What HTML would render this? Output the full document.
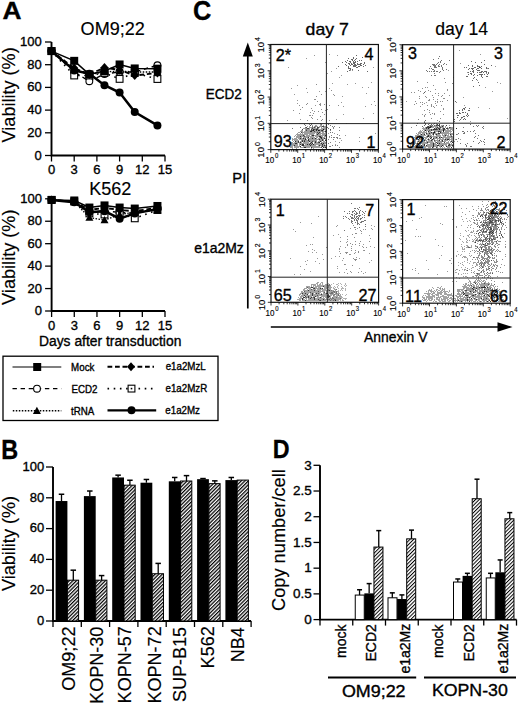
<!DOCTYPE html>
<html><head><meta charset="utf-8"><style>
html,body{margin:0;padding:0;background:#fff;}
svg{display:block;}
text{font-family:"Liberation Sans", sans-serif;fill:#000;stroke:#000;stroke-width:0.35px;}
line{stroke:#000;}
</style></head><body>
<svg width="520" height="705" viewBox="0 0 520 705">
<defs>
<pattern id="hatch" patternUnits="userSpaceOnUse" width="2.55" height="2.55" patternTransform="rotate(45)">
<rect width="2.55" height="2.55" fill="#fff"/><rect width="1.25" height="2.55" fill="#000"/>
</pattern>
<pattern id="hatchd" patternUnits="userSpaceOnUse" width="2.6" height="2.6" patternTransform="rotate(45)">
<rect width="2.6" height="2.6" fill="#fff"/><rect width="1.0" height="2.6" fill="#000"/>
</pattern>
</defs>
<rect width="520" height="705" fill="#fff"/>
<text transform="translate(2.42 19.00) rotate(0) scale(1.063 1)" font-size="24.75" font-weight="bold">A</text>
<text transform="translate(80.59 34.63) rotate(0) scale(0.979 1)" font-size="18.46" style="stroke-width:0.15px">OM9;22</text>
<path d="M51.50 42.00V155.50H165.00" fill="none" stroke="#000" stroke-width="1.9"/>
<line x1="45.00" y1="155.50" x2="51.50" y2="155.50" stroke-width="1.3"/>
<text x="41.80" y="159.50" font-size="13" text-anchor="end">0</text>
<line x1="45.00" y1="132.80" x2="51.50" y2="132.80" stroke-width="1.3"/>
<text x="41.80" y="136.80" font-size="13" text-anchor="end">20</text>
<line x1="45.00" y1="110.10" x2="51.50" y2="110.10" stroke-width="1.3"/>
<text x="41.80" y="114.10" font-size="13" text-anchor="end">40</text>
<line x1="45.00" y1="87.40" x2="51.50" y2="87.40" stroke-width="1.3"/>
<text x="41.80" y="91.40" font-size="13" text-anchor="end">60</text>
<line x1="45.00" y1="64.70" x2="51.50" y2="64.70" stroke-width="1.3"/>
<text x="41.80" y="68.70" font-size="13" text-anchor="end">80</text>
<line x1="45.00" y1="42.00" x2="51.50" y2="42.00" stroke-width="1.3"/>
<text x="41.80" y="46.00" font-size="13" text-anchor="end">100</text>
<line x1="51.50" y1="155.50" x2="51.50" y2="161.50" stroke-width="1.3"/>
<text x="51.50" y="174.30" font-size="13" text-anchor="middle">0</text>
<line x1="74.20" y1="155.50" x2="74.20" y2="161.50" stroke-width="1.3"/>
<text x="74.20" y="174.30" font-size="13" text-anchor="middle">3</text>
<line x1="96.90" y1="155.50" x2="96.90" y2="161.50" stroke-width="1.3"/>
<text x="96.90" y="174.30" font-size="13" text-anchor="middle">6</text>
<line x1="119.60" y1="155.50" x2="119.60" y2="161.50" stroke-width="1.3"/>
<text x="119.60" y="174.30" font-size="13" text-anchor="middle">9</text>
<line x1="142.30" y1="155.50" x2="142.30" y2="161.50" stroke-width="1.3"/>
<text x="142.30" y="174.30" font-size="13" text-anchor="middle">12</text>
<line x1="165.00" y1="155.50" x2="165.00" y2="161.50" stroke-width="1.3"/>
<text x="165.00" y="174.30" font-size="13" text-anchor="middle">15</text>
<text transform="translate(15.18 142.41) rotate(-90) scale(0.976 1)" font-size="18.53" style="stroke-width:0.15px">Viability (%)</text>
<polyline points="51.50,51.08 74.20,60.84 89.33,74.35 104.47,71.06 119.60,64.47 134.73,68.45 157.43,68.67" fill="none" stroke="#000" stroke-width="1.5"/>
<polyline points="51.50,51.08 74.20,71.96 89.33,81.27 104.47,74.01 119.60,71.96 134.73,71.96 157.43,65.27" fill="none" stroke="#000" stroke-width="1.4" stroke-dasharray="4.4,3.7"/>
<polyline points="51.50,51.08 74.20,70.03 89.33,74.46 104.47,71.96 119.60,71.06 134.73,71.96 157.43,71.96" fill="none" stroke="#000" stroke-width="1.4" stroke-dasharray="1.5,1.5"/>
<polyline points="51.50,51.08 74.20,68.11 89.33,74.46 104.47,67.54 119.60,70.03 134.73,75.48 157.43,72.99" fill="none" stroke="#000" stroke-width="1.9" stroke-dasharray="4.75,2.75"/>
<polyline points="51.50,51.08 74.20,75.48 89.33,75.48 104.47,72.99 119.60,78.89 134.73,72.99 157.43,79.00" fill="none" stroke="#000" stroke-width="1.6" stroke-dasharray="1.6,4.6"/>
<polyline points="51.50,51.08 74.20,70.38 89.33,73.78 104.47,85.13 119.60,92.51 134.73,112.03 157.43,125.42" fill="none" stroke="#000" stroke-width="2.5"/>
<circle cx="51.50" cy="51.08" r="3.40" fill="#fff" stroke="#000" stroke-width="1.1"/>
<circle cx="74.20" cy="71.96" r="3.40" fill="#fff" stroke="#000" stroke-width="1.1"/>
<circle cx="89.33" cy="81.27" r="3.40" fill="#fff" stroke="#000" stroke-width="1.1"/>
<circle cx="104.47" cy="74.01" r="3.40" fill="#fff" stroke="#000" stroke-width="1.1"/>
<circle cx="119.60" cy="71.96" r="3.40" fill="#fff" stroke="#000" stroke-width="1.1"/>
<circle cx="134.73" cy="71.96" r="3.40" fill="#fff" stroke="#000" stroke-width="1.1"/>
<circle cx="157.43" cy="65.27" r="3.40" fill="#fff" stroke="#000" stroke-width="1.1"/>
<rect x="48.10" y="47.68" width="6.80" height="6.80" fill="#fff" stroke="#000" stroke-width="1.1"/>
<rect x="70.80" y="72.08" width="6.80" height="6.80" fill="#fff" stroke="#000" stroke-width="1.1"/>
<rect x="85.93" y="72.08" width="6.80" height="6.80" fill="#fff" stroke="#000" stroke-width="1.1"/>
<rect x="101.07" y="69.59" width="6.80" height="6.80" fill="#fff" stroke="#000" stroke-width="1.1"/>
<rect x="116.20" y="75.49" width="6.80" height="6.80" fill="#fff" stroke="#000" stroke-width="1.1"/>
<rect x="131.33" y="69.59" width="6.80" height="6.80" fill="#fff" stroke="#000" stroke-width="1.1"/>
<rect x="154.03" y="75.60" width="6.80" height="6.80" fill="#fff" stroke="#000" stroke-width="1.1"/>
<path d="M51.50 47.08L55.50 54.28L47.50 54.28Z" fill="#000"/>
<path d="M74.20 66.03L78.20 73.23L70.20 73.23Z" fill="#000"/>
<path d="M89.33 70.46L93.33 77.66L85.33 77.66Z" fill="#000"/>
<path d="M104.47 67.96L108.47 75.16L100.47 75.16Z" fill="#000"/>
<path d="M119.60 67.06L123.60 74.26L115.60 74.26Z" fill="#000"/>
<path d="M134.73 67.96L138.73 75.16L130.73 75.16Z" fill="#000"/>
<path d="M157.43 67.96L161.43 75.16L153.43 75.16Z" fill="#000"/>
<path d="M51.50 46.58L55.50 51.08L51.50 55.58L47.50 51.08Z" fill="#000"/>
<path d="M74.20 63.61L78.20 68.11L74.20 72.61L70.20 68.11Z" fill="#000"/>
<path d="M89.33 69.96L93.33 74.46L89.33 78.96L85.33 74.46Z" fill="#000"/>
<path d="M104.47 63.04L108.47 67.54L104.47 72.04L100.47 67.54Z" fill="#000"/>
<path d="M119.60 65.53L123.60 70.03L119.60 74.53L115.60 70.03Z" fill="#000"/>
<path d="M134.73 70.98L138.73 75.48L134.73 79.98L130.73 75.48Z" fill="#000"/>
<path d="M157.43 68.49L161.43 72.99L157.43 77.49L153.43 72.99Z" fill="#000"/>
<rect x="47.50" y="47.08" width="8.00" height="8.00" fill="#000"/>
<rect x="70.20" y="56.84" width="8.00" height="8.00" fill="#000"/>
<rect x="85.33" y="70.35" width="8.00" height="8.00" fill="#000"/>
<rect x="100.47" y="67.06" width="8.00" height="8.00" fill="#000"/>
<rect x="115.60" y="60.47" width="8.00" height="8.00" fill="#000"/>
<rect x="130.73" y="64.45" width="8.00" height="8.00" fill="#000"/>
<rect x="153.43" y="64.67" width="8.00" height="8.00" fill="#000"/>
<circle cx="51.50" cy="51.08" r="4.00" fill="#000"/>
<circle cx="74.20" cy="70.38" r="4.00" fill="#000"/>
<circle cx="89.33" cy="73.78" r="4.00" fill="#000"/>
<circle cx="104.47" cy="85.13" r="4.00" fill="#000"/>
<circle cx="119.60" cy="92.51" r="4.00" fill="#000"/>
<circle cx="134.73" cy="112.03" r="4.00" fill="#000"/>
<circle cx="157.43" cy="125.42" r="4.00" fill="#000"/>
<text transform="translate(89.15 194.93) rotate(0) scale(0.997 1)" font-size="18.10" style="stroke-width:0.15px">K562</text>
<path d="M51.60 198.80V311.00H165.00" fill="none" stroke="#000" stroke-width="1.9"/>
<line x1="45.10" y1="311.00" x2="51.60" y2="311.00" stroke-width="1.3"/>
<text x="41.90" y="315.00" font-size="13" text-anchor="end">0</text>
<line x1="45.10" y1="288.56" x2="51.60" y2="288.56" stroke-width="1.3"/>
<text x="41.90" y="292.56" font-size="13" text-anchor="end">20</text>
<line x1="45.10" y1="266.12" x2="51.60" y2="266.12" stroke-width="1.3"/>
<text x="41.90" y="270.12" font-size="13" text-anchor="end">40</text>
<line x1="45.10" y1="243.68" x2="51.60" y2="243.68" stroke-width="1.3"/>
<text x="41.90" y="247.68" font-size="13" text-anchor="end">60</text>
<line x1="45.10" y1="221.24" x2="51.60" y2="221.24" stroke-width="1.3"/>
<text x="41.90" y="225.24" font-size="13" text-anchor="end">80</text>
<line x1="45.10" y1="198.80" x2="51.60" y2="198.80" stroke-width="1.3"/>
<text x="41.90" y="202.80" font-size="13" text-anchor="end">100</text>
<line x1="51.60" y1="311.00" x2="51.60" y2="317.00" stroke-width="1.3"/>
<text x="51.60" y="330.00" font-size="13" text-anchor="middle">0</text>
<line x1="74.28" y1="311.00" x2="74.28" y2="317.00" stroke-width="1.3"/>
<text x="74.28" y="330.00" font-size="13" text-anchor="middle">3</text>
<line x1="96.96" y1="311.00" x2="96.96" y2="317.00" stroke-width="1.3"/>
<text x="96.96" y="330.00" font-size="13" text-anchor="middle">6</text>
<line x1="119.64" y1="311.00" x2="119.64" y2="317.00" stroke-width="1.3"/>
<text x="119.64" y="330.00" font-size="13" text-anchor="middle">9</text>
<line x1="142.32" y1="311.00" x2="142.32" y2="317.00" stroke-width="1.3"/>
<text x="142.32" y="330.00" font-size="13" text-anchor="middle">12</text>
<line x1="165.00" y1="311.00" x2="165.00" y2="317.00" stroke-width="1.3"/>
<text x="165.00" y="330.00" font-size="13" text-anchor="middle">15</text>
<text transform="translate(15.18 304.91) rotate(-90) scale(0.980 1)" font-size="18.53" style="stroke-width:0.15px">Viability (%)</text>
<polyline points="51.60,199.92 74.28,200.48 89.40,207.55 104.52,205.42 119.64,207.55 134.76,208.56 157.44,205.98" fill="none" stroke="#000" stroke-width="1.5"/>
<polyline points="51.60,199.92 74.28,201.61 89.40,212.26 104.52,211.14 119.64,212.26 134.76,213.39 157.44,208.90" fill="none" stroke="#000" stroke-width="1.4" stroke-dasharray="4.4,3.7"/>
<polyline points="51.60,199.92 74.28,201.61 89.40,217.65 104.52,220.12 119.64,214.51 134.76,212.26 157.44,210.02" fill="none" stroke="#000" stroke-width="1.4" stroke-dasharray="1.5,1.5"/>
<polyline points="51.60,199.92 74.28,201.61 89.40,210.02 104.52,207.78 119.64,210.02 134.76,211.14 157.44,207.78" fill="none" stroke="#000" stroke-width="1.9" stroke-dasharray="4.75,2.75"/>
<polyline points="51.60,199.92 74.28,201.61 89.40,213.39 104.52,214.51 119.64,213.39 134.76,218.32 157.44,210.02" fill="none" stroke="#000" stroke-width="1.6" stroke-dasharray="1.6,4.6"/>
<polyline points="51.60,199.92 74.28,202.17 89.40,212.26 104.52,211.14 119.64,218.66 134.76,213.39 157.44,208.90" fill="none" stroke="#000" stroke-width="2.5"/>
<circle cx="51.60" cy="199.92" r="3.40" fill="#fff" stroke="#000" stroke-width="1.1"/>
<circle cx="74.28" cy="201.61" r="3.40" fill="#fff" stroke="#000" stroke-width="1.1"/>
<circle cx="89.40" cy="212.26" r="3.40" fill="#fff" stroke="#000" stroke-width="1.1"/>
<circle cx="104.52" cy="211.14" r="3.40" fill="#fff" stroke="#000" stroke-width="1.1"/>
<circle cx="119.64" cy="212.26" r="3.40" fill="#fff" stroke="#000" stroke-width="1.1"/>
<circle cx="134.76" cy="213.39" r="3.40" fill="#fff" stroke="#000" stroke-width="1.1"/>
<circle cx="157.44" cy="208.90" r="3.40" fill="#fff" stroke="#000" stroke-width="1.1"/>
<rect x="48.20" y="196.52" width="6.80" height="6.80" fill="#fff" stroke="#000" stroke-width="1.1"/>
<rect x="70.88" y="198.21" width="6.80" height="6.80" fill="#fff" stroke="#000" stroke-width="1.1"/>
<rect x="86.00" y="209.99" width="6.80" height="6.80" fill="#fff" stroke="#000" stroke-width="1.1"/>
<rect x="101.12" y="211.11" width="6.80" height="6.80" fill="#fff" stroke="#000" stroke-width="1.1"/>
<rect x="116.24" y="209.99" width="6.80" height="6.80" fill="#fff" stroke="#000" stroke-width="1.1"/>
<rect x="131.36" y="214.92" width="6.80" height="6.80" fill="#fff" stroke="#000" stroke-width="1.1"/>
<rect x="154.04" y="206.62" width="6.80" height="6.80" fill="#fff" stroke="#000" stroke-width="1.1"/>
<path d="M51.60 195.92L55.60 203.12L47.60 203.12Z" fill="#000"/>
<path d="M74.28 197.61L78.28 204.81L70.28 204.81Z" fill="#000"/>
<path d="M89.40 213.65L93.40 220.85L85.40 220.85Z" fill="#000"/>
<path d="M104.52 216.12L108.52 223.32L100.52 223.32Z" fill="#000"/>
<path d="M119.64 210.51L123.64 217.71L115.64 217.71Z" fill="#000"/>
<path d="M134.76 208.26L138.76 215.46L130.76 215.46Z" fill="#000"/>
<path d="M157.44 206.02L161.44 213.22L153.44 213.22Z" fill="#000"/>
<path d="M51.60 195.42L55.60 199.92L51.60 204.42L47.60 199.92Z" fill="#000"/>
<path d="M74.28 197.11L78.28 201.61L74.28 206.11L70.28 201.61Z" fill="#000"/>
<path d="M89.40 205.52L93.40 210.02L89.40 214.52L85.40 210.02Z" fill="#000"/>
<path d="M104.52 203.28L108.52 207.78L104.52 212.28L100.52 207.78Z" fill="#000"/>
<path d="M119.64 205.52L123.64 210.02L119.64 214.52L115.64 210.02Z" fill="#000"/>
<path d="M134.76 206.64L138.76 211.14L134.76 215.64L130.76 211.14Z" fill="#000"/>
<path d="M157.44 203.28L161.44 207.78L157.44 212.28L153.44 207.78Z" fill="#000"/>
<rect x="47.60" y="195.92" width="8.00" height="8.00" fill="#000"/>
<rect x="70.28" y="196.48" width="8.00" height="8.00" fill="#000"/>
<rect x="85.40" y="203.55" width="8.00" height="8.00" fill="#000"/>
<rect x="100.52" y="201.42" width="8.00" height="8.00" fill="#000"/>
<rect x="115.64" y="203.55" width="8.00" height="8.00" fill="#000"/>
<rect x="130.76" y="204.56" width="8.00" height="8.00" fill="#000"/>
<rect x="153.44" y="201.98" width="8.00" height="8.00" fill="#000"/>
<circle cx="51.60" cy="199.92" r="4.00" fill="#000"/>
<circle cx="74.28" cy="202.17" r="4.00" fill="#000"/>
<circle cx="89.40" cy="212.26" r="4.00" fill="#000"/>
<circle cx="104.52" cy="211.14" r="4.00" fill="#000"/>
<circle cx="119.64" cy="218.66" r="4.00" fill="#000"/>
<circle cx="134.76" cy="213.39" r="4.00" fill="#000"/>
<circle cx="157.44" cy="208.90" r="4.00" fill="#000"/>
<text transform="translate(39.01 345.90) rotate(0) scale(0.959 1)" font-size="14.45">Days after transduction</text>
<rect x="3" y="356.2" width="215" height="64.3" fill="none" stroke="#000" stroke-width="1.3"/>
<line x1="12.5" y1="367.0" x2="61.3" y2="367.0" stroke-width="1.2"/>
<rect x="33.20" y="363.00" width="8.00" height="8.00" fill="#000"/>
<text transform="translate(71.10 371.10) rotate(0) scale(0.920 1)" font-size="10.60">Mock</text>
<line x1="12.5" y1="388.7" x2="61.3" y2="388.7" stroke-width="1.2" stroke-dasharray="4.4,3.7"/>
<circle cx="37.00" cy="388.70" r="3.40" fill="#fff" stroke="#000" stroke-width="1.1"/>
<text transform="translate(71.50 392.60) rotate(0) scale(0.920 1)" font-size="10.60">ECD2</text>
<line x1="12.8" y1="410.8" x2="61.3" y2="410.8" stroke-width="1.4" stroke-dasharray="1.5,1.5"/>
<path d="M36.90 406.80L40.90 414.00L32.90 414.00Z" fill="#000"/>
<text transform="translate(71.10 414.50) rotate(0) scale(0.920 1)" font-size="10.60">tRNA</text>
<line x1="107.5" y1="366.8" x2="154.0" y2="366.8" stroke-width="1.9" stroke-dasharray="4.75,2.75"/>
<path d="M131.00 362.30L135.00 366.80L131.00 371.30L127.00 366.80Z" fill="#000"/>
<text transform="translate(165.70 370.40) rotate(0) scale(0.920 1)" font-size="10.60">e1a2MzL</text>
<line x1="107.5" y1="388.6" x2="154.0" y2="388.6" stroke-width="1.6" stroke-dasharray="1.6,4.6"/>
<rect x="128.10" y="385.20" width="6.80" height="6.80" fill="#fff" stroke="#000" stroke-width="1.1"/>
<rect x="130.70" y="387.80" width="1.6" height="1.6" fill="#000"/>
<text transform="translate(165.50 391.60) rotate(0) scale(0.920 1)" font-size="10.60">e1a2MzR</text>
<line x1="107.5" y1="410.3" x2="156.2" y2="410.3" stroke-width="2.3"/>
<circle cx="131.50" cy="410.30" r="4.00" fill="#000"/>
<text transform="translate(165.30 414.00) rotate(0) scale(0.920 1)" font-size="10.60">e1a2Mz</text>
<text transform="translate(1.37 458.90) rotate(0) scale(0.877 1)" font-size="26.71" font-weight="bold">B</text>
<path d="M53.00 467.00V621.00H251.10" fill="none" stroke="#000" stroke-width="1.9"/>
<line x1="46.00" y1="621.00" x2="53.00" y2="621.00" stroke-width="1.3"/>
<text x="44.20" y="624.70" font-size="13" text-anchor="end">0</text>
<line x1="46.00" y1="590.20" x2="53.00" y2="590.20" stroke-width="1.3"/>
<text x="44.20" y="593.90" font-size="13" text-anchor="end">20</text>
<line x1="46.00" y1="559.40" x2="53.00" y2="559.40" stroke-width="1.3"/>
<text x="44.20" y="563.10" font-size="13" text-anchor="end">40</text>
<line x1="46.00" y1="528.60" x2="53.00" y2="528.60" stroke-width="1.3"/>
<text x="44.20" y="532.30" font-size="13" text-anchor="end">60</text>
<line x1="46.00" y1="497.80" x2="53.00" y2="497.80" stroke-width="1.3"/>
<text x="44.20" y="501.50" font-size="13" text-anchor="end">80</text>
<line x1="46.00" y1="467.00" x2="53.00" y2="467.00" stroke-width="1.3"/>
<text x="44.20" y="470.70" font-size="13" text-anchor="end">100</text>
<line x1="53.00" y1="621.00" x2="53.00" y2="627.00" stroke-width="1.3"/>
<line x1="81.30" y1="621.00" x2="81.30" y2="627.00" stroke-width="1.3"/>
<line x1="109.60" y1="621.00" x2="109.60" y2="627.00" stroke-width="1.3"/>
<line x1="137.90" y1="621.00" x2="137.90" y2="627.00" stroke-width="1.3"/>
<line x1="166.20" y1="621.00" x2="166.20" y2="627.00" stroke-width="1.3"/>
<line x1="194.50" y1="621.00" x2="194.50" y2="627.00" stroke-width="1.3"/>
<line x1="222.80" y1="621.00" x2="222.80" y2="627.00" stroke-width="1.3"/>
<line x1="251.10" y1="621.00" x2="251.10" y2="627.00" stroke-width="1.3"/>
<text transform="translate(15.18 591.03) rotate(-90) scale(0.976 1)" font-size="18.53" style="stroke-width:0.15px">Viability (%)</text>
<rect x="55.60" y="501.03" width="11.80" height="119.97" fill="#000"/>
<line x1="61.50" y1="501.03" x2="61.50" y2="494.26" stroke-width="1.3"/>
<line x1="58.75" y1="494.26" x2="64.25" y2="494.26" stroke-width="1.5"/>
<rect x="67.40" y="580.19" width="11.20" height="40.81" fill="url(#hatch)" stroke="#000" stroke-width="1"/>
<line x1="73.30" y1="580.19" x2="73.30" y2="570.18" stroke-width="1.3"/>
<line x1="70.55" y1="570.18" x2="76.05" y2="570.18" stroke-width="1.5"/>
<text transform="translate(75.10 690.70) rotate(-90) scale(0.970 1)" font-size="18.60" style="stroke-width:0.15px">OM9;22</text>
<rect x="83.90" y="496.11" width="11.80" height="124.89" fill="#000"/>
<line x1="89.80" y1="496.11" x2="89.80" y2="491.02" stroke-width="1.3"/>
<line x1="87.05" y1="491.02" x2="92.55" y2="491.02" stroke-width="1.5"/>
<rect x="95.70" y="580.19" width="11.20" height="40.81" fill="url(#hatch)" stroke="#000" stroke-width="1"/>
<line x1="101.60" y1="580.19" x2="101.60" y2="575.57" stroke-width="1.3"/>
<line x1="98.85" y1="575.57" x2="104.35" y2="575.57" stroke-width="1.5"/>
<text transform="translate(103.20 703.90) rotate(-90) scale(0.970 1)" font-size="18.60" style="stroke-width:0.15px">KOPN-30</text>
<rect x="112.20" y="477.47" width="11.80" height="143.53" fill="#000"/>
<line x1="118.10" y1="477.47" x2="118.10" y2="475.16" stroke-width="1.3"/>
<line x1="115.35" y1="475.16" x2="120.85" y2="475.16" stroke-width="1.5"/>
<rect x="124.00" y="485.17" width="11.20" height="135.83" fill="url(#hatch)" stroke="#000" stroke-width="1"/>
<line x1="129.90" y1="485.17" x2="129.90" y2="480.24" stroke-width="1.3"/>
<line x1="127.15" y1="480.24" x2="132.65" y2="480.24" stroke-width="1.5"/>
<text transform="translate(131.10 703.40) rotate(-90) scale(0.970 1)" font-size="18.60" style="stroke-width:0.15px">KOPN-57</text>
<rect x="140.50" y="482.71" width="11.80" height="138.29" fill="#000"/>
<line x1="146.40" y1="482.71" x2="146.40" y2="479.47" stroke-width="1.3"/>
<line x1="143.65" y1="479.47" x2="149.15" y2="479.47" stroke-width="1.5"/>
<rect x="152.30" y="573.72" width="11.20" height="47.28" fill="url(#hatch)" stroke="#000" stroke-width="1"/>
<line x1="158.20" y1="573.72" x2="158.20" y2="563.40" stroke-width="1.3"/>
<line x1="155.45" y1="563.40" x2="160.95" y2="563.40" stroke-width="1.5"/>
<text transform="translate(161.30 703.50) rotate(-90) scale(0.970 1)" font-size="18.60" style="stroke-width:0.15px">KOPN-72</text>
<rect x="168.80" y="481.32" width="11.80" height="139.68" fill="#000"/>
<line x1="174.70" y1="481.32" x2="174.70" y2="477.47" stroke-width="1.3"/>
<line x1="171.95" y1="477.47" x2="177.45" y2="477.47" stroke-width="1.5"/>
<rect x="180.60" y="481.01" width="11.20" height="139.99" fill="url(#hatch)" stroke="#000" stroke-width="1"/>
<line x1="186.50" y1="481.01" x2="186.50" y2="475.62" stroke-width="1.3"/>
<line x1="183.75" y1="475.62" x2="189.25" y2="475.62" stroke-width="1.5"/>
<text transform="translate(186.40 702.10) rotate(-90) scale(0.970 1)" font-size="18.60" style="stroke-width:0.15px">SUP-B15</text>
<rect x="197.10" y="479.17" width="11.80" height="141.83" fill="#000"/>
<line x1="203.00" y1="479.17" x2="203.00" y2="478.55" stroke-width="1.3"/>
<line x1="200.25" y1="478.55" x2="205.75" y2="478.55" stroke-width="1.5"/>
<rect x="208.90" y="483.63" width="11.20" height="137.37" fill="url(#hatch)" stroke="#000" stroke-width="1"/>
<line x1="214.80" y1="483.63" x2="214.80" y2="480.86" stroke-width="1.3"/>
<line x1="212.05" y1="480.86" x2="217.55" y2="480.86" stroke-width="1.5"/>
<text transform="translate(214.30 668.40) rotate(-90) scale(0.970 1)" font-size="18.60" style="stroke-width:0.15px">K562</text>
<rect x="225.40" y="480.09" width="11.80" height="140.91" fill="#000"/>
<line x1="231.30" y1="480.09" x2="231.30" y2="477.47" stroke-width="1.3"/>
<line x1="228.55" y1="477.47" x2="234.05" y2="477.47" stroke-width="1.5"/>
<rect x="237.20" y="480.09" width="11.20" height="140.91" fill="url(#hatch)" stroke="#000" stroke-width="1"/>
<text transform="translate(243.50 662.30) rotate(-90) scale(0.970 1)" font-size="18.60" style="stroke-width:0.15px">NB4</text>
<text transform="translate(192.99 20.29) rotate(0) scale(0.928 1)" font-size="27.32" font-weight="bold">C</text>
<text transform="translate(305.57 34.63) rotate(0) scale(1.055 1)" font-size="16.75">day 7</text>
<text transform="translate(435.16 34.82) rotate(0) scale(0.976 1)" font-size="18.08" style="stroke-width:0.15px">day 14</text>
<line x1="247.80" y1="55.00" x2="247.80" y2="308.50" stroke-width="1.7"/>
<path d="M247.8 42.5L252.8 56.5L242.8 56.5Z" fill="#000"/>
<line x1="270.80" y1="327.00" x2="500.00" y2="327.00" stroke-width="1.5"/>
<path d="M512.5 327.0L497.5 322.2L497.5 331.8Z" fill="#000"/>
<text transform="translate(232.32 182.85) rotate(0) scale(0.973 1)" font-size="15.12">PI</text>
<text transform="translate(205.70 99.14) rotate(0) scale(0.956 1)" font-size="14.12">ECD2</text>
<text transform="translate(194.17 252.83) rotate(0) scale(1.008 1)" font-size="13.86">e1a2Mz</text>
<text transform="translate(364.08 341.74) rotate(0) scale(0.909 1)" font-size="15.32">Annexin V</text>
<path d="M306 144h1v1h-1zM323 133h1v1h-1zM322 143h1v1h-1zM322 134h1v1h-1zM297 142h1v1h-1zM317 127h1v1h-1zM298 140h1v1h-1zM320 124h1v1h-1zM318 134h1v1h-1zM319 146h1v1h-1zM312 133h1v1h-1zM320 137h1v1h-1zM308 140h1v1h-1zM304 147h1v1h-1zM292 144h1v1h-1zM312 134h1v1h-1zM302 147h1v1h-1zM309 141h1v1h-1zM317 126h1v1h-1zM307 136h1v1h-1zM318 127h1v1h-1zM324 137h1v1h-1zM295 138h1v1h-1zM314 130h1v1h-1zM312 136h1v1h-1zM308 131h1v1h-1zM307 140h1v1h-1zM312 129h1v1h-1zM312 131h1v1h-1zM307 129h1v1h-1zM307 141h1v1h-1zM300 139h1v1h-1zM318 129h1v1h-1zM301 134h1v1h-1zM312 135h1v1h-1zM315 130h1v1h-1zM324 138h1v1h-1zM307 140h1v1h-1zM318 129h1v1h-1zM324 143h1v1h-1zM325 136h1v1h-1zM315 127h1v1h-1zM297 142h1v1h-1zM302 139h1v1h-1zM295 145h1v1h-1zM299 146h1v1h-1zM324 147h1v1h-1zM312 139h1v1h-1zM323 125h1v1h-1zM321 138h1v1h-1zM293 139h1v1h-1zM309 129h1v1h-1zM323 147h1v1h-1zM303 143h1v1h-1zM324 136h1v1h-1zM316 131h1v1h-1zM315 130h1v1h-1zM322 130h1v1h-1zM293 141h1v1h-1zM322 135h1v1h-1zM296 147h1v1h-1zM317 133h1v1h-1zM310 136h1v1h-1zM307 138h1v1h-1zM323 147h1v1h-1zM292 142h1v1h-1zM307 135h1v1h-1zM339 138h1v1h-1zM312 139h1v1h-1zM309 127h1v1h-1zM305 139h1v1h-1zM321 141h1v1h-1zM310 137h1v1h-1zM297 140h1v1h-1zM306 131h1v1h-1zM319 143h1v1h-1zM325 142h1v1h-1zM306 131h1v1h-1zM319 138h1v1h-1zM304 135h1v1h-1zM321 133h1v1h-1zM312 138h1v1h-1zM300 133h1v1h-1zM317 128h1v1h-1zM301 144h1v1h-1zM312 131h1v1h-1zM318 143h1v1h-1zM296 144h1v1h-1zM313 139h1v1h-1zM310 134h1v1h-1zM307 138h1v1h-1zM294 142h1v1h-1zM314 126h1v1h-1zM320 138h1v1h-1zM305 131h1v1h-1zM314 146h1v1h-1zM320 135h1v1h-1zM304 128h1v1h-1zM308 141h1v1h-1zM308 136h1v1h-1zM309 131h1v1h-1zM320 126h1v1h-1zM320 137h1v1h-1zM294 144h1v1h-1zM307 126h1v1h-1zM323 128h1v1h-1zM306 147h1v1h-1zM299 142h1v1h-1zM318 143h1v1h-1zM310 140h1v1h-1zM316 141h1v1h-1zM295 139h1v1h-1zM297 142h1v1h-1zM311 142h1v1h-1zM292 140h1v1h-1zM312 147h1v1h-1zM312 145h1v1h-1zM307 131h1v1h-1zM321 129h1v1h-1zM323 139h1v1h-1zM322 146h1v1h-1zM291 142h1v1h-1zM320 134h1v1h-1zM315 131h1v1h-1zM318 133h1v1h-1zM306 140h1v1h-1zM320 137h1v1h-1zM317 130h1v1h-1zM306 128h1v1h-1zM302 145h1v1h-1zM308 142h1v1h-1zM299 146h1v1h-1zM322 134h1v1h-1zM317 135h1v1h-1zM301 136h1v1h-1zM319 141h1v1h-1zM319 147h1v1h-1zM315 140h1v1h-1zM323 129h1v1h-1zM324 137h1v1h-1zM317 146h1v1h-1zM323 126h1v1h-1zM319 142h1v1h-1zM297 146h1v1h-1zM306 136h1v1h-1zM308 147h1v1h-1zM305 142h1v1h-1zM317 127h1v1h-1zM326 142h1v1h-1zM300 137h1v1h-1zM290 147h1v1h-1zM324 131h1v1h-1zM296 134h1v1h-1zM319 135h1v1h-1zM308 142h1v1h-1zM322 133h1v1h-1zM308 138h1v1h-1zM310 146h1v1h-1zM316 133h1v1h-1zM292 148h1v1h-1zM296 146h1v1h-1zM297 145h1v1h-1zM301 135h1v1h-1zM317 134h1v1h-1zM300 139h1v1h-1zM305 131h1v1h-1zM321 137h1v1h-1zM324 146h1v1h-1zM304 128h1v1h-1zM314 147h1v1h-1zM299 139h1v1h-1zM317 142h1v1h-1zM307 136h1v1h-1zM317 143h1v1h-1zM307 133h1v1h-1zM320 129h1v1h-1zM309 132h1v1h-1zM301 139h1v1h-1zM301 135h1v1h-1zM305 147h1v1h-1zM325 130h1v1h-1zM322 133h1v1h-1zM317 136h1v1h-1zM314 132h1v1h-1zM295 146h1v1h-1zM313 127h1v1h-1zM307 136h1v1h-1zM325 138h1v1h-1zM312 129h1v1h-1zM305 140h1v1h-1zM315 145h1v1h-1zM319 132h1v1h-1zM312 140h1v1h-1zM318 135h1v1h-1zM305 147h1v1h-1zM305 137h1v1h-1zM300 134h1v1h-1zM309 145h1v1h-1zM315 131h1v1h-1zM305 134h1v1h-1zM304 141h1v1h-1zM313 147h1v1h-1zM324 145h1v1h-1zM321 145h1v1h-1zM303 144h1v1h-1zM310 142h1v1h-1zM323 137h1v1h-1zM312 133h1v1h-1zM306 134h1v1h-1zM310 133h1v1h-1zM300 136h1v1h-1zM297 140h1v1h-1zM312 131h1v1h-1zM321 144h1v1h-1zM307 141h1v1h-1zM320 139h1v1h-1zM297 141h1v1h-1zM319 146h1v1h-1zM294 142h1v1h-1zM323 126h1v1h-1zM307 131h1v1h-1zM323 147h1v1h-1zM298 140h1v1h-1zM325 146h1v1h-1zM322 133h1v1h-1zM321 135h1v1h-1zM308 147h1v1h-1zM326 134h1v1h-1zM316 137h1v1h-1zM312 136h1v1h-1zM291 146h1v1h-1zM315 145h1v1h-1zM300 141h1v1h-1zM325 147h1v1h-1zM310 137h1v1h-1zM295 147h1v1h-1zM310 137h1v1h-1zM320 129h1v1h-1zM309 143h1v1h-1zM297 145h1v1h-1zM312 135h1v1h-1zM293 145h1v1h-1zM309 147h1v1h-1zM303 132h1v1h-1zM305 142h1v1h-1zM314 145h1v1h-1zM308 145h1v1h-1zM302 135h1v1h-1zM314 145h1v1h-1zM308 146h1v1h-1zM316 143h1v1h-1zM301 147h1v1h-1zM323 143h1v1h-1zM292 147h1v1h-1zM320 141h1v1h-1zM298 140h1v1h-1zM318 130h1v1h-1zM298 137h1v1h-1zM302 143h1v1h-1zM316 137h1v1h-1zM321 145h1v1h-1zM314 143h1v1h-1zM304 138h1v1h-1zM307 144h1v1h-1zM303 137h1v1h-1zM324 134h1v1h-1zM317 127h1v1h-1zM314 128h1v1h-1zM322 126h1v1h-1zM323 131h1v1h-1zM301 134h1v1h-1zM301 143h1v1h-1zM323 145h1v1h-1zM295 140h1v1h-1zM309 139h1v1h-1zM298 132h1v1h-1zM302 133h1v1h-1zM323 131h1v1h-1zM299 144h1v1h-1zM321 131h1v1h-1zM314 140h1v1h-1zM301 138h1v1h-1zM298 135h1v1h-1zM303 141h1v1h-1zM324 138h1v1h-1zM315 144h1v1h-1zM319 145h1v1h-1zM316 137h1v1h-1zM321 136h1v1h-1zM324 131h1v1h-1zM307 133h1v1h-1zM296 142h1v1h-1zM325 142h1v1h-1zM311 135h1v1h-1zM323 144h1v1h-1zM319 147h1v1h-1zM324 127h1v1h-1zM296 138h1v1h-1zM295 146h1v1h-1zM297 141h1v1h-1zM297 133h1v1h-1zM310 133h1v1h-1zM325 127h1v1h-1zM301 134h1v1h-1zM301 147h1v1h-1zM325 143h1v1h-1zM312 134h1v1h-1zM314 140h1v1h-1zM302 134h1v1h-1zM321 140h1v1h-1zM310 130h1v1h-1zM311 129h1v1h-1zM313 140h1v1h-1zM316 125h1v1h-1zM321 143h1v1h-1zM321 137h1v1h-1zM321 128h1v1h-1zM326 135h1v1h-1zM310 131h1v1h-1zM324 138h1v1h-1zM312 146h1v1h-1zM323 138h1v1h-1zM305 141h1v1h-1zM323 135h1v1h-1zM321 145h1v1h-1zM292 139h1v1h-1zM313 130h1v1h-1zM321 146h1v1h-1zM315 138h1v1h-1zM303 144h1v1h-1zM298 147h1v1h-1zM322 132h1v1h-1zM309 129h1v1h-1zM325 128h1v1h-1zM314 139h1v1h-1zM297 136h1v1h-1zM314 132h1v1h-1zM326 142h1v1h-1zM303 140h1v1h-1zM335 144h1v1h-1zM324 135h1v1h-1zM322 142h1v1h-1zM311 127h1v1h-1zM308 143h1v1h-1zM300 147h1v1h-1zM325 138h1v1h-1zM297 134h1v1h-1zM320 143h1v1h-1zM302 134h1v1h-1zM323 134h1v1h-1zM317 131h1v1h-1zM326 132h1v1h-1zM321 141h1v1h-1zM301 136h1v1h-1zM325 147h1v1h-1zM318 138h1v1h-1zM294 139h1v1h-1zM321 126h1v1h-1zM293 141h1v1h-1zM324 138h1v1h-1zM309 138h1v1h-1zM303 142h1v1h-1zM312 125h1v1h-1zM308 129h1v1h-1zM323 126h1v1h-1zM313 135h1v1h-1zM313 129h1v1h-1zM301 132h1v1h-1zM317 146h1v1h-1zM323 131h1v1h-1zM322 130h1v1h-1zM318 146h1v1h-1zM300 142h1v1h-1zM295 142h1v1h-1zM294 142h1v1h-1zM322 140h1v1h-1zM316 129h1v1h-1zM291 144h1v1h-1zM302 133h1v1h-1zM292 143h1v1h-1zM325 133h1v1h-1zM319 135h1v1h-1zM308 135h1v1h-1zM322 137h1v1h-1zM291 144h1v1h-1zM300 136h1v1h-1zM312 128h1v1h-1zM308 128h1v1h-1zM296 142h1v1h-1zM301 139h1v1h-1zM315 130h1v1h-1zM303 139h1v1h-1zM315 145h1v1h-1zM297 136h1v1h-1zM311 127h1v1h-1zM317 127h1v1h-1zM318 139h1v1h-1zM307 144h1v1h-1zM311 128h1v1h-1zM318 143h1v1h-1zM296 134h1v1h-1zM319 133h1v1h-1zM293 144h1v1h-1zM314 129h1v1h-1zM297 140h1v1h-1zM313 141h1v1h-1zM309 135h1v1h-1zM323 133h1v1h-1zM314 140h1v1h-1zM314 133h1v1h-1zM307 145h1v1h-1zM307 142h1v1h-1zM324 133h1v1h-1zM316 131h1v1h-1zM326 130h1v1h-1zM311 141h1v1h-1zM303 132h1v1h-1zM320 131h1v1h-1zM312 128h1v1h-1zM292 146h1v1h-1zM314 130h1v1h-1zM321 137h1v1h-1zM292 145h1v1h-1zM311 134h1v1h-1zM300 141h1v1h-1zM292 138h1v1h-1zM308 139h1v1h-1zM300 142h1v1h-1zM302 129h1v1h-1zM326 131h1v1h-1zM325 147h1v1h-1zM313 137h1v1h-1zM318 128h1v1h-1zM306 144h1v1h-1zM313 146h1v1h-1zM301 142h1v1h-1zM307 147h1v1h-1zM311 130h1v1h-1zM306 131h1v1h-1zM314 138h1v1h-1zM297 137h1v1h-1zM293 143h1v1h-1zM320 144h1v1h-1zM320 132h1v1h-1zM300 135h1v1h-1zM304 134h1v1h-1zM306 133h1v1h-1zM295 140h1v1h-1zM316 132h1v1h-1zM320 133h1v1h-1zM323 146h1v1h-1zM309 127h1v1h-1zM297 147h1v1h-1zM322 128h1v1h-1zM314 140h1v1h-1zM318 134h1v1h-1zM298 147h1v1h-1zM295 138h1v1h-1zM309 134h1v1h-1zM313 129h1v1h-1zM306 130h1v1h-1zM310 145h1v1h-1zM325 129h1v1h-1zM321 137h1v1h-1zM294 144h1v1h-1zM319 145h1v1h-1zM303 142h1v1h-1zM311 146h1v1h-1zM310 146h1v1h-1zM313 132h1v1h-1zM297 135h1v1h-1zM300 138h1v1h-1zM308 132h1v1h-1zM320 130h1v1h-1zM304 132h1v1h-1zM309 146h1v1h-1zM293 144h1v1h-1zM301 144h1v1h-1zM312 137h1v1h-1zM323 140h1v1h-1zM325 128h1v1h-1zM302 134h1v1h-1zM309 133h1v1h-1zM324 131h1v1h-1zM296 148h1v1h-1zM319 126h1v1h-1zM291 144h1v1h-1zM311 143h1v1h-1zM302 131h1v1h-1zM326 130h1v1h-1zM292 144h1v1h-1zM297 142h1v1h-1zM321 135h1v1h-1zM308 146h1v1h-1zM313 137h1v1h-1zM294 147h1v1h-1zM294 140h1v1h-1zM305 142h1v1h-1zM321 143h1v1h-1zM307 132h1v1h-1zM309 128h1v1h-1zM304 135h1v1h-1zM303 140h1v1h-1zM321 145h1v1h-1zM298 146h1v1h-1zM321 146h1v1h-1zM300 131h1v1h-1zM293 145h1v1h-1zM317 128h1v1h-1zM323 139h1v1h-1zM322 133h1v1h-1zM314 142h1v1h-1zM324 141h1v1h-1zM313 144h1v1h-1zM301 147h1v1h-1zM315 143h1v1h-1zM320 141h1v1h-1zM317 131h1v1h-1zM306 136h1v1h-1zM311 132h1v1h-1zM314 127h1v1h-1zM317 128h1v1h-1zM317 130h1v1h-1zM319 137h1v1h-1zM302 143h1v1h-1zM298 141h1v1h-1zM320 140h1v1h-1zM322 136h1v1h-1zM303 147h1v1h-1zM317 126h1v1h-1zM322 138h1v1h-1zM300 134h1v1h-1zM324 144h1v1h-1zM319 131h1v1h-1zM312 135h1v1h-1zM303 141h1v1h-1zM300 134h1v1h-1zM301 145h1v1h-1zM314 129h1v1h-1zM301 135h1v1h-1zM319 147h1v1h-1zM311 128h1v1h-1zM319 139h1v1h-1zM312 134h1v1h-1zM311 131h1v1h-1zM323 142h1v1h-1zM303 146h1v1h-1zM294 140h1v1h-1zM325 126h1v1h-1zM304 146h1v1h-1zM313 144h1v1h-1zM308 139h1v1h-1zM310 146h1v1h-1zM294 138h1v1h-1zM291 147h1v1h-1zM309 141h1v1h-1zM298 141h1v1h-1zM313 146h1v1h-1zM315 138h1v1h-1zM299 146h1v1h-1zM306 142h1v1h-1zM322 140h1v1h-1zM312 140h1v1h-1zM325 133h1v1h-1zM297 142h1v1h-1zM301 137h1v1h-1zM317 146h1v1h-1zM318 136h1v1h-1zM316 135h1v1h-1zM320 147h1v1h-1zM295 144h1v1h-1zM315 138h1v1h-1zM309 134h1v1h-1zM306 127h1v1h-1zM311 141h1v1h-1zM315 132h1v1h-1zM305 146h1v1h-1zM311 145h1v1h-1zM307 136h1v1h-1zM309 138h1v1h-1zM322 138h1v1h-1zM305 144h1v1h-1zM322 140h1v1h-1zM322 129h1v1h-1zM312 131h1v1h-1zM335 141h1v1h-1zM313 131h1v1h-1zM311 139h1v1h-1zM302 138h1v1h-1zM294 146h1v1h-1zM319 138h1v1h-1zM325 138h1v1h-1zM308 131h1v1h-1zM301 132h1v1h-1zM307 143h1v1h-1zM324 141h1v1h-1zM310 137h1v1h-1zM305 146h1v1h-1zM318 131h1v1h-1zM309 132h1v1h-1zM307 141h1v1h-1zM323 129h1v1h-1zM296 146h1v1h-1zM323 129h1v1h-1zM314 141h1v1h-1zM323 130h1v1h-1zM306 145h1v1h-1zM323 134h1v1h-1zM300 136h1v1h-1zM323 147h1v1h-1zM319 143h1v1h-1zM314 129h1v1h-1zM309 135h1v1h-1zM304 145h1v1h-1zM308 139h1v1h-1zM295 140h1v1h-1zM312 130h1v1h-1zM312 142h1v1h-1zM319 139h1v1h-1zM311 139h1v1h-1zM312 144h1v1h-1zM317 144h1v1h-1zM302 139h1v1h-1zM299 143h1v1h-1zM309 140h1v1h-1zM318 144h1v1h-1zM313 148h1v1h-1zM300 136h1v1h-1zM322 140h1v1h-1zM308 131h1v1h-1zM294 146h1v1h-1zM303 141h1v1h-1zM305 136h1v1h-1zM324 127h1v1h-1zM311 140h1v1h-1zM319 144h1v1h-1zM314 147h1v1h-1zM312 131h1v1h-1zM304 132h1v1h-1zM311 148h1v1h-1zM290 142h1v1h-1zM324 142h1v1h-1zM313 132h1v1h-1zM319 144h1v1h-1zM299 145h1v1h-1zM318 134h1v1h-1zM317 147h1v1h-1zM316 135h1v1h-1zM316 135h1v1h-1zM323 128h1v1h-1zM317 146h1v1h-1zM318 147h1v1h-1zM317 133h1v1h-1zM317 135h1v1h-1zM316 144h1v1h-1zM311 147h1v1h-1zM296 147h1v1h-1zM316 129h1v1h-1zM315 127h1v1h-1zM308 130h1v1h-1zM325 134h1v1h-1zM312 129h1v1h-1zM307 137h1v1h-1zM312 138h1v1h-1zM297 141h1v1h-1zM323 141h1v1h-1zM320 133h1v1h-1zM319 126h1v1h-1zM299 136h1v1h-1zM318 145h1v1h-1zM320 137h1v1h-1zM308 141h1v1h-1zM310 143h1v1h-1zM306 141h1v1h-1zM293 139h1v1h-1zM309 131h1v1h-1zM316 134h1v1h-1zM289 146h1v1h-1zM307 143h1v1h-1zM317 131h1v1h-1zM292 143h1v1h-1zM301 144h1v1h-1zM323 138h1v1h-1zM301 139h1v1h-1zM302 144h1v1h-1zM326 131h1v1h-1zM308 131h1v1h-1zM319 139h1v1h-1zM292 144h1v1h-1zM300 147h1v1h-1zM310 139h1v1h-1zM309 138h1v1h-1zM312 142h1v1h-1zM301 138h1v1h-1zM302 139h1v1h-1zM295 141h1v1h-1zM301 145h1v1h-1zM309 141h1v1h-1zM307 135h1v1h-1zM308 145h1v1h-1zM318 144h1v1h-1zM318 130h1v1h-1zM317 144h1v1h-1zM310 133h1v1h-1zM314 135h1v1h-1zM305 132h1v1h-1zM305 130h1v1h-1zM294 147h1v1h-1zM303 138h1v1h-1zM302 132h1v1h-1zM294 143h1v1h-1zM303 140h1v1h-1zM294 142h1v1h-1zM295 143h1v1h-1zM296 141h1v1h-1zM307 129h1v1h-1zM316 134h1v1h-1zM321 145h1v1h-1zM305 134h1v1h-1zM316 142h1v1h-1zM292 143h1v1h-1zM308 132h1v1h-1zM321 145h1v1h-1zM317 133h1v1h-1zM322 144h1v1h-1zM291 147h1v1h-1zM294 136h1v1h-1zM312 138h1v1h-1zM314 133h1v1h-1zM302 135h1v1h-1zM320 136h1v1h-1zM311 130h1v1h-1zM307 142h1v1h-1zM309 140h1v1h-1zM298 146h1v1h-1zM316 129h1v1h-1zM297 146h1v1h-1zM316 132h1v1h-1zM317 129h1v1h-1zM310 127h1v1h-1zM315 136h1v1h-1zM301 132h1v1h-1zM296 136h1v1h-1zM308 146h1v1h-1zM301 135h1v1h-1zM305 133h1v1h-1zM313 137h1v1h-1zM307 137h1v1h-1zM299 143h1v1h-1zM321 133h1v1h-1zM304 146h1v1h-1zM309 127h1v1h-1zM314 144h1v1h-1zM315 142h1v1h-1zM309 128h1v1h-1zM296 147h1v1h-1zM300 143h1v1h-1zM307 130h1v1h-1zM318 134h1v1h-1zM325 135h1v1h-1zM306 139h1v1h-1zM323 125h1v1h-1zM292 146h1v1h-1zM324 138h1v1h-1zM325 135h1v1h-1zM297 143h1v1h-1zM314 126h1v1h-1zM319 134h1v1h-1zM308 136h1v1h-1zM301 131h1v1h-1zM323 137h1v1h-1zM320 147h1v1h-1zM317 147h1v1h-1zM309 128h1v1h-1zM318 135h1v1h-1zM325 135h1v1h-1zM314 137h1v1h-1zM307 136h1v1h-1zM317 135h1v1h-1zM303 140h1v1h-1zM320 136h1v1h-1zM317 142h1v1h-1zM306 132h1v1h-1zM314 127h1v1h-1zM312 130h1v1h-1zM301 145h1v1h-1zM316 132h1v1h-1zM291 145h1v1h-1zM324 146h1v1h-1zM321 143h1v1h-1zM298 136h1v1h-1zM326 140h1v1h-1zM321 127h1v1h-1zM322 130h1v1h-1zM322 129h1v1h-1zM308 139h1v1h-1zM320 125h1v1h-1zM299 136h1v1h-1zM306 146h1v1h-1zM302 145h1v1h-1zM294 136h1v1h-1zM323 144h1v1h-1zM324 126h1v1h-1zM312 145h1v1h-1zM319 130h1v1h-1zM313 133h1v1h-1zM310 132h1v1h-1zM304 133h1v1h-1zM311 143h1v1h-1zM325 147h1v1h-1zM314 129h1v1h-1zM319 145h1v1h-1zM312 129h1v1h-1zM291 146h1v1h-1zM310 125h1v1h-1zM301 145h1v1h-1zM308 128h1v1h-1zM314 142h1v1h-1zM322 134h1v1h-1zM309 141h1v1h-1zM307 140h1v1h-1zM317 146h1v1h-1zM303 137h1v1h-1zM319 130h1v1h-1zM313 138h1v1h-1zM325 132h1v1h-1zM315 128h1v1h-1zM318 135h1v1h-1zM295 145h1v1h-1zM306 147h1v1h-1zM306 145h1v1h-1zM296 145h1v1h-1zM311 134h1v1h-1zM308 146h1v1h-1zM304 147h1v1h-1zM320 126h1v1h-1zM325 131h1v1h-1zM304 147h1v1h-1zM309 140h1v1h-1zM308 141h1v1h-1zM302 138h1v1h-1zM312 136h1v1h-1zM320 140h1v1h-1zM307 131h1v1h-1zM318 132h1v1h-1zM299 135h1v1h-1zM297 135h1v1h-1zM312 142h1v1h-1zM310 134h1v1h-1zM292 147h1v1h-1zM302 141h1v1h-1zM326 147h1v1h-1zM321 143h1v1h-1zM291 144h1v1h-1zM325 145h1v1h-1zM313 134h1v1h-1zM325 127h1v1h-1zM311 128h1v1h-1zM311 132h1v1h-1zM295 141h1v1h-1zM315 142h1v1h-1zM294 147h1v1h-1zM292 144h1v1h-1zM301 143h1v1h-1zM314 133h1v1h-1zM323 139h1v1h-1zM322 133h1v1h-1zM323 140h1v1h-1zM316 146h1v1h-1zM323 128h1v1h-1zM317 131h1v1h-1zM302 135h1v1h-1zM313 131h1v1h-1zM311 139h1v1h-1zM302 134h1v1h-1zM316 146h1v1h-1zM300 142h1v1h-1zM309 147h1v1h-1zM316 140h1v1h-1zM323 145h1v1h-1zM303 140h1v1h-1zM307 134h1v1h-1zM322 143h1v1h-1zM321 137h1v1h-1zM323 147h1v1h-1zM315 146h1v1h-1zM310 138h1v1h-1zM317 136h1v1h-1zM300 146h1v1h-1zM301 147h1v1h-1zM299 136h1v1h-1zM301 135h1v1h-1zM317 129h1v1h-1zM307 138h1v1h-1zM325 131h1v1h-1zM308 129h1v1h-1zM305 134h1v1h-1zM318 133h1v1h-1zM324 129h1v1h-1zM326 130h1v1h-1zM312 145h1v1h-1zM326 136h1v1h-1zM304 142h1v1h-1zM322 130h1v1h-1zM319 138h1v1h-1zM305 143h1v1h-1zM319 145h1v1h-1zM306 136h1v1h-1zM308 146h1v1h-1zM295 142h1v1h-1zM305 128h1v1h-1zM325 140h1v1h-1zM324 134h1v1h-1zM313 137h1v1h-1zM308 133h1v1h-1zM323 140h1v1h-1zM316 138h1v1h-1zM296 136h1v1h-1zM308 132h1v1h-1zM317 128h1v1h-1zM304 145h1v1h-1zM325 139h1v1h-1zM303 147h1v1h-1zM314 141h1v1h-1zM316 132h1v1h-1zM319 140h1v1h-1zM315 139h1v1h-1zM299 139h1v1h-1zM323 144h1v1h-1zM313 131h1v1h-1zM295 144h1v1h-1zM323 128h1v1h-1zM308 142h1v1h-1zM317 133h1v1h-1zM316 143h1v1h-1zM315 125h1v1h-1zM320 137h1v1h-1zM310 143h1v1h-1zM322 135h1v1h-1zM306 142h1v1h-1zM305 145h1v1h-1zM308 136h1v1h-1zM308 136h1v1h-1zM326 131h1v1h-1zM306 146h1v1h-1zM312 130h1v1h-1zM302 139h1v1h-1zM311 133h1v1h-1zM309 141h1v1h-1zM311 133h1v1h-1zM323 147h1v1h-1zM319 145h1v1h-1zM317 134h1v1h-1zM319 132h1v1h-1zM310 130h1v1h-1zM323 135h1v1h-1zM291 142h1v1h-1zM323 126h1v1h-1zM297 139h1v1h-1zM303 128h1v1h-1zM314 146h1v1h-1zM298 134h1v1h-1zM304 134h1v1h-1zM300 138h1v1h-1zM315 144h1v1h-1zM306 135h1v1h-1zM295 135h1v1h-1zM312 140h1v1h-1zM308 147h1v1h-1zM301 134h1v1h-1zM300 139h1v1h-1zM298 146h1v1h-1zM315 127h1v1h-1zM321 139h1v1h-1zM325 140h1v1h-1zM316 135h1v1h-1zM309 127h1v1h-1zM312 142h1v1h-1zM310 140h1v1h-1zM325 147h1v1h-1zM299 138h1v1h-1zM298 141h1v1h-1zM323 132h1v1h-1zM321 138h1v1h-1zM325 132h1v1h-1zM316 141h1v1h-1zM314 130h1v1h-1zM308 137h1v1h-1zM302 135h1v1h-1zM322 132h1v1h-1zM316 126h1v1h-1zM299 134h1v1h-1zM322 135h1v1h-1zM304 138h1v1h-1zM310 127h1v1h-1zM296 144h1v1h-1zM307 146h1v1h-1zM300 144h1v1h-1zM309 131h1v1h-1zM320 138h1v1h-1zM301 134h1v1h-1zM304 131h1v1h-1zM312 143h1v1h-1zM321 129h1v1h-1zM308 147h1v1h-1zM299 143h1v1h-1zM319 133h1v1h-1zM299 137h1v1h-1zM324 137h1v1h-1zM317 133h1v1h-1zM308 132h1v1h-1zM308 140h1v1h-1zM305 147h1v1h-1zM295 142h1v1h-1zM325 146h1v1h-1zM296 137h1v1h-1zM325 133h1v1h-1zM310 138h1v1h-1zM309 132h1v1h-1zM306 136h1v1h-1zM315 132h1v1h-1zM316 133h1v1h-1zM326 127h1v1h-1zM313 128h1v1h-1zM290 143h1v1h-1zM307 141h1v1h-1zM304 147h1v1h-1zM305 133h1v1h-1zM306 136h1v1h-1zM321 137h1v1h-1zM309 144h1v1h-1zM314 131h1v1h-1zM313 132h1v1h-1zM313 139h1v1h-1zM328 133h1v1h-1zM301 140h1v1h-1zM321 143h1v1h-1zM314 137h1v1h-1zM297 147h1v1h-1zM315 128h1v1h-1zM307 128h1v1h-1zM296 147h1v1h-1zM323 127h1v1h-1zM312 137h1v1h-1zM318 138h1v1h-1zM312 132h1v1h-1zM291 147h1v1h-1zM294 140h1v1h-1zM316 128h1v1h-1zM310 138h1v1h-1zM307 145h1v1h-1zM312 138h1v1h-1zM304 143h1v1h-1zM321 133h1v1h-1zM295 141h1v1h-1zM297 143h1v1h-1zM319 129h1v1h-1zM302 136h1v1h-1zM317 130h1v1h-1zM295 140h1v1h-1zM321 141h1v1h-1zM318 130h1v1h-1zM309 141h1v1h-1zM298 138h1v1h-1zM311 138h1v1h-1zM308 140h1v1h-1zM299 137h1v1h-1zM313 136h1v1h-1zM321 130h1v1h-1zM325 140h1v1h-1zM297 146h1v1h-1zM300 143h1v1h-1zM301 141h1v1h-1zM324 128h1v1h-1zM310 145h1v1h-1zM307 136h1v1h-1zM320 143h1v1h-1zM322 129h1v1h-1zM301 144h1v1h-1zM297 144h1v1h-1zM303 136h1v1h-1zM311 147h1v1h-1zM340 138h1v1h-1zM305 144h1v1h-1zM303 141h1v1h-1zM314 144h1v1h-1zM291 143h1v1h-1zM324 144h1v1h-1zM302 133h1v1h-1zM302 134h1v1h-1zM320 145h1v1h-1zM308 144h1v1h-1zM315 140h1v1h-1zM303 137h1v1h-1zM296 139h1v1h-1zM330 129h1v1h-1zM297 137h1v1h-1zM313 135h1v1h-1zM302 139h1v1h-1zM311 143h1v1h-1zM305 129h1v1h-1zM326 137h1v1h-1zM311 137h1v1h-1zM300 135h1v1h-1zM305 137h1v1h-1zM309 130h1v1h-1zM301 131h1v1h-1zM315 131h1v1h-1zM320 147h1v1h-1zM319 127h1v1h-1zM323 135h1v1h-1zM318 127h1v1h-1zM316 130h1v1h-1zM303 135h1v1h-1zM308 129h1v1h-1zM323 132h1v1h-1zM325 143h1v1h-1zM312 142h1v1h-1zM294 146h1v1h-1zM307 144h1v1h-1zM320 137h1v1h-1zM293 145h1v1h-1zM302 144h1v1h-1zM309 146h1v1h-1zM299 137h1v1h-1zM315 135h1v1h-1zM323 143h1v1h-1zM323 130h1v1h-1zM297 136h1v1h-1zM321 125h1v1h-1zM290 147h1v1h-1zM326 129h1v1h-1zM320 133h1v1h-1zM326 125h1v1h-1zM321 142h1v1h-1zM309 126h1v1h-1zM321 136h1v1h-1zM325 142h1v1h-1zM318 129h1v1h-1zM292 147h1v1h-1zM305 147h1v1h-1zM317 137h1v1h-1zM303 139h1v1h-1zM309 133h1v1h-1zM316 138h1v1h-1zM316 130h1v1h-1zM306 144h1v1h-1zM319 144h1v1h-1zM319 134h1v1h-1zM313 146h1v1h-1zM314 127h1v1h-1zM313 145h1v1h-1zM318 141h1v1h-1zM306 127h1v1h-1zM303 145h1v1h-1zM294 145h1v1h-1zM306 137h1v1h-1zM301 139h1v1h-1zM297 146h1v1h-1zM291 146h1v1h-1zM318 133h1v1h-1zM308 137h1v1h-1zM320 140h1v1h-1zM310 139h1v1h-1zM311 136h1v1h-1zM314 139h1v1h-1zM304 137h1v1h-1zM316 146h1v1h-1zM321 137h1v1h-1zM309 130h1v1h-1zM305 133h1v1h-1zM290 147h1v1h-1zM306 133h1v1h-1zM291 147h1v1h-1zM320 143h1v1h-1zM309 132h1v1h-1zM323 143h1v1h-1zM303 137h1v1h-1zM318 144h1v1h-1zM305 133h1v1h-1zM315 139h1v1h-1zM311 133h1v1h-1zM316 144h1v1h-1zM294 138h1v1h-1zM324 133h1v1h-1zM299 136h1v1h-1zM311 136h1v1h-1zM300 133h1v1h-1zM300 146h1v1h-1zM290 146h1v1h-1zM314 132h1v1h-1zM294 143h1v1h-1zM323 130h1v1h-1zM312 144h1v1h-1zM307 134h1v1h-1zM309 128h1v1h-1zM307 132h1v1h-1zM329 137h1v1h-1zM303 145h1v1h-1zM317 139h1v1h-1zM320 135h1v1h-1zM311 138h1v1h-1zM306 140h1v1h-1zM300 133h1v1h-1zM309 136h1v1h-1zM321 126h1v1h-1zM297 139h1v1h-1zM302 134h1v1h-1zM310 130h1v1h-1zM304 146h1v1h-1zM309 132h1v1h-1zM309 140h1v1h-1zM316 139h1v1h-1zM302 145h1v1h-1zM311 139h1v1h-1zM316 129h1v1h-1zM301 130h1v1h-1zM303 134h1v1h-1zM318 128h1v1h-1zM305 147h1v1h-1zM297 147h1v1h-1zM290 147h1v1h-1zM315 128h1v1h-1zM315 128h1v1h-1zM313 146h1v1h-1zM294 146h1v1h-1zM326 132h1v1h-1zM323 126h1v1h-1zM310 141h1v1h-1zM312 147h1v1h-1zM316 139h1v1h-1zM320 134h1v1h-1zM306 143h1v1h-1zM294 139h1v1h-1zM318 131h1v1h-1zM294 136h1v1h-1zM311 128h1v1h-1zM317 129h1v1h-1zM303 147h1v1h-1zM302 130h1v1h-1zM308 131h1v1h-1zM316 147h1v1h-1zM299 143h1v1h-1zM309 141h1v1h-1zM314 147h1v1h-1zM305 140h1v1h-1zM304 138h1v1h-1zM321 138h1v1h-1zM302 145h1v1h-1zM295 142h1v1h-1zM313 135h1v1h-1zM306 145h1v1h-1zM297 135h1v1h-1zM322 148h1v1h-1zM320 132h1v1h-1zM307 129h1v1h-1zM304 139h1v1h-1zM310 144h1v1h-1zM301 147h1v1h-1zM299 132h1v1h-1zM325 143h1v1h-1zM310 145h1v1h-1zM319 136h1v1h-1zM301 142h1v1h-1zM303 139h1v1h-1zM323 135h1v1h-1zM296 143h1v1h-1zM315 147h1v1h-1zM306 134h1v1h-1zM311 139h1v1h-1zM317 134h1v1h-1zM316 136h1v1h-1zM313 136h1v1h-1zM299 143h1v1h-1zM295 141h1v1h-1zM305 145h1v1h-1zM317 136h1v1h-1zM313 140h1v1h-1zM307 132h1v1h-1zM308 142h1v1h-1zM325 130h1v1h-1zM313 146h1v1h-1zM311 132h1v1h-1zM295 141h1v1h-1zM297 141h1v1h-1zM310 143h1v1h-1zM302 147h1v1h-1zM310 141h1v1h-1zM323 125h1v1h-1zM312 139h1v1h-1zM312 135h1v1h-1zM296 140h1v1h-1zM315 128h1v1h-1zM313 147h1v1h-1zM314 147h1v1h-1zM305 139h1v1h-1zM301 138h1v1h-1zM306 137h1v1h-1zM301 131h1v1h-1zM323 139h1v1h-1z" fill="#000" fill-opacity="0.38"/>
<path d="M300 146h1v1h-1zM324 145h1v1h-1zM294 145h1v1h-1zM298 141h1v1h-1zM305 139h1v1h-1zM321 147h1v1h-1zM300 136h1v1h-1zM295 141h1v1h-1zM303 138h1v1h-1zM318 133h1v1h-1zM309 144h1v1h-1zM321 137h1v1h-1zM309 141h1v1h-1zM322 144h1v1h-1zM303 144h1v1h-1zM313 130h1v1h-1zM322 130h1v1h-1zM323 129h1v1h-1zM312 143h1v1h-1zM298 142h1v1h-1zM325 140h1v1h-1zM312 138h1v1h-1zM318 142h1v1h-1zM311 144h1v1h-1zM310 145h1v1h-1zM311 142h1v1h-1zM315 142h1v1h-1zM324 138h1v1h-1zM307 144h1v1h-1zM308 140h1v1h-1zM323 143h1v1h-1zM300 144h1v1h-1zM313 135h1v1h-1zM320 136h1v1h-1zM318 130h1v1h-1zM315 138h1v1h-1zM302 141h1v1h-1zM309 144h1v1h-1zM320 141h1v1h-1zM300 142h1v1h-1zM322 139h1v1h-1zM319 132h1v1h-1zM311 131h1v1h-1zM325 147h1v1h-1zM302 140h1v1h-1zM304 147h1v1h-1zM319 142h1v1h-1zM322 145h1v1h-1zM311 147h1v1h-1zM304 140h1v1h-1zM323 147h1v1h-1zM325 131h1v1h-1zM300 138h1v1h-1zM325 135h1v1h-1zM316 129h1v1h-1zM317 134h1v1h-1zM308 139h1v1h-1zM317 132h1v1h-1zM302 144h1v1h-1zM302 141h1v1h-1zM326 145h1v1h-1zM321 138h1v1h-1zM322 140h1v1h-1zM319 130h1v1h-1zM319 136h1v1h-1zM313 129h1v1h-1zM304 141h1v1h-1zM316 130h1v1h-1zM308 137h1v1h-1zM303 145h1v1h-1zM313 144h1v1h-1zM320 137h1v1h-1zM312 141h1v1h-1zM315 141h1v1h-1zM303 135h1v1h-1zM312 135h1v1h-1zM304 136h1v1h-1zM295 143h1v1h-1zM326 130h1v1h-1zM319 139h1v1h-1zM307 144h1v1h-1zM321 143h1v1h-1zM322 146h1v1h-1zM310 131h1v1h-1zM319 145h1v1h-1zM310 143h1v1h-1zM305 138h1v1h-1zM296 143h1v1h-1zM302 145h1v1h-1zM305 147h1v1h-1z" fill="#000" fill-opacity="0.7"/>
<path d="M305 125h1v1h-1zM308 128h1v1h-1zM317 127h1v1h-1zM312 128h1v1h-1zM306 127h1v1h-1zM315 129h1v1h-1zM321 130h1v1h-1zM310 125h1v1h-1zM317 128h1v1h-1zM318 130h1v1h-1zM321 130h1v1h-1zM312 126h1v1h-1zM311 130h1v1h-1zM311 124h1v1h-1zM312 126h1v1h-1zM321 124h1v1h-1zM323 126h1v1h-1zM307 128h1v1h-1zM301 132h1v1h-1zM314 127h1v1h-1zM322 131h1v1h-1zM311 129h1v1h-1zM304 124h1v1h-1zM312 127h1v1h-1zM328 124h1v1h-1zM327 127h1v1h-1zM311 123h1v1h-1zM314 131h1v1h-1zM314 129h1v1h-1zM315 129h1v1h-1zM312 130h1v1h-1zM328 128h1v1h-1zM311 130h1v1h-1zM318 127h1v1h-1zM313 130h1v1h-1zM320 123h1v1h-1zM330 132h1v1h-1zM306 129h1v1h-1zM300 127h1v1h-1zM315 126h1v1h-1zM323 129h1v1h-1zM318 127h1v1h-1zM317 129h1v1h-1zM311 129h1v1h-1zM330 129h1v1h-1zM322 126h1v1h-1zM302 129h1v1h-1zM306 130h1v1h-1zM292 128h1v1h-1zM305 127h1v1h-1z" fill="#000" fill-opacity="0.55"/>
<path d="M337 137h1v1h-1zM337 134h1v1h-1zM332 145h1v1h-1zM328 143h1v1h-1zM333 139h1v1h-1zM330 130h1v1h-1zM336 137h1v1h-1zM330 142h1v1h-1zM331 135h1v1h-1zM335 145h1v1h-1zM333 127h1v1h-1zM331 137h1v1h-1zM337 145h1v1h-1zM330 125h1v1h-1zM329 136h1v1h-1zM329 146h1v1h-1zM333 128h1v1h-1zM330 146h1v1h-1zM339 142h1v1h-1zM334 126h1v1h-1zM332 132h1v1h-1zM337 138h1v1h-1zM332 126h1v1h-1zM339 135h1v1h-1zM333 137h1v1h-1zM334 137h1v1h-1zM328 139h1v1h-1zM339 130h1v1h-1zM339 127h1v1h-1zM339 147h1v1h-1z" fill="#000" fill-opacity="0.5"/>
<path d="M348 66h1v1h-1zM352 69h1v1h-1zM349 63h1v1h-1zM361 60h1v1h-1zM351 63h1v1h-1zM350 62h1v1h-1zM356 67h1v1h-1zM354 63h1v1h-1zM358 64h1v1h-1zM345 61h1v1h-1zM349 64h1v1h-1zM357 64h1v1h-1zM355 61h1v1h-1zM359 64h1v1h-1zM360 63h1v1h-1zM348 58h1v1h-1zM362 57h1v1h-1zM349 61h1v1h-1zM350 68h1v1h-1zM365 65h1v1h-1zM342 62h1v1h-1zM355 65h1v1h-1zM346 65h1v1h-1zM352 59h1v1h-1zM347 71h1v1h-1zM361 63h1v1h-1zM354 66h1v1h-1zM355 61h1v1h-1zM350 62h1v1h-1zM353 57h1v1h-1zM357 67h1v1h-1zM360 65h1v1h-1zM354 62h1v1h-1zM358 70h1v1h-1zM355 59h1v1h-1zM353 57h1v1h-1zM350 62h1v1h-1zM363 66h1v1h-1zM348 63h1v1h-1zM354 64h1v1h-1zM356 58h1v1h-1zM353 61h1v1h-1zM359 66h1v1h-1zM352 64h1v1h-1zM356 55h1v1h-1zM354 60h1v1h-1zM348 67h1v1h-1zM356 65h1v1h-1zM351 64h1v1h-1zM345 64h1v1h-1zM357 63h1v1h-1zM364 62h1v1h-1zM352 60h1v1h-1zM360 65h1v1h-1zM350 69h1v1h-1zM354 60h1v1h-1zM360 64h1v1h-1zM348 68h1v1h-1zM355 62h1v1h-1zM351 59h1v1h-1zM360 63h1v1h-1zM350 61h1v1h-1zM351 64h1v1h-1zM358 66h1v1h-1zM338 66h1v1h-1zM349 68h1v1h-1zM361 63h1v1h-1zM349 70h1v1h-1zM353 62h1v1h-1zM354 64h1v1h-1zM347 60h1v1h-1zM353 58h1v1h-1zM355 66h1v1h-1zM354 65h1v1h-1zM353 66h1v1h-1zM363 64h1v1h-1zM353 65h1v1h-1zM348 67h1v1h-1zM355 65h1v1h-1zM354 63h1v1h-1zM357 61h1v1h-1zM364 63h1v1h-1zM355 64h1v1h-1zM367 71h1v1h-1zM353 63h1v1h-1zM359 60h1v1h-1zM350 65h1v1h-1zM350 69h1v1h-1zM346 62h1v1h-1zM361 65h1v1h-1z" fill="#000" fill-opacity="0.6"/>
<path d="M322 119h1v1h-1zM300 109h1v1h-1zM302 107h1v1h-1zM299 113h1v1h-1zM318 111h1v1h-1zM312 110h1v1h-1zM324 114h1v1h-1zM320 104h1v1h-1zM307 103h1v1h-1zM334 95h1v1h-1zM312 115h1v1h-1zM299 123h1v1h-1zM325 110h1v1h-1zM322 112h1v1h-1zM306 104h1v1h-1zM321 94h1v1h-1zM338 105h1v1h-1zM331 90h1v1h-1zM313 113h1v1h-1zM317 119h1v1h-1zM316 84h1v1h-1zM309 115h1v1h-1zM310 115h1v1h-1zM321 120h1v1h-1zM320 116h1v1h-1zM299 105h1v1h-1zM310 112h1v1h-1zM317 119h1v1h-1zM329 105h1v1h-1zM324 104h1v1h-1zM311 108h1v1h-1zM311 117h1v1h-1zM316 96h1v1h-1zM327 109h1v1h-1zM320 105h1v1h-1zM315 99h1v1h-1zM293 110h1v1h-1zM312 118h1v1h-1zM314 111h1v1h-1zM307 120h1v1h-1zM309 124h1v1h-1zM319 104h1v1h-1zM317 101h1v1h-1zM321 109h1v1h-1zM314 99h1v1h-1z" fill="#000" fill-opacity="0.45"/>
<path d="M331 71h1v1h-1zM297 85h1v1h-1zM327 73h1v1h-1zM314 55h1v1h-1zM325 91h1v1h-1zM288 67h1v1h-1zM333 94h1v1h-1zM325 62h1v1h-1zM297 100h1v1h-1zM306 88h1v1h-1zM300 119h1v1h-1zM297 103h1v1h-1zM329 88h1v1h-1zM315 105h1v1h-1zM319 91h1v1h-1zM341 75h1v1h-1zM339 77h1v1h-1zM307 92h1v1h-1zM291 88h1v1h-1zM306 58h1v1h-1zM294 94h1v1h-1zM329 120h1v1h-1zM287 120h1v1h-1zM320 103h1v1h-1zM336 119h1v1h-1z" fill="#000" fill-opacity="0.4"/>
<path d="M332 83h1v1h-1zM343 106h1v1h-1zM329 54h1v1h-1zM341 102h1v1h-1zM366 93h1v1h-1zM342 96h1v1h-1zM375 133h1v1h-1zM365 106h1v1h-1zM371 82h1v1h-1zM345 135h1v1h-1zM346 123h1v1h-1zM371 104h1v1h-1zM374 101h1v1h-1zM341 140h1v1h-1zM334 133h1v1h-1zM375 105h1v1h-1zM359 141h1v1h-1zM362 87h1v1h-1zM373 113h1v1h-1zM352 70h1v1h-1zM355 83h1v1h-1zM350 70h1v1h-1zM337 55h1v1h-1zM347 84h1v1h-1zM363 118h1v1h-1zM359 137h1v1h-1zM343 114h1v1h-1zM373 67h1v1h-1zM336 68h1v1h-1zM368 87h1v1h-1z" fill="#000" fill-opacity="0.4"/>
<rect x="270.80" y="44.50" width="107.60" height="105.10" fill="none" stroke="#111" stroke-width="1.2"/>
<line x1="326.40" y1="44.50" x2="326.40" y2="149.60" stroke-width="1.0" style="stroke:#222"/>
<line x1="270.80" y1="123.60" x2="378.40" y2="123.60" stroke-width="1.0" style="stroke:#222"/>
<path d="M270.80 149.60v3.2M270.80 149.60h-3.2M278.90 149.60v2.0M270.80 141.69h-2.0M283.63 149.60v2.0M270.80 137.06h-2.0M287.00 149.60v2.0M270.80 133.78h-2.0M289.60 149.60v2.0M270.80 131.23h-2.0M291.73 149.60v2.0M270.80 129.15h-2.0M293.53 149.60v2.0M270.80 127.40h-2.0M295.09 149.60v2.0M270.80 125.87h-2.0M296.47 149.60v2.0M270.80 124.53h-2.0M297.70 149.60v3.2M270.80 123.32h-3.2M305.80 149.60v2.0M270.80 115.42h-2.0M310.53 149.60v2.0M270.80 110.79h-2.0M313.90 149.60v2.0M270.80 107.51h-2.0M316.50 149.60v2.0M270.80 104.96h-2.0M318.63 149.60v2.0M270.80 102.88h-2.0M320.43 149.60v2.0M270.80 101.12h-2.0M321.99 149.60v2.0M270.80 99.60h-2.0M323.37 149.60v2.0M270.80 98.25h-2.0M324.60 149.60v3.2M270.80 97.05h-3.2M332.70 149.60v2.0M270.80 89.14h-2.0M337.43 149.60v2.0M270.80 84.51h-2.0M340.80 149.60v2.0M270.80 81.23h-2.0M343.40 149.60v2.0M270.80 78.68h-2.0M345.53 149.60v2.0M270.80 76.60h-2.0M347.33 149.60v2.0M270.80 74.85h-2.0M348.89 149.60v2.0M270.80 73.32h-2.0M350.27 149.60v2.0M270.80 71.98h-2.0M351.50 149.60v3.2M270.80 70.78h-3.2M359.60 149.60v2.0M270.80 62.87h-2.0M364.33 149.60v2.0M270.80 58.24h-2.0M367.70 149.60v2.0M270.80 54.96h-2.0M370.30 149.60v2.0M270.80 52.41h-2.0M372.43 149.60v2.0M270.80 50.33h-2.0M374.23 149.60v2.0M270.80 48.57h-2.0M375.79 149.60v2.0M270.80 47.05h-2.0M377.17 149.60v2.0M270.80 45.70h-2.0M378.40 149.60v3.2M270.80 44.50h-3.2" stroke="#000" stroke-width="0.8" fill="none"/>
<text transform="translate(271.80 163.00) scale(0.85 1)" font-size="9.5" text-anchor="middle" style="stroke-width:0.15px">10<tspan font-size="7" dx="0.8" dy="-4.6">0</tspan></text>
<text transform="translate(264.30 149.90) rotate(-90)" font-size="9.5" text-anchor="middle" style="stroke-width:0.15px">10<tspan font-size="7" dx="1" dy="-4.5">0</tspan></text>
<text transform="translate(298.70 163.00) scale(0.85 1)" font-size="9.5" text-anchor="middle" style="stroke-width:0.15px">10<tspan font-size="7" dx="0.8" dy="-4.6">1</tspan></text>
<text transform="translate(264.30 123.62) rotate(-90)" font-size="9.5" text-anchor="middle" style="stroke-width:0.15px">10<tspan font-size="7" dx="1" dy="-4.5">1</tspan></text>
<text transform="translate(325.60 163.00) scale(0.85 1)" font-size="9.5" text-anchor="middle" style="stroke-width:0.15px">10<tspan font-size="7" dx="0.8" dy="-4.6">2</tspan></text>
<text transform="translate(264.30 97.35) rotate(-90)" font-size="9.5" text-anchor="middle" style="stroke-width:0.15px">10<tspan font-size="7" dx="1" dy="-4.5">2</tspan></text>
<text transform="translate(352.50 163.00) scale(0.85 1)" font-size="9.5" text-anchor="middle" style="stroke-width:0.15px">10<tspan font-size="7" dx="0.8" dy="-4.6">3</tspan></text>
<text transform="translate(264.30 71.08) rotate(-90)" font-size="9.5" text-anchor="middle" style="stroke-width:0.15px">10<tspan font-size="7" dx="1" dy="-4.5">3</tspan></text>
<text transform="translate(379.40 163.00) scale(0.85 1)" font-size="9.5" text-anchor="middle" style="stroke-width:0.15px">10<tspan font-size="7" dx="0.8" dy="-4.6">4</tspan></text>
<text transform="translate(264.30 44.80) rotate(-90)" font-size="9.5" text-anchor="middle" style="stroke-width:0.15px">10<tspan font-size="7" dx="1" dy="-4.5">4</tspan></text>
<text transform="translate(275.70 60.80) rotate(0) scale(0.950 1)" font-size="17.00">2*</text>
<text transform="translate(364.60 60.20) rotate(0) scale(0.950 1)" font-size="17.00">4</text>
<text transform="translate(273.80 146.90) rotate(0) scale(0.950 1)" font-size="17.00">93</text>
<text transform="translate(366.55 148.40) rotate(0) scale(0.950 1)" font-size="17.00">1</text>
<path d="M419 133h1v1h-1zM434 130h1v1h-1zM451 134h1v1h-1zM414 141h1v1h-1zM435 140h1v1h-1zM426 127h1v1h-1zM437 126h1v1h-1zM414 141h1v1h-1zM420 146h1v1h-1zM447 128h1v1h-1zM433 134h1v1h-1zM430 132h1v1h-1zM412 147h1v1h-1zM420 130h1v1h-1zM449 127h1v1h-1zM432 130h1v1h-1zM437 124h1v1h-1zM432 126h1v1h-1zM422 142h1v1h-1zM430 129h1v1h-1zM412 141h1v1h-1zM455 139h1v1h-1zM443 139h1v1h-1zM450 131h1v1h-1zM438 131h1v1h-1zM421 145h1v1h-1zM444 129h1v1h-1zM410 146h1v1h-1zM440 147h1v1h-1zM443 137h1v1h-1zM417 134h1v1h-1zM425 127h1v1h-1zM431 143h1v1h-1zM445 134h1v1h-1zM425 146h1v1h-1zM443 137h1v1h-1zM440 137h1v1h-1zM449 137h1v1h-1zM432 133h1v1h-1zM433 126h1v1h-1zM451 128h1v1h-1zM444 134h1v1h-1zM445 132h1v1h-1zM445 130h1v1h-1zM428 142h1v1h-1zM429 142h1v1h-1zM440 146h1v1h-1zM439 139h1v1h-1zM418 139h1v1h-1zM428 131h1v1h-1zM440 143h1v1h-1zM431 132h1v1h-1zM433 130h1v1h-1zM436 145h1v1h-1zM449 139h1v1h-1zM427 135h1v1h-1zM436 130h1v1h-1zM448 141h1v1h-1zM414 142h1v1h-1zM427 133h1v1h-1zM426 129h1v1h-1zM430 135h1v1h-1zM428 138h1v1h-1zM413 146h1v1h-1zM418 144h1v1h-1zM433 126h1v1h-1zM430 126h1v1h-1zM434 129h1v1h-1zM439 145h1v1h-1zM429 131h1v1h-1zM442 147h1v1h-1zM428 133h1v1h-1zM441 130h1v1h-1zM453 146h1v1h-1zM441 140h1v1h-1zM422 146h1v1h-1zM437 127h1v1h-1zM438 141h1v1h-1zM419 139h1v1h-1zM450 145h1v1h-1zM413 146h1v1h-1zM446 125h1v1h-1zM436 136h1v1h-1zM440 126h1v1h-1zM434 137h1v1h-1zM440 142h1v1h-1zM432 145h1v1h-1zM448 145h1v1h-1zM429 142h1v1h-1zM418 146h1v1h-1zM426 129h1v1h-1zM439 133h1v1h-1zM431 136h1v1h-1zM438 125h1v1h-1zM425 139h1v1h-1zM446 145h1v1h-1zM431 135h1v1h-1zM449 137h1v1h-1zM432 141h1v1h-1zM443 126h1v1h-1zM446 140h1v1h-1zM453 145h1v1h-1zM444 143h1v1h-1zM425 135h1v1h-1zM416 133h1v1h-1zM428 134h1v1h-1zM436 138h1v1h-1zM441 145h1v1h-1zM446 132h1v1h-1zM451 143h1v1h-1zM437 136h1v1h-1zM414 137h1v1h-1zM417 135h1v1h-1zM449 140h1v1h-1zM430 146h1v1h-1zM439 137h1v1h-1zM437 128h1v1h-1zM420 132h1v1h-1zM450 145h1v1h-1zM441 139h1v1h-1zM447 143h1v1h-1zM439 127h1v1h-1zM434 133h1v1h-1zM452 136h1v1h-1zM447 136h1v1h-1zM435 127h1v1h-1zM417 136h1v1h-1zM423 135h1v1h-1zM443 136h1v1h-1zM440 143h1v1h-1zM437 130h1v1h-1zM446 133h1v1h-1zM444 132h1v1h-1zM439 140h1v1h-1zM440 132h1v1h-1zM414 147h1v1h-1zM425 137h1v1h-1zM435 146h1v1h-1zM431 127h1v1h-1zM423 139h1v1h-1zM443 141h1v1h-1zM447 147h1v1h-1zM435 127h1v1h-1zM443 132h1v1h-1zM420 133h1v1h-1zM423 133h1v1h-1zM416 144h1v1h-1zM425 143h1v1h-1zM427 136h1v1h-1zM420 137h1v1h-1zM447 140h1v1h-1zM429 139h1v1h-1zM419 140h1v1h-1zM439 127h1v1h-1zM419 137h1v1h-1zM425 143h1v1h-1zM448 142h1v1h-1zM432 129h1v1h-1zM448 135h1v1h-1zM453 142h1v1h-1zM431 146h1v1h-1zM442 135h1v1h-1zM434 138h1v1h-1zM437 138h1v1h-1zM438 144h1v1h-1zM418 143h1v1h-1zM426 142h1v1h-1zM426 130h1v1h-1zM448 130h1v1h-1zM422 146h1v1h-1zM451 131h1v1h-1zM426 141h1v1h-1zM425 129h1v1h-1zM434 132h1v1h-1zM432 127h1v1h-1zM418 146h1v1h-1zM444 130h1v1h-1zM423 129h1v1h-1zM453 131h1v1h-1zM437 135h1v1h-1zM431 129h1v1h-1zM446 137h1v1h-1zM419 141h1v1h-1zM443 138h1v1h-1zM419 146h1v1h-1zM444 133h1v1h-1zM430 146h1v1h-1zM423 131h1v1h-1zM446 128h1v1h-1zM427 136h1v1h-1zM439 133h1v1h-1zM415 147h1v1h-1zM443 143h1v1h-1zM438 125h1v1h-1zM422 139h1v1h-1zM426 128h1v1h-1zM415 138h1v1h-1zM428 136h1v1h-1zM433 137h1v1h-1zM445 130h1v1h-1zM422 135h1v1h-1zM424 139h1v1h-1zM432 136h1v1h-1zM451 137h1v1h-1zM448 134h1v1h-1zM426 134h1v1h-1zM424 130h1v1h-1zM433 137h1v1h-1zM423 127h1v1h-1zM430 140h1v1h-1zM429 128h1v1h-1zM446 131h1v1h-1zM421 135h1v1h-1zM448 146h1v1h-1zM433 142h1v1h-1zM445 140h1v1h-1zM441 133h1v1h-1zM439 128h1v1h-1zM420 144h1v1h-1zM424 131h1v1h-1zM414 140h1v1h-1zM436 127h1v1h-1zM447 140h1v1h-1zM419 144h1v1h-1zM422 136h1v1h-1zM439 142h1v1h-1zM428 135h1v1h-1zM450 130h1v1h-1zM443 139h1v1h-1zM435 130h1v1h-1zM428 134h1v1h-1zM424 137h1v1h-1zM440 132h1v1h-1zM417 141h1v1h-1zM425 129h1v1h-1zM418 137h1v1h-1zM451 139h1v1h-1zM432 146h1v1h-1zM437 146h1v1h-1zM416 135h1v1h-1zM452 141h1v1h-1zM449 137h1v1h-1zM435 136h1v1h-1zM419 135h1v1h-1zM442 128h1v1h-1zM423 134h1v1h-1zM443 129h1v1h-1zM425 137h1v1h-1zM442 143h1v1h-1zM417 142h1v1h-1zM437 140h1v1h-1zM446 137h1v1h-1zM422 133h1v1h-1zM445 141h1v1h-1zM432 129h1v1h-1zM433 124h1v1h-1zM418 140h1v1h-1zM444 132h1v1h-1zM443 141h1v1h-1zM429 140h1v1h-1zM447 137h1v1h-1zM425 140h1v1h-1zM427 137h1v1h-1zM439 125h1v1h-1zM450 131h1v1h-1zM424 128h1v1h-1zM450 133h1v1h-1zM443 146h1v1h-1zM441 142h1v1h-1zM430 137h1v1h-1zM417 142h1v1h-1zM449 133h1v1h-1zM420 143h1v1h-1zM434 132h1v1h-1zM436 133h1v1h-1zM453 135h1v1h-1zM447 128h1v1h-1zM442 144h1v1h-1zM433 147h1v1h-1zM435 130h1v1h-1zM449 128h1v1h-1zM450 146h1v1h-1zM428 141h1v1h-1zM448 129h1v1h-1zM424 142h1v1h-1zM451 140h1v1h-1zM444 135h1v1h-1zM432 130h1v1h-1zM436 134h1v1h-1zM441 130h1v1h-1zM420 144h1v1h-1zM416 143h1v1h-1zM448 139h1v1h-1zM439 124h1v1h-1zM422 136h1v1h-1zM421 136h1v1h-1zM429 146h1v1h-1zM445 129h1v1h-1zM448 132h1v1h-1zM442 135h1v1h-1zM438 145h1v1h-1zM416 144h1v1h-1zM431 142h1v1h-1zM436 127h1v1h-1zM432 147h1v1h-1zM448 136h1v1h-1zM437 147h1v1h-1zM421 138h1v1h-1zM434 128h1v1h-1zM443 141h1v1h-1zM453 145h1v1h-1zM439 130h1v1h-1zM439 131h1v1h-1zM441 143h1v1h-1zM431 133h1v1h-1zM432 143h1v1h-1zM441 130h1v1h-1zM451 141h1v1h-1zM439 141h1v1h-1zM444 136h1v1h-1zM431 139h1v1h-1zM444 133h1v1h-1zM424 137h1v1h-1zM411 142h1v1h-1zM430 145h1v1h-1zM435 126h1v1h-1zM436 129h1v1h-1zM445 132h1v1h-1zM412 144h1v1h-1zM428 135h1v1h-1zM437 146h1v1h-1zM453 132h1v1h-1zM429 132h1v1h-1zM444 139h1v1h-1zM422 133h1v1h-1zM418 147h1v1h-1zM440 141h1v1h-1zM426 145h1v1h-1zM451 129h1v1h-1zM428 132h1v1h-1zM442 140h1v1h-1zM420 135h1v1h-1zM421 132h1v1h-1zM449 138h1v1h-1zM416 135h1v1h-1zM443 130h1v1h-1zM443 141h1v1h-1zM418 139h1v1h-1zM410 145h1v1h-1zM412 144h1v1h-1zM434 141h1v1h-1zM426 146h1v1h-1zM416 144h1v1h-1zM415 146h1v1h-1zM431 145h1v1h-1zM425 132h1v1h-1zM438 138h1v1h-1zM450 145h1v1h-1zM427 128h1v1h-1zM429 145h1v1h-1zM446 143h1v1h-1zM436 140h1v1h-1zM426 141h1v1h-1zM450 133h1v1h-1zM434 139h1v1h-1zM428 126h1v1h-1zM430 134h1v1h-1zM439 133h1v1h-1zM451 139h1v1h-1zM435 136h1v1h-1zM434 126h1v1h-1zM426 146h1v1h-1zM441 126h1v1h-1zM421 142h1v1h-1zM421 143h1v1h-1zM445 139h1v1h-1zM421 146h1v1h-1zM435 140h1v1h-1zM447 132h1v1h-1zM421 138h1v1h-1zM433 144h1v1h-1zM453 138h1v1h-1zM440 139h1v1h-1zM423 137h1v1h-1zM438 140h1v1h-1zM435 137h1v1h-1zM444 128h1v1h-1zM415 142h1v1h-1zM426 136h1v1h-1zM444 132h1v1h-1zM450 134h1v1h-1zM439 136h1v1h-1zM447 138h1v1h-1zM419 143h1v1h-1zM444 134h1v1h-1zM427 129h1v1h-1zM439 125h1v1h-1zM438 125h1v1h-1zM429 144h1v1h-1zM451 144h1v1h-1zM429 141h1v1h-1zM445 134h1v1h-1zM441 140h1v1h-1zM452 130h1v1h-1zM437 139h1v1h-1zM434 137h1v1h-1zM449 137h1v1h-1zM435 129h1v1h-1zM424 132h1v1h-1zM432 136h1v1h-1zM431 136h1v1h-1zM422 135h1v1h-1zM427 145h1v1h-1zM423 132h1v1h-1zM442 134h1v1h-1zM449 139h1v1h-1zM439 128h1v1h-1zM449 139h1v1h-1zM410 147h1v1h-1zM425 138h1v1h-1zM449 139h1v1h-1zM420 139h1v1h-1zM437 134h1v1h-1zM435 132h1v1h-1zM446 139h1v1h-1zM427 134h1v1h-1zM448 133h1v1h-1zM446 132h1v1h-1zM443 132h1v1h-1zM453 135h1v1h-1zM437 133h1v1h-1zM413 143h1v1h-1zM449 140h1v1h-1zM414 146h1v1h-1zM439 139h1v1h-1zM420 130h1v1h-1zM449 143h1v1h-1zM439 129h1v1h-1zM426 133h1v1h-1zM421 146h1v1h-1zM437 140h1v1h-1zM422 137h1v1h-1zM439 144h1v1h-1zM433 145h1v1h-1zM447 131h1v1h-1zM440 144h1v1h-1zM431 141h1v1h-1zM423 142h1v1h-1zM430 145h1v1h-1zM423 132h1v1h-1zM443 143h1v1h-1zM441 137h1v1h-1zM428 131h1v1h-1zM439 140h1v1h-1zM437 142h1v1h-1zM439 143h1v1h-1zM445 145h1v1h-1zM413 144h1v1h-1zM421 142h1v1h-1zM433 127h1v1h-1zM418 139h1v1h-1zM439 129h1v1h-1zM432 134h1v1h-1zM431 130h1v1h-1zM444 137h1v1h-1zM421 137h1v1h-1zM422 135h1v1h-1zM431 141h1v1h-1zM424 139h1v1h-1zM417 141h1v1h-1zM448 131h1v1h-1zM453 131h1v1h-1zM416 135h1v1h-1zM435 131h1v1h-1zM429 126h1v1h-1zM421 140h1v1h-1zM452 136h1v1h-1zM437 128h1v1h-1zM425 140h1v1h-1zM433 133h1v1h-1zM442 128h1v1h-1zM431 129h1v1h-1zM425 140h1v1h-1zM460 139h1v1h-1zM433 146h1v1h-1zM454 141h1v1h-1zM434 145h1v1h-1zM415 143h1v1h-1zM429 140h1v1h-1zM443 138h1v1h-1zM447 129h1v1h-1zM424 131h1v1h-1zM447 138h1v1h-1zM421 145h1v1h-1zM447 137h1v1h-1zM447 133h1v1h-1zM416 136h1v1h-1zM446 146h1v1h-1zM443 145h1v1h-1zM440 136h1v1h-1zM439 139h1v1h-1zM448 131h1v1h-1zM432 127h1v1h-1zM427 143h1v1h-1zM438 144h1v1h-1zM452 145h1v1h-1zM435 146h1v1h-1zM420 134h1v1h-1zM447 136h1v1h-1zM438 144h1v1h-1zM426 141h1v1h-1zM440 132h1v1h-1zM430 133h1v1h-1zM422 145h1v1h-1zM422 141h1v1h-1zM448 128h1v1h-1zM437 135h1v1h-1zM447 129h1v1h-1zM447 129h1v1h-1zM439 128h1v1h-1zM451 134h1v1h-1zM451 144h1v1h-1zM423 135h1v1h-1zM439 126h1v1h-1zM446 139h1v1h-1zM425 130h1v1h-1zM451 140h1v1h-1zM440 128h1v1h-1zM429 129h1v1h-1zM432 130h1v1h-1zM414 140h1v1h-1zM432 127h1v1h-1zM435 142h1v1h-1zM417 136h1v1h-1zM438 128h1v1h-1zM439 131h1v1h-1zM436 130h1v1h-1zM445 126h1v1h-1zM433 126h1v1h-1zM421 132h1v1h-1zM433 132h1v1h-1zM433 137h1v1h-1zM422 142h1v1h-1zM425 146h1v1h-1zM436 126h1v1h-1zM453 132h1v1h-1zM434 130h1v1h-1zM452 144h1v1h-1zM417 144h1v1h-1zM448 142h1v1h-1zM420 145h1v1h-1zM415 141h1v1h-1zM438 127h1v1h-1zM432 129h1v1h-1zM423 128h1v1h-1zM423 133h1v1h-1zM419 133h1v1h-1zM438 129h1v1h-1zM424 146h1v1h-1zM421 141h1v1h-1zM430 126h1v1h-1zM423 144h1v1h-1zM445 143h1v1h-1zM437 134h1v1h-1zM420 134h1v1h-1zM442 133h1v1h-1zM430 129h1v1h-1zM428 133h1v1h-1zM435 128h1v1h-1zM438 133h1v1h-1zM445 134h1v1h-1zM415 142h1v1h-1zM431 143h1v1h-1zM451 141h1v1h-1zM431 138h1v1h-1zM439 135h1v1h-1zM435 140h1v1h-1zM427 144h1v1h-1zM447 142h1v1h-1zM451 145h1v1h-1zM419 141h1v1h-1zM418 137h1v1h-1zM453 137h1v1h-1zM435 127h1v1h-1zM437 131h1v1h-1zM439 127h1v1h-1zM443 141h1v1h-1zM432 142h1v1h-1zM444 144h1v1h-1zM440 147h1v1h-1zM445 136h1v1h-1zM433 134h1v1h-1zM447 127h1v1h-1zM439 145h1v1h-1zM444 136h1v1h-1zM423 142h1v1h-1zM438 135h1v1h-1zM448 138h1v1h-1zM436 144h1v1h-1zM441 131h1v1h-1zM450 142h1v1h-1zM449 137h1v1h-1zM427 141h1v1h-1zM431 143h1v1h-1zM418 135h1v1h-1zM446 146h1v1h-1zM452 142h1v1h-1zM447 130h1v1h-1zM445 144h1v1h-1zM448 139h1v1h-1zM423 140h1v1h-1zM448 137h1v1h-1zM449 138h1v1h-1zM423 140h1v1h-1zM431 139h1v1h-1zM448 135h1v1h-1zM437 128h1v1h-1zM438 141h1v1h-1zM445 138h1v1h-1zM434 146h1v1h-1zM427 130h1v1h-1zM439 127h1v1h-1zM453 135h1v1h-1zM450 144h1v1h-1zM419 139h1v1h-1zM417 135h1v1h-1zM438 125h1v1h-1zM438 138h1v1h-1zM421 134h1v1h-1zM413 141h1v1h-1zM447 128h1v1h-1zM442 143h1v1h-1zM437 129h1v1h-1zM426 140h1v1h-1zM432 132h1v1h-1zM414 146h1v1h-1zM423 139h1v1h-1zM433 127h1v1h-1zM424 133h1v1h-1zM452 128h1v1h-1zM442 133h1v1h-1zM448 131h1v1h-1zM446 132h1v1h-1zM420 145h1v1h-1zM444 140h1v1h-1zM432 147h1v1h-1zM419 131h1v1h-1zM441 146h1v1h-1zM450 130h1v1h-1zM442 126h1v1h-1zM453 144h1v1h-1zM430 143h1v1h-1zM431 144h1v1h-1zM446 138h1v1h-1zM434 138h1v1h-1zM440 135h1v1h-1zM424 129h1v1h-1zM429 131h1v1h-1zM432 134h1v1h-1zM442 129h1v1h-1zM449 139h1v1h-1zM429 129h1v1h-1zM433 137h1v1h-1zM428 138h1v1h-1zM423 141h1v1h-1zM433 138h1v1h-1zM419 139h1v1h-1zM445 137h1v1h-1zM441 143h1v1h-1zM452 134h1v1h-1zM446 128h1v1h-1zM430 133h1v1h-1zM432 133h1v1h-1zM421 147h1v1h-1zM453 146h1v1h-1zM433 136h1v1h-1zM450 142h1v1h-1zM418 135h1v1h-1zM432 136h1v1h-1zM426 145h1v1h-1zM423 132h1v1h-1zM450 136h1v1h-1zM422 133h1v1h-1zM444 136h1v1h-1zM426 134h1v1h-1zM444 134h1v1h-1zM440 127h1v1h-1zM445 132h1v1h-1zM439 126h1v1h-1zM443 128h1v1h-1zM435 138h1v1h-1zM429 128h1v1h-1zM438 141h1v1h-1zM429 127h1v1h-1zM427 134h1v1h-1zM418 132h1v1h-1zM420 141h1v1h-1zM427 136h1v1h-1zM452 137h1v1h-1zM449 140h1v1h-1zM449 143h1v1h-1zM444 130h1v1h-1zM416 137h1v1h-1zM416 138h1v1h-1zM431 135h1v1h-1zM411 147h1v1h-1zM440 136h1v1h-1zM441 139h1v1h-1zM425 127h1v1h-1zM437 138h1v1h-1zM420 131h1v1h-1zM421 140h1v1h-1zM424 147h1v1h-1zM438 138h1v1h-1zM431 140h1v1h-1zM422 136h1v1h-1zM417 142h1v1h-1zM424 144h1v1h-1zM431 138h1v1h-1zM432 132h1v1h-1zM440 139h1v1h-1zM427 128h1v1h-1zM432 127h1v1h-1zM421 142h1v1h-1zM415 145h1v1h-1zM412 143h1v1h-1zM424 137h1v1h-1zM419 144h1v1h-1zM434 126h1v1h-1zM448 129h1v1h-1zM417 144h1v1h-1zM452 146h1v1h-1zM432 133h1v1h-1zM428 146h1v1h-1zM445 144h1v1h-1zM429 139h1v1h-1zM430 134h1v1h-1zM428 141h1v1h-1zM428 129h1v1h-1zM436 124h1v1h-1zM428 134h1v1h-1zM436 140h1v1h-1zM452 144h1v1h-1zM451 128h1v1h-1zM420 135h1v1h-1zM440 133h1v1h-1zM451 138h1v1h-1zM438 133h1v1h-1zM442 140h1v1h-1zM436 131h1v1h-1zM424 145h1v1h-1zM451 147h1v1h-1zM411 144h1v1h-1zM430 138h1v1h-1zM424 135h1v1h-1zM450 132h1v1h-1zM448 139h1v1h-1zM452 127h1v1h-1zM438 132h1v1h-1zM438 143h1v1h-1zM411 144h1v1h-1zM439 131h1v1h-1zM414 137h1v1h-1zM445 136h1v1h-1zM419 137h1v1h-1zM428 131h1v1h-1zM434 137h1v1h-1zM442 127h1v1h-1zM440 138h1v1h-1zM441 141h1v1h-1zM424 134h1v1h-1zM415 141h1v1h-1zM439 135h1v1h-1zM434 130h1v1h-1zM434 136h1v1h-1zM443 146h1v1h-1zM440 145h1v1h-1zM426 127h1v1h-1zM426 130h1v1h-1zM429 133h1v1h-1zM435 142h1v1h-1zM432 134h1v1h-1zM423 133h1v1h-1zM448 137h1v1h-1zM414 143h1v1h-1zM419 146h1v1h-1zM440 144h1v1h-1zM434 138h1v1h-1zM450 135h1v1h-1zM440 126h1v1h-1zM429 133h1v1h-1zM441 130h1v1h-1zM436 140h1v1h-1zM428 145h1v1h-1zM445 134h1v1h-1zM437 142h1v1h-1zM450 142h1v1h-1zM442 138h1v1h-1zM431 137h1v1h-1zM446 132h1v1h-1zM432 145h1v1h-1zM437 129h1v1h-1zM429 142h1v1h-1zM445 131h1v1h-1zM449 128h1v1h-1zM448 130h1v1h-1zM430 131h1v1h-1zM423 146h1v1h-1zM419 140h1v1h-1zM420 139h1v1h-1zM416 146h1v1h-1zM451 145h1v1h-1zM418 135h1v1h-1zM446 135h1v1h-1zM434 130h1v1h-1zM448 146h1v1h-1zM424 140h1v1h-1zM448 143h1v1h-1zM427 127h1v1h-1zM420 141h1v1h-1zM433 145h1v1h-1zM421 132h1v1h-1zM443 133h1v1h-1zM448 147h1v1h-1zM435 144h1v1h-1zM444 135h1v1h-1zM449 131h1v1h-1zM423 146h1v1h-1zM441 125h1v1h-1zM423 133h1v1h-1zM423 128h1v1h-1zM451 147h1v1h-1zM419 137h1v1h-1zM418 140h1v1h-1zM419 138h1v1h-1zM422 146h1v1h-1zM423 146h1v1h-1zM431 127h1v1h-1zM415 141h1v1h-1zM428 129h1v1h-1zM445 139h1v1h-1zM431 126h1v1h-1zM453 132h1v1h-1zM443 131h1v1h-1zM417 145h1v1h-1zM436 128h1v1h-1zM433 142h1v1h-1zM434 143h1v1h-1zM415 136h1v1h-1zM450 135h1v1h-1zM438 142h1v1h-1zM418 135h1v1h-1zM449 125h1v1h-1zM436 134h1v1h-1zM425 142h1v1h-1zM428 130h1v1h-1zM452 138h1v1h-1zM432 141h1v1h-1zM421 140h1v1h-1zM412 141h1v1h-1zM450 139h1v1h-1zM424 132h1v1h-1zM445 133h1v1h-1zM428 131h1v1h-1zM430 135h1v1h-1zM412 144h1v1h-1zM420 132h1v1h-1zM441 127h1v1h-1zM428 139h1v1h-1zM443 127h1v1h-1zM418 134h1v1h-1zM441 133h1v1h-1zM447 133h1v1h-1zM434 143h1v1h-1zM435 140h1v1h-1zM426 146h1v1h-1zM447 133h1v1h-1zM419 146h1v1h-1zM419 140h1v1h-1zM451 127h1v1h-1zM446 144h1v1h-1zM449 130h1v1h-1zM445 134h1v1h-1zM433 135h1v1h-1zM412 142h1v1h-1zM426 145h1v1h-1zM437 142h1v1h-1zM421 140h1v1h-1zM440 130h1v1h-1zM452 139h1v1h-1zM443 144h1v1h-1zM450 129h1v1h-1zM423 144h1v1h-1zM413 145h1v1h-1zM451 135h1v1h-1zM446 139h1v1h-1zM450 133h1v1h-1zM449 144h1v1h-1zM445 144h1v1h-1zM439 126h1v1h-1zM415 141h1v1h-1zM450 137h1v1h-1zM439 140h1v1h-1zM428 127h1v1h-1zM443 136h1v1h-1zM436 126h1v1h-1zM450 145h1v1h-1zM447 130h1v1h-1zM432 142h1v1h-1zM429 133h1v1h-1zM421 139h1v1h-1zM448 137h1v1h-1zM422 142h1v1h-1zM450 130h1v1h-1zM450 131h1v1h-1zM433 135h1v1h-1zM433 132h1v1h-1zM417 142h1v1h-1zM432 139h1v1h-1zM445 137h1v1h-1zM439 143h1v1h-1zM420 145h1v1h-1zM432 132h1v1h-1zM442 145h1v1h-1zM436 130h1v1h-1zM437 127h1v1h-1zM432 136h1v1h-1zM453 135h1v1h-1zM448 135h1v1h-1zM416 143h1v1h-1zM422 144h1v1h-1zM433 126h1v1h-1zM427 139h1v1h-1zM432 144h1v1h-1zM428 128h1v1h-1zM440 132h1v1h-1zM425 138h1v1h-1zM426 138h1v1h-1zM421 146h1v1h-1zM439 141h1v1h-1zM421 132h1v1h-1zM415 139h1v1h-1zM429 135h1v1h-1zM441 143h1v1h-1zM448 131h1v1h-1zM430 137h1v1h-1zM429 140h1v1h-1zM413 147h1v1h-1zM414 139h1v1h-1zM446 140h1v1h-1zM427 133h1v1h-1zM413 142h1v1h-1zM440 138h1v1h-1zM427 129h1v1h-1zM430 137h1v1h-1zM421 139h1v1h-1zM437 145h1v1h-1zM438 134h1v1h-1zM421 142h1v1h-1zM411 144h1v1h-1zM429 147h1v1h-1zM433 144h1v1h-1zM427 136h1v1h-1zM426 140h1v1h-1zM427 129h1v1h-1zM428 135h1v1h-1zM424 130h1v1h-1zM441 141h1v1h-1zM446 138h1v1h-1zM419 142h1v1h-1zM433 138h1v1h-1zM432 136h1v1h-1zM423 135h1v1h-1zM434 138h1v1h-1zM428 144h1v1h-1zM441 141h1v1h-1zM451 133h1v1h-1zM434 128h1v1h-1zM436 124h1v1h-1zM425 135h1v1h-1zM438 134h1v1h-1zM432 127h1v1h-1zM426 131h1v1h-1zM430 140h1v1h-1zM416 136h1v1h-1zM446 140h1v1h-1zM438 130h1v1h-1zM435 133h1v1h-1zM429 126h1v1h-1zM426 131h1v1h-1zM440 126h1v1h-1zM434 141h1v1h-1zM449 133h1v1h-1zM449 143h1v1h-1zM423 139h1v1h-1zM444 143h1v1h-1zM450 141h1v1h-1zM437 126h1v1h-1zM447 128h1v1h-1zM422 137h1v1h-1zM449 128h1v1h-1zM439 137h1v1h-1zM426 128h1v1h-1zM425 147h1v1h-1zM433 145h1v1h-1zM440 130h1v1h-1zM448 141h1v1h-1zM422 132h1v1h-1zM420 139h1v1h-1zM433 135h1v1h-1zM416 139h1v1h-1zM419 135h1v1h-1zM422 139h1v1h-1zM441 133h1v1h-1zM419 136h1v1h-1zM420 143h1v1h-1zM447 147h1v1h-1zM435 144h1v1h-1zM436 145h1v1h-1zM415 135h1v1h-1zM419 132h1v1h-1zM436 144h1v1h-1zM436 135h1v1h-1zM416 144h1v1h-1zM415 138h1v1h-1zM450 132h1v1h-1zM436 136h1v1h-1zM437 136h1v1h-1zM436 133h1v1h-1zM419 133h1v1h-1zM420 141h1v1h-1zM432 140h1v1h-1zM445 127h1v1h-1zM413 138h1v1h-1zM420 145h1v1h-1zM439 135h1v1h-1zM441 125h1v1h-1zM414 140h1v1h-1zM438 145h1v1h-1zM415 146h1v1h-1zM447 142h1v1h-1zM453 138h1v1h-1zM426 131h1v1h-1zM435 145h1v1h-1zM420 138h1v1h-1zM438 125h1v1h-1zM411 144h1v1h-1zM437 141h1v1h-1zM443 128h1v1h-1zM433 139h1v1h-1zM445 127h1v1h-1zM415 136h1v1h-1zM430 130h1v1h-1zM430 129h1v1h-1zM429 136h1v1h-1zM442 130h1v1h-1zM427 146h1v1h-1zM444 141h1v1h-1zM423 134h1v1h-1zM432 146h1v1h-1zM436 146h1v1h-1zM425 138h1v1h-1zM429 134h1v1h-1zM430 147h1v1h-1zM436 125h1v1h-1zM427 142h1v1h-1zM450 132h1v1h-1zM453 139h1v1h-1zM415 137h1v1h-1zM444 132h1v1h-1zM413 143h1v1h-1zM443 137h1v1h-1zM439 134h1v1h-1zM437 136h1v1h-1zM446 128h1v1h-1zM431 132h1v1h-1zM447 139h1v1h-1zM423 138h1v1h-1zM435 145h1v1h-1zM424 139h1v1h-1zM435 127h1v1h-1zM446 140h1v1h-1zM428 126h1v1h-1zM438 136h1v1h-1zM425 139h1v1h-1zM445 143h1v1h-1zM440 145h1v1h-1zM442 135h1v1h-1zM423 131h1v1h-1zM447 146h1v1h-1zM435 125h1v1h-1zM423 140h1v1h-1zM439 134h1v1h-1zM447 136h1v1h-1zM437 142h1v1h-1zM417 139h1v1h-1zM439 146h1v1h-1zM428 134h1v1h-1zM437 143h1v1h-1zM414 140h1v1h-1zM453 143h1v1h-1zM416 145h1v1h-1zM440 135h1v1h-1zM433 142h1v1h-1zM420 144h1v1h-1zM440 127h1v1h-1zM439 139h1v1h-1zM421 131h1v1h-1zM439 130h1v1h-1zM431 129h1v1h-1zM426 132h1v1h-1zM415 140h1v1h-1zM429 125h1v1h-1zM425 140h1v1h-1zM453 135h1v1h-1zM419 136h1v1h-1zM423 131h1v1h-1zM437 124h1v1h-1zM452 129h1v1h-1zM428 147h1v1h-1zM452 140h1v1h-1zM418 135h1v1h-1zM431 133h1v1h-1zM445 141h1v1h-1zM442 137h1v1h-1zM410 147h1v1h-1zM416 139h1v1h-1zM447 135h1v1h-1zM432 132h1v1h-1zM430 142h1v1h-1zM428 139h1v1h-1zM442 139h1v1h-1zM442 125h1v1h-1zM442 145h1v1h-1zM426 143h1v1h-1zM414 143h1v1h-1zM429 145h1v1h-1zM446 134h1v1h-1zM432 140h1v1h-1zM447 136h1v1h-1zM446 131h1v1h-1zM435 141h1v1h-1zM422 133h1v1h-1zM427 144h1v1h-1zM432 144h1v1h-1zM433 146h1v1h-1zM423 137h1v1h-1zM418 133h1v1h-1zM448 136h1v1h-1zM450 145h1v1h-1zM429 137h1v1h-1zM422 134h1v1h-1zM445 135h1v1h-1zM433 145h1v1h-1zM451 145h1v1h-1zM425 146h1v1h-1zM435 126h1v1h-1zM424 146h1v1h-1zM426 132h1v1h-1zM412 144h1v1h-1zM426 137h1v1h-1zM431 126h1v1h-1zM450 145h1v1h-1zM439 144h1v1h-1zM415 140h1v1h-1zM419 143h1v1h-1zM432 136h1v1h-1zM423 140h1v1h-1zM441 132h1v1h-1zM425 128h1v1h-1zM439 134h1v1h-1zM457 134h1v1h-1zM434 144h1v1h-1zM447 143h1v1h-1zM441 143h1v1h-1zM432 133h1v1h-1zM447 130h1v1h-1zM442 138h1v1h-1zM439 138h1v1h-1zM430 144h1v1h-1zM443 143h1v1h-1zM421 143h1v1h-1zM440 137h1v1h-1zM430 131h1v1h-1zM449 131h1v1h-1zM434 130h1v1h-1zM439 137h1v1h-1zM424 147h1v1h-1zM450 133h1v1h-1zM448 135h1v1h-1zM453 131h1v1h-1zM424 133h1v1h-1zM424 141h1v1h-1zM432 143h1v1h-1zM431 126h1v1h-1zM436 134h1v1h-1zM433 143h1v1h-1zM422 146h1v1h-1zM449 133h1v1h-1zM451 145h1v1h-1zM436 128h1v1h-1zM430 141h1v1h-1zM419 144h1v1h-1zM449 146h1v1h-1zM446 132h1v1h-1zM441 145h1v1h-1zM431 125h1v1h-1zM443 135h1v1h-1zM427 146h1v1h-1zM419 141h1v1h-1zM428 133h1v1h-1zM445 131h1v1h-1zM448 130h1v1h-1zM435 129h1v1h-1zM439 124h1v1h-1zM417 141h1v1h-1zM430 133h1v1h-1zM425 128h1v1h-1zM439 130h1v1h-1zM416 138h1v1h-1zM435 134h1v1h-1zM448 144h1v1h-1zM418 134h1v1h-1zM424 143h1v1h-1zM436 137h1v1h-1zM423 145h1v1h-1zM423 134h1v1h-1zM422 138h1v1h-1zM434 141h1v1h-1zM448 142h1v1h-1zM428 131h1v1h-1zM448 144h1v1h-1zM431 142h1v1h-1zM419 136h1v1h-1zM440 129h1v1h-1zM433 145h1v1h-1zM433 134h1v1h-1zM431 126h1v1h-1zM447 136h1v1h-1zM435 142h1v1h-1zM435 145h1v1h-1zM441 139h1v1h-1zM436 123h1v1h-1zM437 143h1v1h-1zM422 128h1v1h-1zM433 127h1v1h-1zM453 145h1v1h-1zM419 133h1v1h-1zM434 128h1v1h-1zM425 143h1v1h-1zM428 140h1v1h-1zM423 143h1v1h-1zM418 145h1v1h-1zM419 142h1v1h-1zM427 137h1v1h-1zM425 143h1v1h-1zM420 138h1v1h-1zM446 142h1v1h-1zM442 127h1v1h-1zM449 136h1v1h-1zM419 143h1v1h-1zM410 146h1v1h-1zM442 126h1v1h-1zM448 146h1v1h-1zM445 139h1v1h-1zM445 132h1v1h-1zM450 128h1v1h-1zM423 129h1v1h-1zM428 133h1v1h-1zM438 130h1v1h-1zM445 139h1v1h-1zM426 129h1v1h-1zM439 138h1v1h-1zM413 145h1v1h-1zM447 136h1v1h-1zM445 136h1v1h-1zM452 134h1v1h-1zM447 142h1v1h-1zM453 140h1v1h-1zM431 146h1v1h-1zM422 143h1v1h-1zM427 137h1v1h-1zM441 129h1v1h-1zM426 136h1v1h-1zM437 129h1v1h-1zM444 147h1v1h-1zM438 141h1v1h-1zM447 146h1v1h-1zM420 134h1v1h-1zM433 143h1v1h-1zM445 145h1v1h-1zM443 133h1v1h-1zM424 130h1v1h-1zM422 130h1v1h-1zM431 138h1v1h-1zM435 131h1v1h-1zM453 140h1v1h-1zM449 147h1v1h-1zM439 143h1v1h-1zM446 134h1v1h-1zM417 143h1v1h-1zM417 135h1v1h-1zM428 135h1v1h-1zM432 143h1v1h-1zM442 132h1v1h-1zM425 135h1v1h-1zM452 144h1v1h-1zM444 137h1v1h-1zM441 140h1v1h-1zM419 139h1v1h-1zM432 134h1v1h-1zM441 144h1v1h-1zM435 131h1v1h-1zM430 145h1v1h-1zM443 131h1v1h-1zM417 145h1v1h-1zM417 142h1v1h-1zM440 139h1v1h-1zM414 144h1v1h-1zM432 133h1v1h-1zM452 133h1v1h-1zM410 144h1v1h-1zM428 141h1v1h-1zM437 129h1v1h-1zM415 137h1v1h-1zM457 141h1v1h-1zM436 124h1v1h-1zM439 126h1v1h-1zM432 134h1v1h-1zM451 135h1v1h-1zM412 143h1v1h-1zM423 136h1v1h-1zM435 143h1v1h-1zM426 137h1v1h-1zM426 129h1v1h-1zM420 133h1v1h-1zM437 137h1v1h-1zM433 143h1v1h-1zM431 127h1v1h-1zM426 142h1v1h-1zM419 135h1v1h-1zM420 146h1v1h-1zM434 144h1v1h-1zM422 133h1v1h-1zM451 134h1v1h-1zM446 130h1v1h-1zM415 142h1v1h-1zM435 141h1v1h-1zM430 141h1v1h-1zM425 129h1v1h-1z" fill="#000" fill-opacity="0.38"/>
<path d="M433 143h1v1h-1zM439 143h1v1h-1zM432 147h1v1h-1zM422 137h1v1h-1zM452 145h1v1h-1zM411 147h1v1h-1zM431 137h1v1h-1zM421 145h1v1h-1zM419 138h1v1h-1zM418 144h1v1h-1zM418 139h1v1h-1zM437 143h1v1h-1zM433 133h1v1h-1zM450 134h1v1h-1zM436 137h1v1h-1zM424 145h1v1h-1zM419 145h1v1h-1zM429 133h1v1h-1zM444 142h1v1h-1zM438 131h1v1h-1zM451 141h1v1h-1zM448 139h1v1h-1zM438 133h1v1h-1zM428 135h1v1h-1zM453 134h1v1h-1zM416 146h1v1h-1zM448 145h1v1h-1zM421 134h1v1h-1zM443 130h1v1h-1zM452 142h1v1h-1zM449 145h1v1h-1zM446 146h1v1h-1zM428 139h1v1h-1zM449 144h1v1h-1zM427 142h1v1h-1zM441 146h1v1h-1zM424 144h1v1h-1zM441 137h1v1h-1zM425 130h1v1h-1zM435 129h1v1h-1zM433 129h1v1h-1zM436 147h1v1h-1zM430 136h1v1h-1zM439 140h1v1h-1zM439 137h1v1h-1zM424 134h1v1h-1zM434 140h1v1h-1zM445 135h1v1h-1zM433 145h1v1h-1zM433 144h1v1h-1zM431 140h1v1h-1zM451 147h1v1h-1zM426 145h1v1h-1zM430 136h1v1h-1zM442 126h1v1h-1zM431 132h1v1h-1zM433 138h1v1h-1zM436 142h1v1h-1zM439 129h1v1h-1zM423 138h1v1h-1zM432 139h1v1h-1zM424 140h1v1h-1zM445 139h1v1h-1zM448 145h1v1h-1zM437 145h1v1h-1zM427 136h1v1h-1zM430 127h1v1h-1zM442 145h1v1h-1zM426 133h1v1h-1zM417 143h1v1h-1zM451 136h1v1h-1zM434 132h1v1h-1zM428 136h1v1h-1zM451 147h1v1h-1zM433 134h1v1h-1zM427 142h1v1h-1zM418 141h1v1h-1zM433 145h1v1h-1zM442 141h1v1h-1zM430 138h1v1h-1zM438 145h1v1h-1zM440 132h1v1h-1zM433 146h1v1h-1zM417 146h1v1h-1zM434 131h1v1h-1zM443 131h1v1h-1zM442 140h1v1h-1zM436 134h1v1h-1zM447 139h1v1h-1zM428 131h1v1h-1z" fill="#000" fill-opacity="0.7"/>
<path d="M434 129h1v1h-1zM430 127h1v1h-1zM431 126h1v1h-1zM436 129h1v1h-1zM437 127h1v1h-1zM456 128h1v1h-1zM430 125h1v1h-1zM437 124h1v1h-1zM416 125h1v1h-1zM446 125h1v1h-1zM443 129h1v1h-1zM427 127h1v1h-1zM428 128h1v1h-1zM425 120h1v1h-1zM437 125h1v1h-1zM430 126h1v1h-1zM440 127h1v1h-1zM426 127h1v1h-1zM424 125h1v1h-1zM434 123h1v1h-1zM444 128h1v1h-1zM450 127h1v1h-1zM439 126h1v1h-1zM427 126h1v1h-1zM439 121h1v1h-1zM422 126h1v1h-1zM436 128h1v1h-1zM449 127h1v1h-1zM444 129h1v1h-1zM434 128h1v1h-1zM429 127h1v1h-1zM432 125h1v1h-1zM436 128h1v1h-1zM436 125h1v1h-1zM428 126h1v1h-1zM425 123h1v1h-1zM434 132h1v1h-1zM428 127h1v1h-1zM438 128h1v1h-1zM426 128h1v1h-1zM439 128h1v1h-1zM424 122h1v1h-1zM431 124h1v1h-1zM439 125h1v1h-1zM425 130h1v1h-1zM427 127h1v1h-1zM431 130h1v1h-1zM439 129h1v1h-1zM443 128h1v1h-1zM437 124h1v1h-1zM433 132h1v1h-1zM439 133h1v1h-1zM428 124h1v1h-1zM434 125h1v1h-1zM417 123h1v1h-1zM429 130h1v1h-1zM431 129h1v1h-1zM443 130h1v1h-1zM446 128h1v1h-1zM425 124h1v1h-1zM439 124h1v1h-1zM439 131h1v1h-1zM440 131h1v1h-1zM437 127h1v1h-1zM443 125h1v1h-1zM438 128h1v1h-1zM436 129h1v1h-1zM430 127h1v1h-1zM447 128h1v1h-1zM438 125h1v1h-1z" fill="#000" fill-opacity="0.6"/>
<path d="M435 67h1v1h-1zM439 64h1v1h-1zM429 68h1v1h-1zM434 66h1v1h-1zM444 63h1v1h-1zM436 71h1v1h-1zM432 64h1v1h-1zM442 68h1v1h-1zM438 66h1v1h-1zM446 64h1v1h-1zM438 62h1v1h-1zM446 69h1v1h-1zM433 71h1v1h-1zM449 60h1v1h-1zM442 68h1v1h-1zM439 72h1v1h-1zM441 65h1v1h-1zM434 64h1v1h-1zM434 65h1v1h-1zM429 71h1v1h-1zM439 66h1v1h-1zM440 61h1v1h-1zM438 66h1v1h-1zM433 64h1v1h-1zM442 69h1v1h-1zM436 64h1v1h-1zM432 69h1v1h-1zM438 65h1v1h-1zM437 71h1v1h-1zM441 60h1v1h-1zM434 66h1v1h-1zM434 73h1v1h-1zM435 66h1v1h-1zM439 56h1v1h-1zM435 75h1v1h-1zM443 70h1v1h-1zM442 67h1v1h-1zM431 75h1v1h-1zM434 75h1v1h-1zM427 71h1v1h-1zM434 70h1v1h-1zM430 66h1v1h-1zM443 64h1v1h-1zM433 69h1v1h-1zM434 71h1v1h-1zM426 70h1v1h-1zM440 62h1v1h-1zM441 66h1v1h-1zM437 63h1v1h-1zM440 71h1v1h-1zM434 67h1v1h-1zM431 71h1v1h-1zM437 63h1v1h-1zM438 58h1v1h-1zM431 68h1v1h-1zM433 59h1v1h-1zM431 68h1v1h-1zM436 67h1v1h-1zM435 65h1v1h-1zM433 65h1v1h-1z" fill="#000" fill-opacity="0.55"/>
<path d="M481 76h1v1h-1zM482 71h1v1h-1zM468 69h1v1h-1zM471 68h1v1h-1zM477 75h1v1h-1zM486 72h1v1h-1zM475 67h1v1h-1zM477 68h1v1h-1zM466 76h1v1h-1zM485 71h1v1h-1zM472 69h1v1h-1zM476 69h1v1h-1zM475 62h1v1h-1zM486 68h1v1h-1zM484 64h1v1h-1zM472 71h1v1h-1zM472 80h1v1h-1zM473 70h1v1h-1zM479 66h1v1h-1zM471 74h1v1h-1zM472 68h1v1h-1zM479 72h1v1h-1zM479 67h1v1h-1zM488 72h1v1h-1zM488 68h1v1h-1zM481 74h1v1h-1zM481 75h1v1h-1zM487 76h1v1h-1zM477 72h1v1h-1zM471 68h1v1h-1zM479 74h1v1h-1zM480 74h1v1h-1zM470 73h1v1h-1zM484 64h1v1h-1zM473 75h1v1h-1zM481 66h1v1h-1zM486 67h1v1h-1zM472 66h1v1h-1zM473 71h1v1h-1zM477 66h1v1h-1zM470 71h1v1h-1zM483 72h1v1h-1zM468 72h1v1h-1zM477 65h1v1h-1zM482 74h1v1h-1zM471 61h1v1h-1zM469 68h1v1h-1zM478 82h1v1h-1zM481 68h1v1h-1zM482 77h1v1h-1zM480 72h1v1h-1zM491 65h1v1h-1zM468 65h1v1h-1zM467 76h1v1h-1zM484 74h1v1h-1zM486 76h1v1h-1zM481 62h1v1h-1zM479 85h1v1h-1zM480 67h1v1h-1zM468 74h1v1h-1zM477 70h1v1h-1zM471 73h1v1h-1zM473 78h1v1h-1zM478 68h1v1h-1zM474 74h1v1h-1zM474 67h1v1h-1zM474 77h1v1h-1zM484 60h1v1h-1zM472 69h1v1h-1zM476 79h1v1h-1zM466 67h1v1h-1zM478 70h1v1h-1zM484 71h1v1h-1zM483 72h1v1h-1zM470 71h1v1h-1zM464 67h1v1h-1zM474 67h1v1h-1zM473 70h1v1h-1zM481 72h1v1h-1zM479 70h1v1h-1zM472 65h1v1h-1zM473 86h1v1h-1zM478 66h1v1h-1zM487 74h1v1h-1zM481 71h1v1h-1zM473 68h1v1h-1zM473 72h1v1h-1zM486 71h1v1h-1zM478 66h1v1h-1zM488 73h1v1h-1z" fill="#000" fill-opacity="0.6"/>
<path d="M433 99h1v1h-1zM449 95h1v1h-1zM433 85h1v1h-1zM445 82h1v1h-1zM433 106h1v1h-1zM444 98h1v1h-1zM438 95h1v1h-1zM437 120h1v1h-1zM441 105h1v1h-1zM424 121h1v1h-1zM424 116h1v1h-1zM444 78h1v1h-1zM425 114h1v1h-1zM424 103h1v1h-1zM425 96h1v1h-1zM422 104h1v1h-1zM429 99h1v1h-1zM442 101h1v1h-1zM437 99h1v1h-1zM456 102h1v1h-1zM426 97h1v1h-1zM431 105h1v1h-1zM429 110h1v1h-1zM431 106h1v1h-1zM443 109h1v1h-1zM437 129h1v1h-1zM447 89h1v1h-1zM416 103h1v1h-1zM414 92h1v1h-1zM423 93h1v1h-1zM429 100h1v1h-1zM441 96h1v1h-1zM422 88h1v1h-1zM440 101h1v1h-1zM443 98h1v1h-1zM418 90h1v1h-1zM427 82h1v1h-1zM434 107h1v1h-1zM444 93h1v1h-1zM433 129h1v1h-1zM443 108h1v1h-1zM432 95h1v1h-1zM443 114h1v1h-1zM415 101h1v1h-1zM453 77h1v1h-1zM420 106h1v1h-1zM430 114h1v1h-1zM440 118h1v1h-1zM429 112h1v1h-1zM424 110h1v1h-1zM424 115h1v1h-1zM411 127h1v1h-1zM428 90h1v1h-1zM436 105h1v1h-1zM428 128h1v1h-1zM427 109h1v1h-1zM437 101h1v1h-1zM447 100h1v1h-1zM440 111h1v1h-1zM434 114h1v1h-1zM422 102h1v1h-1zM419 98h1v1h-1zM432 113h1v1h-1zM435 93h1v1h-1zM431 104h1v1h-1zM434 113h1v1h-1zM431 118h1v1h-1zM417 81h1v1h-1zM435 101h1v1h-1zM438 93h1v1h-1zM429 123h1v1h-1zM435 89h1v1h-1zM433 97h1v1h-1zM420 102h1v1h-1zM425 91h1v1h-1zM427 105h1v1h-1zM453 100h1v1h-1zM435 103h1v1h-1zM442 95h1v1h-1zM424 92h1v1h-1zM420 91h1v1h-1zM428 100h1v1h-1zM429 127h1v1h-1zM418 119h1v1h-1zM430 91h1v1h-1zM419 96h1v1h-1zM414 104h1v1h-1zM411 92h1v1h-1zM425 87h1v1h-1zM452 83h1v1h-1z" fill="#000" fill-opacity="0.45"/>
<path d="M468 115h1v1h-1zM459 112h1v1h-1zM465 112h1v1h-1zM464 108h1v1h-1zM459 113h1v1h-1zM465 107h1v1h-1zM460 119h1v1h-1zM461 117h1v1h-1zM457 117h1v1h-1zM455 101h1v1h-1zM463 119h1v1h-1zM462 117h1v1h-1zM465 119h1v1h-1zM463 112h1v1h-1zM454 119h1v1h-1zM466 115h1v1h-1zM462 109h1v1h-1zM456 113h1v1h-1zM459 113h1v1h-1zM457 113h1v1h-1zM468 110h1v1h-1zM457 115h1v1h-1zM467 116h1v1h-1zM463 108h1v1h-1zM459 110h1v1h-1zM470 124h1v1h-1zM460 113h1v1h-1zM464 109h1v1h-1zM454 121h1v1h-1zM464 116h1v1h-1zM458 115h1v1h-1zM467 113h1v1h-1zM469 108h1v1h-1zM463 119h1v1h-1zM463 116h1v1h-1zM467 114h1v1h-1zM462 110h1v1h-1zM462 112h1v1h-1zM469 110h1v1h-1zM464 118h1v1h-1z" fill="#000" fill-opacity="0.6"/>
<path d="M470 131h1v1h-1zM477 126h1v1h-1zM478 135h1v1h-1zM466 146h1v1h-1zM466 145h1v1h-1zM464 133h1v1h-1zM483 128h1v1h-1zM484 142h1v1h-1zM463 131h1v1h-1zM473 141h1v1h-1zM478 143h1v1h-1zM475 136h1v1h-1zM456 139h1v1h-1zM480 140h1v1h-1zM471 146h1v1h-1zM470 146h1v1h-1zM475 133h1v1h-1zM458 138h1v1h-1zM463 127h1v1h-1zM478 125h1v1h-1zM484 144h1v1h-1zM456 128h1v1h-1zM483 141h1v1h-1zM476 125h1v1h-1zM460 143h1v1h-1zM473 126h1v1h-1zM477 138h1v1h-1zM456 139h1v1h-1zM474 130h1v1h-1zM479 142h1v1h-1zM463 133h1v1h-1zM456 134h1v1h-1zM458 133h1v1h-1zM481 141h1v1h-1zM482 127h1v1h-1zM462 131h1v1h-1zM473 131h1v1h-1zM467 131h1v1h-1zM467 143h1v1h-1zM470 146h1v1h-1zM464 132h1v1h-1zM484 139h1v1h-1zM465 144h1v1h-1zM483 126h1v1h-1zM474 137h1v1h-1z" fill="#000" fill-opacity="0.55"/>
<path d="M461 118h1v1h-1zM478 107h1v1h-1zM460 63h1v1h-1zM426 102h1v1h-1zM406 101h1v1h-1zM464 105h1v1h-1zM487 68h1v1h-1zM497 82h1v1h-1zM489 108h1v1h-1zM480 54h1v1h-1zM424 92h1v1h-1zM437 102h1v1h-1zM495 66h1v1h-1zM459 120h1v1h-1zM463 97h1v1h-1zM422 114h1v1h-1zM479 67h1v1h-1zM485 87h1v1h-1zM486 73h1v1h-1zM459 50h1v1h-1zM467 72h1v1h-1zM448 70h1v1h-1zM477 80h1v1h-1zM427 87h1v1h-1zM411 57h1v1h-1zM470 121h1v1h-1zM507 118h1v1h-1zM500 83h1v1h-1zM447 90h1v1h-1zM492 91h1v1h-1z" fill="#000" fill-opacity="0.4"/>
<rect x="402.60" y="44.70" width="107.60" height="104.40" fill="none" stroke="#111" stroke-width="1.2"/>
<line x1="453.60" y1="44.70" x2="453.60" y2="149.10" stroke-width="1.0" style="stroke:#222"/>
<line x1="402.60" y1="123.20" x2="510.20" y2="123.20" stroke-width="1.0" style="stroke:#222"/>
<path d="M402.60 149.10v3.2M402.60 149.10h-3.2M410.70 149.10v2.0M402.60 141.24h-2.0M415.43 149.10v2.0M402.60 136.65h-2.0M418.80 149.10v2.0M402.60 133.39h-2.0M421.40 149.10v2.0M402.60 130.86h-2.0M423.53 149.10v2.0M402.60 128.79h-2.0M425.33 149.10v2.0M402.60 127.04h-2.0M426.89 149.10v2.0M402.60 125.53h-2.0M428.27 149.10v2.0M402.60 124.19h-2.0M429.50 149.10v3.2M402.60 123.00h-3.2M437.60 149.10v2.0M402.60 115.14h-2.0M442.33 149.10v2.0M402.60 110.55h-2.0M445.70 149.10v2.0M402.60 107.29h-2.0M448.30 149.10v2.0M402.60 104.76h-2.0M450.43 149.10v2.0M402.60 102.69h-2.0M452.23 149.10v2.0M402.60 100.94h-2.0M453.79 149.10v2.0M402.60 99.43h-2.0M455.17 149.10v2.0M402.60 98.09h-2.0M456.40 149.10v3.2M402.60 96.90h-3.2M464.50 149.10v2.0M402.60 89.04h-2.0M469.23 149.10v2.0M402.60 84.45h-2.0M472.60 149.10v2.0M402.60 81.19h-2.0M475.20 149.10v2.0M402.60 78.66h-2.0M477.33 149.10v2.0M402.60 76.59h-2.0M479.13 149.10v2.0M402.60 74.84h-2.0M480.69 149.10v2.0M402.60 73.33h-2.0M482.07 149.10v2.0M402.60 71.99h-2.0M483.30 149.10v3.2M402.60 70.80h-3.2M491.40 149.10v2.0M402.60 62.94h-2.0M496.13 149.10v2.0M402.60 58.35h-2.0M499.50 149.10v2.0M402.60 55.09h-2.0M502.10 149.10v2.0M402.60 52.56h-2.0M504.23 149.10v2.0M402.60 50.49h-2.0M506.03 149.10v2.0M402.60 48.74h-2.0M507.59 149.10v2.0M402.60 47.23h-2.0M508.97 149.10v2.0M402.60 45.89h-2.0M510.20 149.10v3.2M402.60 44.70h-3.2" stroke="#000" stroke-width="0.8" fill="none"/>
<text transform="translate(403.60 162.50) scale(0.85 1)" font-size="9.5" text-anchor="middle" style="stroke-width:0.15px">10<tspan font-size="7" dx="0.8" dy="-4.6">0</tspan></text>
<text transform="translate(396.10 149.40) rotate(-90)" font-size="9.5" text-anchor="middle" style="stroke-width:0.15px">10<tspan font-size="7" dx="1" dy="-4.5">0</tspan></text>
<text transform="translate(430.50 162.50) scale(0.85 1)" font-size="9.5" text-anchor="middle" style="stroke-width:0.15px">10<tspan font-size="7" dx="0.8" dy="-4.6">1</tspan></text>
<text transform="translate(396.10 123.30) rotate(-90)" font-size="9.5" text-anchor="middle" style="stroke-width:0.15px">10<tspan font-size="7" dx="1" dy="-4.5">1</tspan></text>
<text transform="translate(457.40 162.50) scale(0.85 1)" font-size="9.5" text-anchor="middle" style="stroke-width:0.15px">10<tspan font-size="7" dx="0.8" dy="-4.6">2</tspan></text>
<text transform="translate(396.10 97.20) rotate(-90)" font-size="9.5" text-anchor="middle" style="stroke-width:0.15px">10<tspan font-size="7" dx="1" dy="-4.5">2</tspan></text>
<text transform="translate(484.30 162.50) scale(0.85 1)" font-size="9.5" text-anchor="middle" style="stroke-width:0.15px">10<tspan font-size="7" dx="0.8" dy="-4.6">3</tspan></text>
<text transform="translate(396.10 71.10) rotate(-90)" font-size="9.5" text-anchor="middle" style="stroke-width:0.15px">10<tspan font-size="7" dx="1" dy="-4.5">3</tspan></text>
<text transform="translate(511.20 162.50) scale(0.85 1)" font-size="9.5" text-anchor="middle" style="stroke-width:0.15px">10<tspan font-size="7" dx="0.8" dy="-4.6">4</tspan></text>
<text transform="translate(396.10 45.00) rotate(-90)" font-size="9.5" text-anchor="middle" style="stroke-width:0.15px">10<tspan font-size="7" dx="1" dy="-4.5">4</tspan></text>
<text transform="translate(408.00 59.00) rotate(0) scale(0.950 1)" font-size="17.00">3</text>
<text transform="translate(494.10 59.00) rotate(0) scale(0.950 1)" font-size="17.00">3</text>
<text transform="translate(406.00 147.70) rotate(0) scale(0.950 1)" font-size="17.00">92</text>
<text transform="translate(496.50 147.90) rotate(0) scale(0.950 1)" font-size="17.00">2</text>
<path d="M319 286h1v1h-1zM323 294h1v1h-1zM320 295h1v1h-1zM317 285h1v1h-1zM300 298h1v1h-1zM321 299h1v1h-1zM303 289h1v1h-1zM323 294h1v1h-1zM328 293h1v1h-1zM313 300h1v1h-1zM305 288h1v1h-1zM309 300h1v1h-1zM313 295h1v1h-1zM315 288h1v1h-1zM311 296h1v1h-1zM334 289h1v1h-1zM297 299h1v1h-1zM319 290h1v1h-1zM325 289h1v1h-1zM340 298h1v1h-1zM331 293h1v1h-1zM316 299h1v1h-1zM315 294h1v1h-1zM301 298h1v1h-1zM309 297h1v1h-1zM326 298h1v1h-1zM337 294h1v1h-1zM335 290h1v1h-1zM315 299h1v1h-1zM320 284h1v1h-1zM331 292h1v1h-1zM332 298h1v1h-1zM315 300h1v1h-1zM327 297h1v1h-1zM316 296h1v1h-1zM315 287h1v1h-1zM323 296h1v1h-1zM327 293h1v1h-1zM304 290h1v1h-1zM320 289h1v1h-1zM304 295h1v1h-1zM307 294h1v1h-1zM323 299h1v1h-1zM338 293h1v1h-1zM315 299h1v1h-1zM334 297h1v1h-1zM321 294h1v1h-1zM302 293h1v1h-1zM319 299h1v1h-1zM316 291h1v1h-1zM331 294h1v1h-1zM317 297h1v1h-1zM306 291h1v1h-1zM315 298h1v1h-1zM312 294h1v1h-1zM304 289h1v1h-1zM317 299h1v1h-1zM304 290h1v1h-1zM312 298h1v1h-1zM311 297h1v1h-1zM335 289h1v1h-1zM318 292h1v1h-1zM322 290h1v1h-1zM311 286h1v1h-1zM314 287h1v1h-1zM315 287h1v1h-1zM322 291h1v1h-1zM325 286h1v1h-1zM319 286h1v1h-1zM333 292h1v1h-1zM325 284h1v1h-1zM328 289h1v1h-1zM305 298h1v1h-1zM313 296h1v1h-1zM323 285h1v1h-1zM326 297h1v1h-1zM340 299h1v1h-1zM337 297h1v1h-1zM314 288h1v1h-1zM317 286h1v1h-1zM337 298h1v1h-1zM332 300h1v1h-1zM331 294h1v1h-1zM323 298h1v1h-1zM320 288h1v1h-1zM314 287h1v1h-1zM320 295h1v1h-1zM300 299h1v1h-1zM336 292h1v1h-1zM325 300h1v1h-1zM314 294h1v1h-1zM314 294h1v1h-1zM332 297h1v1h-1zM311 298h1v1h-1zM304 290h1v1h-1zM336 296h1v1h-1zM320 300h1v1h-1zM339 297h1v1h-1zM324 291h1v1h-1zM308 300h1v1h-1zM312 297h1v1h-1zM309 288h1v1h-1zM320 297h1v1h-1zM313 289h1v1h-1zM320 286h1v1h-1zM311 296h1v1h-1zM325 293h1v1h-1zM309 295h1v1h-1zM313 294h1v1h-1zM330 291h1v1h-1zM309 296h1v1h-1zM317 300h1v1h-1zM328 291h1v1h-1zM334 291h1v1h-1zM312 298h1v1h-1zM314 300h1v1h-1zM301 295h1v1h-1zM308 300h1v1h-1zM332 297h1v1h-1zM307 295h1v1h-1zM326 284h1v1h-1zM335 289h1v1h-1zM313 285h1v1h-1zM319 286h1v1h-1zM318 297h1v1h-1zM310 296h1v1h-1zM335 289h1v1h-1zM328 297h1v1h-1zM320 299h1v1h-1zM323 290h1v1h-1zM318 296h1v1h-1zM308 297h1v1h-1zM324 299h1v1h-1zM317 296h1v1h-1zM330 293h1v1h-1zM303 300h1v1h-1zM315 289h1v1h-1zM317 290h1v1h-1zM303 292h1v1h-1zM334 289h1v1h-1zM329 293h1v1h-1zM306 288h1v1h-1zM325 285h1v1h-1zM331 300h1v1h-1zM316 283h1v1h-1zM332 291h1v1h-1zM320 283h1v1h-1zM322 299h1v1h-1zM315 292h1v1h-1zM315 292h1v1h-1zM320 289h1v1h-1zM328 290h1v1h-1zM313 292h1v1h-1zM300 300h1v1h-1zM330 292h1v1h-1zM313 291h1v1h-1zM317 292h1v1h-1zM329 296h1v1h-1zM312 294h1v1h-1zM334 295h1v1h-1zM317 292h1v1h-1zM317 292h1v1h-1zM304 295h1v1h-1zM306 299h1v1h-1zM324 295h1v1h-1zM320 295h1v1h-1zM325 289h1v1h-1zM311 285h1v1h-1zM319 287h1v1h-1zM324 296h1v1h-1zM336 293h1v1h-1zM327 290h1v1h-1zM317 286h1v1h-1zM318 294h1v1h-1zM324 298h1v1h-1zM325 294h1v1h-1zM312 290h1v1h-1zM307 295h1v1h-1zM322 299h1v1h-1zM333 299h1v1h-1zM332 293h1v1h-1zM320 295h1v1h-1zM316 294h1v1h-1zM338 293h1v1h-1zM324 294h1v1h-1zM310 295h1v1h-1zM338 291h1v1h-1zM320 285h1v1h-1zM323 289h1v1h-1zM329 293h1v1h-1zM323 294h1v1h-1zM307 290h1v1h-1zM316 288h1v1h-1zM335 291h1v1h-1zM317 286h1v1h-1zM316 300h1v1h-1zM317 292h1v1h-1zM320 291h1v1h-1zM328 286h1v1h-1zM328 292h1v1h-1zM310 294h1v1h-1zM329 295h1v1h-1zM326 298h1v1h-1zM310 297h1v1h-1zM313 284h1v1h-1zM313 294h1v1h-1zM326 295h1v1h-1zM304 289h1v1h-1zM315 292h1v1h-1zM311 287h1v1h-1zM303 293h1v1h-1zM328 288h1v1h-1zM327 292h1v1h-1zM333 295h1v1h-1zM328 297h1v1h-1zM330 293h1v1h-1zM310 299h1v1h-1zM330 285h1v1h-1zM314 296h1v1h-1zM306 293h1v1h-1zM320 298h1v1h-1zM328 287h1v1h-1zM326 287h1v1h-1zM329 295h1v1h-1zM321 299h1v1h-1zM303 296h1v1h-1zM333 296h1v1h-1zM321 300h1v1h-1zM307 292h1v1h-1zM337 299h1v1h-1zM329 296h1v1h-1zM317 296h1v1h-1zM312 293h1v1h-1zM319 298h1v1h-1zM315 296h1v1h-1zM309 291h1v1h-1zM322 282h1v1h-1zM310 299h1v1h-1zM307 290h1v1h-1zM320 289h1v1h-1zM313 300h1v1h-1zM306 290h1v1h-1zM329 292h1v1h-1zM311 300h1v1h-1zM323 286h1v1h-1zM312 287h1v1h-1zM310 291h1v1h-1zM335 293h1v1h-1zM323 290h1v1h-1zM330 290h1v1h-1zM322 288h1v1h-1zM326 295h1v1h-1zM311 293h1v1h-1zM326 286h1v1h-1zM336 292h1v1h-1zM327 290h1v1h-1zM338 295h1v1h-1zM317 292h1v1h-1zM317 291h1v1h-1zM330 294h1v1h-1zM299 295h1v1h-1zM310 296h1v1h-1zM321 299h1v1h-1zM333 290h1v1h-1zM328 297h1v1h-1zM319 297h1v1h-1zM333 292h1v1h-1zM313 298h1v1h-1zM325 294h1v1h-1zM329 286h1v1h-1zM323 289h1v1h-1zM318 295h1v1h-1zM308 287h1v1h-1zM317 298h1v1h-1zM330 289h1v1h-1zM337 293h1v1h-1zM324 296h1v1h-1zM306 292h1v1h-1zM302 292h1v1h-1zM323 297h1v1h-1zM312 290h1v1h-1zM325 286h1v1h-1zM304 299h1v1h-1zM334 296h1v1h-1zM340 298h1v1h-1zM339 296h1v1h-1zM329 286h1v1h-1zM320 299h1v1h-1zM317 284h1v1h-1zM324 293h1v1h-1zM331 291h1v1h-1zM321 297h1v1h-1zM331 292h1v1h-1zM328 288h1v1h-1zM337 300h1v1h-1zM313 293h1v1h-1zM300 299h1v1h-1zM323 298h1v1h-1zM315 291h1v1h-1zM335 292h1v1h-1zM314 288h1v1h-1zM323 295h1v1h-1zM319 292h1v1h-1zM305 293h1v1h-1zM312 293h1v1h-1zM329 290h1v1h-1zM322 298h1v1h-1zM322 296h1v1h-1zM338 297h1v1h-1zM310 299h1v1h-1zM304 297h1v1h-1zM312 300h1v1h-1zM309 287h1v1h-1zM339 295h1v1h-1zM333 291h1v1h-1zM308 296h1v1h-1zM302 291h1v1h-1zM326 299h1v1h-1zM327 292h1v1h-1zM318 286h1v1h-1zM330 291h1v1h-1zM329 295h1v1h-1zM337 296h1v1h-1zM307 294h1v1h-1zM335 298h1v1h-1zM311 299h1v1h-1zM327 287h1v1h-1zM333 292h1v1h-1zM327 288h1v1h-1zM335 297h1v1h-1zM316 298h1v1h-1zM320 287h1v1h-1zM324 293h1v1h-1zM324 288h1v1h-1zM300 299h1v1h-1zM321 295h1v1h-1zM327 289h1v1h-1zM330 300h1v1h-1zM325 290h1v1h-1zM311 299h1v1h-1zM327 300h1v1h-1zM326 288h1v1h-1zM339 298h1v1h-1zM315 299h1v1h-1zM327 299h1v1h-1zM319 286h1v1h-1zM321 294h1v1h-1zM314 285h1v1h-1zM336 299h1v1h-1zM326 290h1v1h-1zM322 289h1v1h-1zM323 285h1v1h-1zM308 295h1v1h-1zM332 297h1v1h-1zM320 288h1v1h-1zM319 294h1v1h-1zM321 285h1v1h-1zM319 291h1v1h-1zM329 296h1v1h-1zM314 298h1v1h-1zM312 287h1v1h-1zM308 290h1v1h-1zM321 298h1v1h-1zM299 299h1v1h-1zM305 294h1v1h-1zM330 295h1v1h-1zM335 296h1v1h-1zM329 300h1v1h-1zM330 288h1v1h-1zM313 290h1v1h-1zM310 289h1v1h-1zM299 298h1v1h-1zM325 289h1v1h-1zM299 300h1v1h-1zM332 291h1v1h-1zM335 299h1v1h-1zM338 292h1v1h-1zM299 298h1v1h-1zM324 285h1v1h-1zM300 296h1v1h-1zM328 285h1v1h-1zM308 293h1v1h-1zM323 297h1v1h-1zM335 292h1v1h-1zM323 289h1v1h-1zM324 288h1v1h-1zM339 295h1v1h-1zM332 299h1v1h-1zM307 293h1v1h-1zM318 289h1v1h-1zM323 297h1v1h-1zM315 299h1v1h-1zM318 288h1v1h-1zM321 286h1v1h-1zM307 291h1v1h-1zM310 294h1v1h-1zM306 296h1v1h-1zM303 296h1v1h-1zM317 293h1v1h-1zM320 284h1v1h-1zM306 294h1v1h-1zM309 292h1v1h-1zM318 285h1v1h-1zM336 295h1v1h-1zM333 293h1v1h-1zM312 284h1v1h-1zM328 295h1v1h-1zM333 300h1v1h-1zM304 288h1v1h-1zM331 295h1v1h-1zM303 294h1v1h-1zM303 298h1v1h-1zM336 292h1v1h-1zM311 292h1v1h-1zM312 289h1v1h-1zM312 300h1v1h-1zM324 287h1v1h-1zM327 289h1v1h-1zM298 299h1v1h-1zM321 291h1v1h-1zM307 300h1v1h-1zM333 293h1v1h-1zM320 290h1v1h-1zM321 299h1v1h-1zM340 294h1v1h-1zM321 299h1v1h-1zM299 294h1v1h-1zM302 295h1v1h-1zM316 295h1v1h-1zM309 287h1v1h-1zM306 290h1v1h-1zM322 285h1v1h-1zM307 300h1v1h-1zM305 297h1v1h-1zM318 290h1v1h-1zM309 286h1v1h-1zM318 287h1v1h-1zM302 298h1v1h-1zM311 290h1v1h-1zM321 293h1v1h-1zM312 299h1v1h-1zM311 286h1v1h-1zM303 299h1v1h-1zM336 298h1v1h-1zM308 296h1v1h-1zM310 287h1v1h-1zM321 291h1v1h-1zM313 294h1v1h-1zM322 294h1v1h-1zM308 292h1v1h-1zM318 300h1v1h-1zM324 289h1v1h-1zM327 297h1v1h-1zM328 292h1v1h-1zM335 289h1v1h-1zM320 286h1v1h-1zM306 299h1v1h-1zM318 288h1v1h-1zM301 291h1v1h-1zM321 282h1v1h-1zM298 297h1v1h-1zM337 295h1v1h-1zM315 290h1v1h-1zM305 298h1v1h-1zM317 297h1v1h-1zM300 294h1v1h-1zM308 292h1v1h-1zM308 290h1v1h-1zM317 282h1v1h-1zM304 293h1v1h-1zM324 298h1v1h-1zM331 291h1v1h-1zM302 299h1v1h-1zM308 295h1v1h-1zM305 292h1v1h-1zM322 286h1v1h-1zM330 289h1v1h-1zM308 288h1v1h-1zM322 300h1v1h-1zM320 292h1v1h-1zM336 295h1v1h-1zM300 298h1v1h-1zM336 299h1v1h-1zM301 297h1v1h-1zM316 291h1v1h-1zM308 290h1v1h-1zM312 287h1v1h-1zM313 291h1v1h-1zM301 292h1v1h-1zM336 297h1v1h-1zM327 296h1v1h-1zM318 297h1v1h-1zM335 290h1v1h-1zM330 298h1v1h-1zM302 300h1v1h-1zM338 293h1v1h-1zM328 286h1v1h-1zM317 285h1v1h-1zM336 296h1v1h-1zM337 295h1v1h-1zM329 289h1v1h-1zM321 298h1v1h-1zM315 285h1v1h-1zM328 299h1v1h-1zM317 294h1v1h-1zM322 283h1v1h-1zM309 297h1v1h-1zM305 293h1v1h-1zM309 298h1v1h-1zM307 290h1v1h-1zM311 290h1v1h-1zM316 298h1v1h-1zM321 298h1v1h-1zM315 289h1v1h-1zM335 291h1v1h-1zM316 288h1v1h-1zM329 296h1v1h-1zM319 289h1v1h-1zM319 284h1v1h-1zM320 294h1v1h-1zM328 288h1v1h-1zM327 290h1v1h-1zM316 286h1v1h-1zM314 294h1v1h-1zM317 288h1v1h-1zM326 293h1v1h-1zM307 286h1v1h-1zM324 300h1v1h-1zM326 291h1v1h-1zM318 297h1v1h-1zM310 293h1v1h-1zM314 296h1v1h-1zM315 295h1v1h-1zM306 294h1v1h-1zM303 294h1v1h-1zM335 297h1v1h-1zM321 300h1v1h-1zM327 291h1v1h-1zM310 288h1v1h-1zM312 290h1v1h-1zM326 286h1v1h-1zM312 294h1v1h-1zM333 292h1v1h-1zM332 299h1v1h-1zM321 289h1v1h-1zM301 293h1v1h-1zM325 300h1v1h-1zM327 288h1v1h-1zM326 288h1v1h-1zM323 296h1v1h-1zM336 293h1v1h-1zM309 292h1v1h-1zM320 285h1v1h-1zM310 299h1v1h-1zM306 298h1v1h-1zM318 296h1v1h-1zM336 295h1v1h-1zM323 300h1v1h-1zM306 290h1v1h-1zM329 298h1v1h-1zM305 294h1v1h-1zM309 298h1v1h-1zM312 298h1v1h-1zM324 289h1v1h-1zM324 296h1v1h-1zM327 291h1v1h-1zM314 294h1v1h-1zM307 297h1v1h-1zM316 288h1v1h-1zM327 289h1v1h-1zM320 286h1v1h-1zM324 289h1v1h-1zM335 300h1v1h-1zM332 297h1v1h-1zM319 299h1v1h-1zM337 297h1v1h-1zM328 287h1v1h-1zM300 300h1v1h-1zM336 294h1v1h-1zM315 293h1v1h-1zM334 298h1v1h-1zM330 297h1v1h-1zM304 293h1v1h-1zM311 300h1v1h-1zM303 298h1v1h-1zM332 290h1v1h-1zM309 297h1v1h-1zM307 289h1v1h-1zM331 298h1v1h-1zM322 299h1v1h-1zM322 282h1v1h-1zM320 294h1v1h-1zM317 289h1v1h-1zM302 294h1v1h-1zM332 294h1v1h-1zM328 289h1v1h-1zM320 287h1v1h-1zM311 300h1v1h-1zM307 290h1v1h-1zM327 285h1v1h-1zM334 296h1v1h-1zM307 286h1v1h-1zM307 287h1v1h-1zM322 295h1v1h-1zM312 291h1v1h-1zM317 298h1v1h-1zM305 295h1v1h-1zM324 290h1v1h-1zM310 297h1v1h-1zM325 285h1v1h-1zM316 283h1v1h-1zM325 288h1v1h-1zM327 290h1v1h-1zM309 288h1v1h-1zM336 291h1v1h-1zM325 295h1v1h-1zM315 291h1v1h-1zM331 291h1v1h-1zM331 290h1v1h-1zM313 286h1v1h-1zM327 297h1v1h-1zM342 300h1v1h-1zM334 298h1v1h-1zM308 292h1v1h-1zM323 291h1v1h-1zM324 296h1v1h-1zM331 300h1v1h-1zM316 299h1v1h-1zM329 288h1v1h-1zM313 292h1v1h-1zM312 298h1v1h-1zM328 298h1v1h-1zM303 295h1v1h-1zM321 293h1v1h-1zM302 296h1v1h-1zM335 292h1v1h-1zM310 291h1v1h-1zM321 297h1v1h-1zM306 294h1v1h-1zM328 290h1v1h-1zM303 300h1v1h-1zM330 294h1v1h-1zM324 285h1v1h-1zM324 290h1v1h-1zM323 295h1v1h-1zM321 291h1v1h-1zM324 291h1v1h-1zM315 286h1v1h-1zM322 296h1v1h-1zM311 292h1v1h-1zM338 295h1v1h-1zM324 298h1v1h-1zM330 295h1v1h-1zM327 291h1v1h-1zM324 285h1v1h-1zM319 288h1v1h-1zM306 287h1v1h-1zM302 295h1v1h-1zM310 289h1v1h-1zM306 294h1v1h-1zM323 291h1v1h-1zM305 293h1v1h-1zM312 300h1v1h-1zM318 299h1v1h-1zM305 294h1v1h-1zM308 298h1v1h-1zM311 295h1v1h-1zM315 300h1v1h-1zM327 287h1v1h-1zM326 291h1v1h-1zM304 293h1v1h-1zM322 289h1v1h-1zM335 294h1v1h-1zM313 289h1v1h-1zM321 296h1v1h-1zM320 298h1v1h-1zM313 295h1v1h-1zM330 285h1v1h-1zM305 297h1v1h-1zM306 298h1v1h-1zM316 288h1v1h-1zM303 289h1v1h-1zM314 297h1v1h-1zM329 296h1v1h-1zM338 299h1v1h-1zM334 294h1v1h-1zM311 284h1v1h-1zM337 295h1v1h-1zM315 286h1v1h-1zM312 297h1v1h-1zM336 295h1v1h-1zM302 295h1v1h-1zM322 291h1v1h-1zM300 299h1v1h-1zM328 289h1v1h-1zM303 295h1v1h-1zM331 300h1v1h-1zM328 288h1v1h-1zM324 289h1v1h-1zM320 291h1v1h-1zM301 291h1v1h-1zM329 293h1v1h-1zM314 287h1v1h-1zM334 300h1v1h-1zM337 295h1v1h-1zM331 295h1v1h-1zM311 297h1v1h-1zM320 284h1v1h-1zM335 296h1v1h-1zM314 295h1v1h-1zM317 283h1v1h-1zM313 287h1v1h-1zM320 298h1v1h-1zM323 296h1v1h-1zM336 299h1v1h-1zM300 296h1v1h-1zM316 290h1v1h-1zM328 299h1v1h-1zM315 284h1v1h-1zM316 295h1v1h-1zM333 296h1v1h-1zM315 287h1v1h-1zM326 291h1v1h-1zM334 295h1v1h-1zM327 284h1v1h-1zM338 298h1v1h-1zM312 295h1v1h-1zM326 286h1v1h-1zM317 291h1v1h-1zM326 296h1v1h-1zM312 289h1v1h-1zM323 289h1v1h-1zM314 284h1v1h-1zM318 297h1v1h-1zM301 297h1v1h-1zM305 290h1v1h-1zM306 294h1v1h-1zM299 299h1v1h-1zM304 290h1v1h-1zM339 296h1v1h-1zM310 289h1v1h-1zM313 298h1v1h-1zM319 288h1v1h-1zM330 293h1v1h-1zM315 286h1v1h-1zM334 299h1v1h-1zM334 292h1v1h-1zM304 300h1v1h-1zM337 295h1v1h-1zM311 292h1v1h-1zM331 292h1v1h-1zM315 300h1v1h-1zM331 292h1v1h-1zM317 298h1v1h-1zM306 292h1v1h-1zM308 286h1v1h-1zM308 292h1v1h-1zM305 288h1v1h-1zM305 296h1v1h-1zM333 297h1v1h-1zM309 290h1v1h-1zM334 298h1v1h-1zM303 292h1v1h-1zM326 291h1v1h-1zM302 294h1v1h-1zM315 287h1v1h-1zM305 298h1v1h-1zM324 300h1v1h-1zM322 288h1v1h-1zM314 289h1v1h-1zM316 293h1v1h-1zM303 290h1v1h-1zM318 282h1v1h-1zM335 297h1v1h-1zM321 295h1v1h-1zM323 292h1v1h-1zM333 294h1v1h-1zM339 299h1v1h-1zM334 298h1v1h-1zM317 289h1v1h-1zM305 296h1v1h-1zM308 298h1v1h-1zM327 288h1v1h-1zM319 290h1v1h-1zM310 300h1v1h-1zM328 292h1v1h-1zM307 296h1v1h-1zM312 293h1v1h-1zM300 298h1v1h-1zM330 287h1v1h-1zM321 286h1v1h-1zM331 287h1v1h-1zM309 299h1v1h-1zM335 289h1v1h-1zM328 289h1v1h-1zM308 295h1v1h-1zM305 300h1v1h-1zM316 291h1v1h-1zM304 295h1v1h-1zM326 287h1v1h-1zM314 290h1v1h-1zM310 289h1v1h-1zM340 299h1v1h-1zM323 295h1v1h-1zM336 289h1v1h-1zM316 287h1v1h-1zM310 289h1v1h-1zM312 299h1v1h-1zM332 297h1v1h-1zM314 299h1v1h-1zM315 300h1v1h-1zM330 291h1v1h-1zM322 282h1v1h-1zM310 289h1v1h-1zM315 294h1v1h-1zM319 299h1v1h-1zM337 291h1v1h-1zM329 284h1v1h-1zM331 291h1v1h-1zM302 293h1v1h-1zM339 298h1v1h-1zM313 287h1v1h-1zM322 298h1v1h-1zM306 300h1v1h-1zM309 297h1v1h-1zM326 292h1v1h-1zM335 292h1v1h-1zM307 294h1v1h-1zM330 296h1v1h-1zM312 300h1v1h-1zM323 293h1v1h-1zM333 298h1v1h-1zM303 298h1v1h-1zM316 292h1v1h-1zM312 294h1v1h-1zM301 296h1v1h-1zM310 296h1v1h-1zM340 295h1v1h-1zM313 299h1v1h-1zM308 295h1v1h-1zM330 286h1v1h-1zM332 292h1v1h-1zM313 291h1v1h-1zM310 298h1v1h-1zM305 297h1v1h-1zM305 290h1v1h-1zM328 300h1v1h-1zM322 296h1v1h-1zM333 291h1v1h-1zM312 291h1v1h-1zM319 287h1v1h-1zM324 286h1v1h-1zM329 295h1v1h-1zM323 293h1v1h-1zM307 293h1v1h-1zM305 292h1v1h-1zM300 293h1v1h-1zM315 291h1v1h-1zM308 291h1v1h-1zM299 299h1v1h-1zM327 287h1v1h-1zM326 297h1v1h-1zM300 297h1v1h-1zM309 300h1v1h-1zM327 296h1v1h-1zM314 291h1v1h-1zM331 299h1v1h-1zM330 287h1v1h-1zM311 293h1v1h-1zM312 298h1v1h-1zM308 292h1v1h-1zM325 287h1v1h-1zM309 296h1v1h-1zM323 293h1v1h-1zM306 286h1v1h-1zM311 294h1v1h-1zM318 282h1v1h-1zM331 294h1v1h-1zM327 284h1v1h-1zM316 294h1v1h-1zM316 286h1v1h-1zM337 299h1v1h-1zM303 297h1v1h-1zM318 299h1v1h-1zM319 290h1v1h-1zM320 292h1v1h-1zM315 298h1v1h-1zM326 284h1v1h-1zM328 288h1v1h-1zM313 296h1v1h-1zM305 291h1v1h-1zM307 289h1v1h-1zM326 298h1v1h-1zM306 300h1v1h-1zM340 299h1v1h-1zM311 296h1v1h-1zM337 295h1v1h-1zM310 298h1v1h-1zM313 284h1v1h-1zM314 292h1v1h-1zM318 298h1v1h-1zM322 290h1v1h-1zM325 297h1v1h-1zM341 296h1v1h-1zM327 299h1v1h-1zM310 293h1v1h-1zM326 294h1v1h-1zM303 299h1v1h-1zM338 298h1v1h-1zM315 292h1v1h-1zM322 284h1v1h-1zM324 285h1v1h-1zM325 287h1v1h-1zM319 295h1v1h-1zM328 295h1v1h-1zM308 299h1v1h-1zM317 286h1v1h-1zM305 290h1v1h-1zM325 293h1v1h-1zM335 300h1v1h-1zM310 293h1v1h-1zM321 288h1v1h-1zM314 299h1v1h-1zM325 295h1v1h-1zM309 297h1v1h-1zM321 300h1v1h-1zM323 293h1v1h-1zM328 293h1v1h-1zM310 293h1v1h-1zM309 295h1v1h-1zM325 294h1v1h-1zM326 285h1v1h-1zM334 292h1v1h-1zM304 294h1v1h-1zM317 290h1v1h-1zM329 285h1v1h-1zM336 295h1v1h-1zM300 296h1v1h-1zM325 299h1v1h-1zM321 295h1v1h-1zM329 289h1v1h-1zM330 295h1v1h-1zM322 295h1v1h-1zM307 297h1v1h-1zM333 292h1v1h-1zM300 300h1v1h-1zM339 293h1v1h-1zM320 294h1v1h-1zM340 296h1v1h-1zM314 298h1v1h-1zM302 300h1v1h-1zM329 290h1v1h-1zM338 299h1v1h-1zM327 292h1v1h-1zM318 292h1v1h-1zM318 292h1v1h-1zM314 291h1v1h-1zM317 297h1v1h-1zM338 294h1v1h-1zM303 298h1v1h-1zM306 295h1v1h-1zM335 289h1v1h-1zM302 292h1v1h-1zM310 290h1v1h-1zM309 298h1v1h-1zM319 293h1v1h-1zM309 289h1v1h-1zM313 298h1v1h-1zM321 297h1v1h-1zM325 296h1v1h-1zM329 287h1v1h-1zM314 294h1v1h-1zM338 292h1v1h-1zM311 297h1v1h-1zM310 295h1v1h-1zM302 295h1v1h-1zM314 291h1v1h-1zM300 298h1v1h-1zM327 295h1v1h-1zM304 299h1v1h-1zM331 298h1v1h-1zM318 294h1v1h-1zM324 286h1v1h-1zM337 295h1v1h-1zM327 285h1v1h-1zM304 292h1v1h-1zM317 298h1v1h-1zM310 299h1v1h-1zM321 297h1v1h-1zM336 300h1v1h-1zM312 292h1v1h-1zM319 299h1v1h-1zM336 298h1v1h-1zM310 288h1v1h-1zM324 287h1v1h-1zM319 285h1v1h-1zM314 296h1v1h-1zM311 291h1v1h-1zM322 290h1v1h-1zM333 295h1v1h-1z" fill="#000" fill-opacity="0.36"/>
<path d="M329 296h1v1h-1zM318 291h1v1h-1zM314 299h1v1h-1zM329 290h1v1h-1zM302 298h1v1h-1zM310 298h1v1h-1zM328 295h1v1h-1zM315 296h1v1h-1zM303 297h1v1h-1zM328 294h1v1h-1zM302 293h1v1h-1zM306 297h1v1h-1zM318 299h1v1h-1zM323 299h1v1h-1zM319 300h1v1h-1zM308 290h1v1h-1zM308 296h1v1h-1zM304 297h1v1h-1zM324 292h1v1h-1zM320 297h1v1h-1zM304 291h1v1h-1zM318 293h1v1h-1zM318 299h1v1h-1zM328 296h1v1h-1zM316 293h1v1h-1zM327 293h1v1h-1zM311 287h1v1h-1zM313 288h1v1h-1zM311 289h1v1h-1zM308 297h1v1h-1zM305 296h1v1h-1zM310 292h1v1h-1zM314 297h1v1h-1zM302 299h1v1h-1zM314 298h1v1h-1zM304 295h1v1h-1zM305 293h1v1h-1zM302 298h1v1h-1zM312 287h1v1h-1zM312 294h1v1h-1zM329 299h1v1h-1zM320 300h1v1h-1zM305 300h1v1h-1zM335 300h1v1h-1zM312 293h1v1h-1zM329 296h1v1h-1zM317 295h1v1h-1zM313 297h1v1h-1zM320 288h1v1h-1zM323 286h1v1h-1zM312 295h1v1h-1zM307 294h1v1h-1zM314 290h1v1h-1zM322 288h1v1h-1zM328 297h1v1h-1zM312 293h1v1h-1zM314 288h1v1h-1zM321 294h1v1h-1zM326 293h1v1h-1zM311 297h1v1h-1z" fill="#000" fill-opacity="0.65"/>
<path d="M328 299h1v1h-1zM343 288h1v1h-1zM337 286h1v1h-1zM340 298h1v1h-1zM327 299h1v1h-1zM332 292h1v1h-1zM345 289h1v1h-1zM340 298h1v1h-1zM333 287h1v1h-1zM345 295h1v1h-1zM333 298h1v1h-1zM337 287h1v1h-1zM337 287h1v1h-1zM340 283h1v1h-1zM334 286h1v1h-1zM336 289h1v1h-1zM341 284h1v1h-1zM345 283h1v1h-1zM341 297h1v1h-1zM333 291h1v1h-1zM343 300h1v1h-1zM330 293h1v1h-1zM328 284h1v1h-1zM336 291h1v1h-1zM341 288h1v1h-1zM336 284h1v1h-1zM327 293h1v1h-1zM346 285h1v1h-1zM328 296h1v1h-1zM345 286h1v1h-1zM331 299h1v1h-1zM329 284h1v1h-1zM342 287h1v1h-1zM335 300h1v1h-1zM335 299h1v1h-1zM335 287h1v1h-1zM340 290h1v1h-1zM340 297h1v1h-1zM327 299h1v1h-1zM333 288h1v1h-1zM330 298h1v1h-1zM328 286h1v1h-1zM338 300h1v1h-1zM341 298h1v1h-1zM336 293h1v1h-1zM327 296h1v1h-1zM333 288h1v1h-1zM343 298h1v1h-1zM333 283h1v1h-1zM331 293h1v1h-1zM334 288h1v1h-1zM338 295h1v1h-1zM328 290h1v1h-1zM338 294h1v1h-1zM336 292h1v1h-1zM329 297h1v1h-1zM345 298h1v1h-1zM338 288h1v1h-1zM328 285h1v1h-1zM334 292h1v1h-1zM344 285h1v1h-1zM329 296h1v1h-1zM333 300h1v1h-1zM342 290h1v1h-1zM337 287h1v1h-1zM331 292h1v1h-1zM342 288h1v1h-1zM340 283h1v1h-1zM336 289h1v1h-1zM329 297h1v1h-1zM340 300h1v1h-1zM334 299h1v1h-1zM338 290h1v1h-1zM345 288h1v1h-1zM345 289h1v1h-1zM334 288h1v1h-1zM341 286h1v1h-1zM331 293h1v1h-1zM338 300h1v1h-1zM333 300h1v1h-1zM334 291h1v1h-1zM342 299h1v1h-1zM345 299h1v1h-1zM345 284h1v1h-1zM330 299h1v1h-1zM342 294h1v1h-1zM338 283h1v1h-1zM346 298h1v1h-1zM328 287h1v1h-1zM346 294h1v1h-1zM332 293h1v1h-1zM333 291h1v1h-1zM328 283h1v1h-1zM330 293h1v1h-1zM331 290h1v1h-1zM329 285h1v1h-1zM331 284h1v1h-1zM332 298h1v1h-1zM336 297h1v1h-1zM340 297h1v1h-1zM342 297h1v1h-1zM333 300h1v1h-1zM344 298h1v1h-1zM338 285h1v1h-1zM333 295h1v1h-1zM342 299h1v1h-1zM329 291h1v1h-1zM327 295h1v1h-1zM341 289h1v1h-1zM340 298h1v1h-1zM337 284h1v1h-1zM328 289h1v1h-1zM332 297h1v1h-1zM330 300h1v1h-1zM345 290h1v1h-1zM330 298h1v1h-1zM345 284h1v1h-1zM342 290h1v1h-1zM334 294h1v1h-1zM331 293h1v1h-1z" fill="#000" fill-opacity="0.3"/>
<path d="M354 213h1v1h-1zM363 221h1v1h-1zM352 211h1v1h-1zM356 212h1v1h-1zM354 215h1v1h-1zM358 219h1v1h-1zM352 212h1v1h-1zM359 224h1v1h-1zM364 215h1v1h-1zM349 219h1v1h-1zM362 214h1v1h-1zM351 221h1v1h-1zM357 221h1v1h-1zM359 227h1v1h-1zM348 218h1v1h-1zM364 220h1v1h-1zM354 220h1v1h-1zM352 215h1v1h-1zM351 222h1v1h-1zM354 208h1v1h-1zM360 222h1v1h-1zM359 211h1v1h-1zM356 220h1v1h-1zM355 218h1v1h-1zM359 213h1v1h-1zM354 227h1v1h-1zM360 210h1v1h-1zM343 216h1v1h-1zM357 222h1v1h-1zM344 211h1v1h-1zM352 223h1v1h-1zM343 218h1v1h-1zM352 218h1v1h-1zM365 224h1v1h-1zM355 211h1v1h-1zM360 210h1v1h-1zM351 221h1v1h-1zM360 219h1v1h-1zM356 219h1v1h-1zM358 217h1v1h-1zM359 215h1v1h-1zM356 216h1v1h-1zM354 219h1v1h-1zM354 219h1v1h-1zM351 217h1v1h-1zM357 222h1v1h-1zM352 215h1v1h-1zM357 213h1v1h-1zM355 222h1v1h-1zM365 211h1v1h-1zM357 208h1v1h-1zM364 217h1v1h-1zM362 211h1v1h-1zM354 216h1v1h-1zM357 220h1v1h-1zM358 209h1v1h-1zM346 217h1v1h-1zM351 203h1v1h-1zM357 218h1v1h-1zM352 221h1v1h-1zM356 217h1v1h-1zM355 208h1v1h-1zM365 220h1v1h-1zM365 226h1v1h-1zM359 207h1v1h-1zM353 211h1v1h-1zM360 215h1v1h-1zM354 220h1v1h-1zM359 216h1v1h-1zM357 216h1v1h-1zM354 210h1v1h-1zM360 218h1v1h-1zM354 217h1v1h-1zM344 230h1v1h-1zM356 214h1v1h-1zM353 218h1v1h-1zM347 213h1v1h-1zM349 211h1v1h-1zM349 211h1v1h-1zM362 221h1v1h-1zM352 217h1v1h-1zM363 212h1v1h-1zM355 218h1v1h-1zM358 215h1v1h-1zM356 214h1v1h-1zM361 222h1v1h-1zM357 223h1v1h-1zM351 214h1v1h-1zM360 219h1v1h-1zM351 220h1v1h-1zM356 214h1v1h-1zM358 223h1v1h-1zM361 218h1v1h-1zM365 211h1v1h-1zM355 214h1v1h-1zM351 218h1v1h-1zM359 212h1v1h-1zM354 217h1v1h-1zM349 213h1v1h-1zM356 213h1v1h-1zM357 224h1v1h-1zM345 216h1v1h-1zM350 216h1v1h-1zM355 218h1v1h-1zM362 217h1v1h-1zM352 214h1v1h-1zM364 213h1v1h-1zM364 215h1v1h-1zM358 218h1v1h-1zM361 221h1v1h-1z" fill="#000" fill-opacity="0.55"/>
<path d="M361 231h1v1h-1zM366 247h1v1h-1zM347 273h1v1h-1zM359 245h1v1h-1zM350 243h1v1h-1zM340 253h1v1h-1zM344 264h1v1h-1zM360 230h1v1h-1zM355 227h1v1h-1zM353 225h1v1h-1zM359 243h1v1h-1zM352 244h1v1h-1zM352 265h1v1h-1zM347 236h1v1h-1zM343 258h1v1h-1zM347 239h1v1h-1zM347 244h1v1h-1zM355 233h1v1h-1zM363 247h1v1h-1zM356 259h1v1h-1zM354 259h1v1h-1zM354 237h1v1h-1zM355 229h1v1h-1zM358 252h1v1h-1zM358 272h1v1h-1zM346 253h1v1h-1zM346 269h1v1h-1zM355 227h1v1h-1zM349 254h1v1h-1zM347 245h1v1h-1zM369 241h1v1h-1zM355 241h1v1h-1zM347 252h1v1h-1zM350 271h1v1h-1zM364 250h1v1h-1zM356 233h1v1h-1zM352 234h1v1h-1zM346 252h1v1h-1zM355 244h1v1h-1zM355 259h1v1h-1zM353 258h1v1h-1zM354 253h1v1h-1zM351 248h1v1h-1zM358 251h1v1h-1zM360 241h1v1h-1zM365 229h1v1h-1zM340 241h1v1h-1zM351 250h1v1h-1zM355 250h1v1h-1zM355 260h1v1h-1z" fill="#000" fill-opacity="0.45"/>
<path d="M357 228h1v1h-1zM361 271h1v1h-1zM369 262h1v1h-1zM345 264h1v1h-1zM337 268h1v1h-1zM351 246h1v1h-1zM335 256h1v1h-1zM346 242h1v1h-1zM355 252h1v1h-1zM340 246h1v1h-1zM344 272h1v1h-1zM337 266h1v1h-1zM339 251h1v1h-1zM369 253h1v1h-1zM363 273h1v1h-1zM350 228h1v1h-1zM359 258h1v1h-1zM339 248h1v1h-1zM339 256h1v1h-1zM363 244h1v1h-1zM372 229h1v1h-1zM333 235h1v1h-1zM337 225h1v1h-1zM361 233h1v1h-1zM339 249h1v1h-1zM340 237h1v1h-1zM374 247h1v1h-1zM350 254h1v1h-1zM351 272h1v1h-1zM336 226h1v1h-1zM371 225h1v1h-1zM342 260h1v1h-1zM362 246h1v1h-1zM363 250h1v1h-1zM345 252h1v1h-1zM369 235h1v1h-1zM371 228h1v1h-1zM370 246h1v1h-1zM365 272h1v1h-1zM347 241h1v1h-1zM363 229h1v1h-1zM359 268h1v1h-1zM345 247h1v1h-1zM338 234h1v1h-1zM331 258h1v1h-1zM370 238h1v1h-1zM356 257h1v1h-1zM374 226h1v1h-1zM371 260h1v1h-1zM339 272h1v1h-1z" fill="#000" fill-opacity="0.4"/>
<path d="M307 287h1v1h-1zM314 250h1v1h-1zM310 244h1v1h-1zM322 254h1v1h-1zM316 252h1v1h-1zM308 251h1v1h-1zM300 266h1v1h-1zM312 244h1v1h-1zM313 237h1v1h-1zM304 269h1v1h-1zM312 252h1v1h-1zM326 247h1v1h-1zM305 261h1v1h-1zM317 258h1v1h-1zM307 260h1v1h-1zM315 261h1v1h-1zM300 274h1v1h-1zM312 249h1v1h-1zM310 271h1v1h-1zM319 263h1v1h-1z" fill="#000" fill-opacity="0.4"/>
<path d="M290 258h1v1h-1zM294 274h1v1h-1zM306 245h1v1h-1zM295 231h1v1h-1zM293 229h1v1h-1zM306 264h1v1h-1zM300 222h1v1h-1zM318 216h1v1h-1zM323 259h1v1h-1zM311 223h1v1h-1z" fill="#000" fill-opacity="0.4"/>
<rect x="271.00" y="199.20" width="107.60" height="103.10" fill="none" stroke="#111" stroke-width="1.2"/>
<line x1="327.30" y1="199.20" x2="327.30" y2="302.30" stroke-width="1.0" style="stroke:#222"/>
<line x1="271.00" y1="277.20" x2="378.60" y2="277.20" stroke-width="1.0" style="stroke:#222"/>
<path d="M271.00 302.30v3.2M271.00 302.30h-3.2M279.10 302.30v2.0M271.00 294.54h-2.0M283.83 302.30v2.0M271.00 290.00h-2.0M287.20 302.30v2.0M271.00 286.78h-2.0M289.80 302.30v2.0M271.00 284.28h-2.0M291.93 302.30v2.0M271.00 282.24h-2.0M293.73 302.30v2.0M271.00 280.52h-2.0M295.29 302.30v2.0M271.00 279.02h-2.0M296.67 302.30v2.0M271.00 277.70h-2.0M297.90 302.30v3.2M271.00 276.52h-3.2M306.00 302.30v2.0M271.00 268.77h-2.0M310.73 302.30v2.0M271.00 264.23h-2.0M314.10 302.30v2.0M271.00 261.01h-2.0M316.70 302.30v2.0M271.00 258.51h-2.0M318.83 302.30v2.0M271.00 256.47h-2.0M320.63 302.30v2.0M271.00 254.74h-2.0M322.19 302.30v2.0M271.00 253.25h-2.0M323.57 302.30v2.0M271.00 251.93h-2.0M324.80 302.30v3.2M271.00 250.75h-3.2M332.90 302.30v2.0M271.00 242.99h-2.0M337.63 302.30v2.0M271.00 238.45h-2.0M341.00 302.30v2.0M271.00 235.23h-2.0M343.60 302.30v2.0M271.00 232.73h-2.0M345.73 302.30v2.0M271.00 230.69h-2.0M347.53 302.30v2.0M271.00 228.97h-2.0M349.09 302.30v2.0M271.00 227.47h-2.0M350.47 302.30v2.0M271.00 226.15h-2.0M351.70 302.30v3.2M271.00 224.97h-3.2M359.80 302.30v2.0M271.00 217.22h-2.0M364.53 302.30v2.0M271.00 212.68h-2.0M367.90 302.30v2.0M271.00 209.46h-2.0M370.50 302.30v2.0M271.00 206.96h-2.0M372.63 302.30v2.0M271.00 204.92h-2.0M374.43 302.30v2.0M271.00 203.19h-2.0M375.99 302.30v2.0M271.00 201.70h-2.0M377.37 302.30v2.0M271.00 200.38h-2.0M378.60 302.30v3.2M271.00 199.20h-3.2" stroke="#000" stroke-width="0.8" fill="none"/>
<text transform="translate(272.00 315.70) scale(0.85 1)" font-size="9.5" text-anchor="middle" style="stroke-width:0.15px">10<tspan font-size="7" dx="0.8" dy="-4.6">0</tspan></text>
<text transform="translate(264.50 302.60) rotate(-90)" font-size="9.5" text-anchor="middle" style="stroke-width:0.15px">10<tspan font-size="7" dx="1" dy="-4.5">0</tspan></text>
<text transform="translate(298.90 315.70) scale(0.85 1)" font-size="9.5" text-anchor="middle" style="stroke-width:0.15px">10<tspan font-size="7" dx="0.8" dy="-4.6">1</tspan></text>
<text transform="translate(264.50 276.82) rotate(-90)" font-size="9.5" text-anchor="middle" style="stroke-width:0.15px">10<tspan font-size="7" dx="1" dy="-4.5">1</tspan></text>
<text transform="translate(325.80 315.70) scale(0.85 1)" font-size="9.5" text-anchor="middle" style="stroke-width:0.15px">10<tspan font-size="7" dx="0.8" dy="-4.6">2</tspan></text>
<text transform="translate(264.50 251.05) rotate(-90)" font-size="9.5" text-anchor="middle" style="stroke-width:0.15px">10<tspan font-size="7" dx="1" dy="-4.5">2</tspan></text>
<text transform="translate(352.70 315.70) scale(0.85 1)" font-size="9.5" text-anchor="middle" style="stroke-width:0.15px">10<tspan font-size="7" dx="0.8" dy="-4.6">3</tspan></text>
<text transform="translate(264.50 225.28) rotate(-90)" font-size="9.5" text-anchor="middle" style="stroke-width:0.15px">10<tspan font-size="7" dx="1" dy="-4.5">3</tspan></text>
<text transform="translate(379.60 315.70) scale(0.85 1)" font-size="9.5" text-anchor="middle" style="stroke-width:0.15px">10<tspan font-size="7" dx="0.8" dy="-4.6">4</tspan></text>
<text transform="translate(264.50 199.50) rotate(-90)" font-size="9.5" text-anchor="middle" style="stroke-width:0.15px">10<tspan font-size="7" dx="1" dy="-4.5">4</tspan></text>
<text transform="translate(275.80 215.90) rotate(0) scale(0.950 1)" font-size="17.00">1</text>
<text transform="translate(365.20 215.70) rotate(0) scale(0.950 1)" font-size="17.00">7</text>
<text transform="translate(273.80 300.80) rotate(0) scale(0.950 1)" font-size="17.00">65</text>
<text transform="translate(358.50 301.00) rotate(0) scale(0.950 1)" font-size="17.00">27</text>
<path d="M484 215h1v1h-1zM491 254h1v1h-1zM492 243h1v1h-1zM490 246h1v1h-1zM485 245h1v1h-1zM488 266h1v1h-1zM476 264h1v1h-1zM494 253h1v1h-1zM481 221h1v1h-1zM484 228h1v1h-1zM490 232h1v1h-1zM494 214h1v1h-1zM488 276h1v1h-1zM488 221h1v1h-1zM489 223h1v1h-1zM493 217h1v1h-1zM495 225h1v1h-1zM495 214h1v1h-1zM497 220h1v1h-1zM491 267h1v1h-1zM502 236h1v1h-1zM488 266h1v1h-1zM491 217h1v1h-1zM488 247h1v1h-1zM490 212h1v1h-1zM493 236h1v1h-1zM490 246h1v1h-1zM494 227h1v1h-1zM479 255h1v1h-1zM483 246h1v1h-1zM487 259h1v1h-1zM493 268h1v1h-1zM493 208h1v1h-1zM495 221h1v1h-1zM484 253h1v1h-1zM482 240h1v1h-1zM474 257h1v1h-1zM479 249h1v1h-1zM472 241h1v1h-1zM482 247h1v1h-1zM478 262h1v1h-1zM477 239h1v1h-1zM499 233h1v1h-1zM499 219h1v1h-1zM492 244h1v1h-1zM479 268h1v1h-1zM487 277h1v1h-1zM486 253h1v1h-1zM479 264h1v1h-1zM494 221h1v1h-1zM493 238h1v1h-1zM488 219h1v1h-1zM490 230h1v1h-1zM489 237h1v1h-1zM493 250h1v1h-1zM477 238h1v1h-1zM492 232h1v1h-1zM496 228h1v1h-1zM480 253h1v1h-1zM490 219h1v1h-1zM491 210h1v1h-1zM490 219h1v1h-1zM487 254h1v1h-1zM484 231h1v1h-1zM501 223h1v1h-1zM482 241h1v1h-1zM481 259h1v1h-1zM495 210h1v1h-1zM495 269h1v1h-1zM484 253h1v1h-1zM484 232h1v1h-1zM496 213h1v1h-1zM486 213h1v1h-1zM488 260h1v1h-1zM484 231h1v1h-1zM485 251h1v1h-1zM489 217h1v1h-1zM493 224h1v1h-1zM490 243h1v1h-1zM488 248h1v1h-1zM482 216h1v1h-1zM484 246h1v1h-1zM495 229h1v1h-1zM497 245h1v1h-1zM491 231h1v1h-1zM491 221h1v1h-1zM480 246h1v1h-1zM493 260h1v1h-1zM488 210h1v1h-1zM483 239h1v1h-1zM501 222h1v1h-1zM492 254h1v1h-1zM490 220h1v1h-1zM484 255h1v1h-1zM487 219h1v1h-1zM491 227h1v1h-1zM493 228h1v1h-1zM481 210h1v1h-1zM493 242h1v1h-1zM491 249h1v1h-1zM481 272h1v1h-1zM487 209h1v1h-1zM493 220h1v1h-1zM484 250h1v1h-1zM474 223h1v1h-1zM487 236h1v1h-1zM488 241h1v1h-1zM486 251h1v1h-1zM486 249h1v1h-1zM486 250h1v1h-1zM487 243h1v1h-1zM481 266h1v1h-1zM500 231h1v1h-1zM484 220h1v1h-1zM492 251h1v1h-1zM486 213h1v1h-1zM480 232h1v1h-1zM491 220h1v1h-1zM500 203h1v1h-1zM490 227h1v1h-1zM493 229h1v1h-1zM474 250h1v1h-1zM491 244h1v1h-1zM488 256h1v1h-1zM486 279h1v1h-1zM496 241h1v1h-1zM491 239h1v1h-1zM489 264h1v1h-1zM488 229h1v1h-1zM483 234h1v1h-1zM495 251h1v1h-1zM486 250h1v1h-1zM478 273h1v1h-1zM486 262h1v1h-1zM486 205h1v1h-1zM495 237h1v1h-1zM492 234h1v1h-1zM489 224h1v1h-1zM483 232h1v1h-1zM479 255h1v1h-1zM483 258h1v1h-1zM491 219h1v1h-1zM504 209h1v1h-1zM491 212h1v1h-1zM488 217h1v1h-1zM481 261h1v1h-1zM494 216h1v1h-1zM481 208h1v1h-1zM492 252h1v1h-1zM485 263h1v1h-1zM490 222h1v1h-1zM490 237h1v1h-1zM492 243h1v1h-1zM496 232h1v1h-1zM485 231h1v1h-1zM483 231h1v1h-1zM505 246h1v1h-1zM487 212h1v1h-1zM483 228h1v1h-1zM493 228h1v1h-1zM494 229h1v1h-1zM484 249h1v1h-1zM476 257h1v1h-1zM494 249h1v1h-1zM488 225h1v1h-1zM501 217h1v1h-1zM489 256h1v1h-1zM479 253h1v1h-1zM487 252h1v1h-1zM481 244h1v1h-1zM484 256h1v1h-1zM490 210h1v1h-1zM492 225h1v1h-1zM488 222h1v1h-1zM492 212h1v1h-1zM502 212h1v1h-1zM485 246h1v1h-1zM492 248h1v1h-1zM482 256h1v1h-1zM486 273h1v1h-1zM495 244h1v1h-1zM481 261h1v1h-1zM495 201h1v1h-1zM495 220h1v1h-1zM483 265h1v1h-1zM475 246h1v1h-1zM489 249h1v1h-1zM491 222h1v1h-1zM487 227h1v1h-1zM487 209h1v1h-1zM486 237h1v1h-1zM483 263h1v1h-1zM494 238h1v1h-1zM488 246h1v1h-1zM485 244h1v1h-1zM492 230h1v1h-1zM491 223h1v1h-1zM493 231h1v1h-1zM488 269h1v1h-1zM486 269h1v1h-1zM496 233h1v1h-1zM493 265h1v1h-1zM492 221h1v1h-1zM478 251h1v1h-1zM491 233h1v1h-1zM483 249h1v1h-1zM485 221h1v1h-1zM477 275h1v1h-1zM493 260h1v1h-1zM478 276h1v1h-1zM467 268h1v1h-1zM496 227h1v1h-1zM488 240h1v1h-1zM491 239h1v1h-1zM483 257h1v1h-1zM490 216h1v1h-1zM489 248h1v1h-1zM479 264h1v1h-1zM496 243h1v1h-1zM497 261h1v1h-1zM479 266h1v1h-1zM496 259h1v1h-1zM483 272h1v1h-1zM484 262h1v1h-1zM486 261h1v1h-1zM498 218h1v1h-1zM481 272h1v1h-1zM487 204h1v1h-1zM486 220h1v1h-1zM479 270h1v1h-1zM471 272h1v1h-1zM483 220h1v1h-1zM484 254h1v1h-1zM486 252h1v1h-1zM496 227h1v1h-1zM489 244h1v1h-1zM483 265h1v1h-1zM477 246h1v1h-1zM483 236h1v1h-1zM497 213h1v1h-1zM478 230h1v1h-1zM481 231h1v1h-1zM496 215h1v1h-1zM478 240h1v1h-1zM483 264h1v1h-1zM471 270h1v1h-1zM489 258h1v1h-1zM473 272h1v1h-1zM485 214h1v1h-1zM484 264h1v1h-1zM481 234h1v1h-1zM482 267h1v1h-1zM476 273h1v1h-1zM481 268h1v1h-1zM483 232h1v1h-1zM487 274h1v1h-1zM495 226h1v1h-1zM491 220h1v1h-1zM487 226h1v1h-1zM491 235h1v1h-1zM492 214h1v1h-1zM500 221h1v1h-1zM482 243h1v1h-1zM488 261h1v1h-1zM490 219h1v1h-1zM480 234h1v1h-1zM487 223h1v1h-1zM486 212h1v1h-1zM484 224h1v1h-1zM494 205h1v1h-1zM493 217h1v1h-1zM494 218h1v1h-1zM486 269h1v1h-1zM480 230h1v1h-1zM491 229h1v1h-1zM489 233h1v1h-1zM483 270h1v1h-1zM489 250h1v1h-1zM487 207h1v1h-1zM481 251h1v1h-1zM481 259h1v1h-1zM489 214h1v1h-1zM480 251h1v1h-1zM492 240h1v1h-1zM476 276h1v1h-1zM479 258h1v1h-1zM489 275h1v1h-1zM498 271h1v1h-1zM489 218h1v1h-1zM483 240h1v1h-1zM499 251h1v1h-1zM481 271h1v1h-1zM491 240h1v1h-1zM485 225h1v1h-1zM496 237h1v1h-1zM483 241h1v1h-1zM495 238h1v1h-1zM497 211h1v1h-1zM489 268h1v1h-1zM488 213h1v1h-1zM488 266h1v1h-1zM479 239h1v1h-1zM491 251h1v1h-1zM489 242h1v1h-1zM499 211h1v1h-1zM491 264h1v1h-1zM484 229h1v1h-1zM482 259h1v1h-1zM488 222h1v1h-1zM491 249h1v1h-1zM497 265h1v1h-1zM481 248h1v1h-1zM484 249h1v1h-1zM489 241h1v1h-1zM485 220h1v1h-1zM479 232h1v1h-1zM490 218h1v1h-1zM489 248h1v1h-1zM490 221h1v1h-1zM477 220h1v1h-1zM495 227h1v1h-1zM487 207h1v1h-1zM496 211h1v1h-1zM489 266h1v1h-1zM499 241h1v1h-1zM492 258h1v1h-1zM495 262h1v1h-1zM491 212h1v1h-1zM488 277h1v1h-1zM486 253h1v1h-1zM488 250h1v1h-1zM489 239h1v1h-1zM480 272h1v1h-1zM494 206h1v1h-1zM487 255h1v1h-1zM490 250h1v1h-1zM504 213h1v1h-1zM495 251h1v1h-1zM489 270h1v1h-1zM494 246h1v1h-1zM489 236h1v1h-1zM492 236h1v1h-1zM486 213h1v1h-1zM486 214h1v1h-1zM496 231h1v1h-1zM498 220h1v1h-1zM478 270h1v1h-1zM487 272h1v1h-1zM488 201h1v1h-1zM486 230h1v1h-1zM482 228h1v1h-1zM497 240h1v1h-1zM490 229h1v1h-1zM487 254h1v1h-1zM479 266h1v1h-1zM481 257h1v1h-1zM490 212h1v1h-1zM490 211h1v1h-1zM486 269h1v1h-1zM487 243h1v1h-1zM494 214h1v1h-1zM484 263h1v1h-1zM491 236h1v1h-1zM499 235h1v1h-1zM489 222h1v1h-1zM493 231h1v1h-1zM484 273h1v1h-1zM487 245h1v1h-1zM489 248h1v1h-1zM488 257h1v1h-1zM482 252h1v1h-1zM495 213h1v1h-1zM494 257h1v1h-1zM505 225h1v1h-1zM485 239h1v1h-1zM496 213h1v1h-1zM488 229h1v1h-1zM496 267h1v1h-1zM485 258h1v1h-1zM496 268h1v1h-1zM496 259h1v1h-1zM488 256h1v1h-1zM494 228h1v1h-1zM493 238h1v1h-1zM483 224h1v1h-1zM498 247h1v1h-1zM481 262h1v1h-1zM478 277h1v1h-1zM483 264h1v1h-1zM489 261h1v1h-1zM500 251h1v1h-1zM486 268h1v1h-1zM491 254h1v1h-1zM488 224h1v1h-1zM479 236h1v1h-1zM493 238h1v1h-1zM481 257h1v1h-1zM492 223h1v1h-1zM484 224h1v1h-1zM479 273h1v1h-1zM494 213h1v1h-1zM482 275h1v1h-1zM478 241h1v1h-1zM493 265h1v1h-1zM483 250h1v1h-1zM480 222h1v1h-1zM496 229h1v1h-1zM491 263h1v1h-1zM499 208h1v1h-1zM496 265h1v1h-1zM494 215h1v1h-1zM496 262h1v1h-1zM502 272h1v1h-1zM486 231h1v1h-1zM491 229h1v1h-1zM487 234h1v1h-1zM491 233h1v1h-1zM490 276h1v1h-1zM496 209h1v1h-1zM492 209h1v1h-1zM490 240h1v1h-1zM486 217h1v1h-1zM482 243h1v1h-1zM487 222h1v1h-1zM490 250h1v1h-1zM483 269h1v1h-1zM479 258h1v1h-1zM475 245h1v1h-1zM484 265h1v1h-1zM494 224h1v1h-1zM490 253h1v1h-1zM490 246h1v1h-1zM481 240h1v1h-1zM495 226h1v1h-1zM498 224h1v1h-1zM498 213h1v1h-1zM478 260h1v1h-1zM491 247h1v1h-1zM486 239h1v1h-1zM484 276h1v1h-1zM503 237h1v1h-1zM487 265h1v1h-1zM488 206h1v1h-1zM479 252h1v1h-1zM493 224h1v1h-1zM484 245h1v1h-1zM489 260h1v1h-1zM497 211h1v1h-1zM480 216h1v1h-1zM495 246h1v1h-1zM488 228h1v1h-1zM481 245h1v1h-1zM489 243h1v1h-1zM488 218h1v1h-1zM487 245h1v1h-1zM487 222h1v1h-1zM483 225h1v1h-1zM486 226h1v1h-1zM493 239h1v1h-1zM488 222h1v1h-1zM482 270h1v1h-1zM489 246h1v1h-1zM489 268h1v1h-1zM500 233h1v1h-1zM476 246h1v1h-1zM488 251h1v1h-1zM487 243h1v1h-1zM485 249h1v1h-1zM491 252h1v1h-1zM490 240h1v1h-1zM494 220h1v1h-1zM491 231h1v1h-1zM486 248h1v1h-1zM485 209h1v1h-1zM496 271h1v1h-1zM489 211h1v1h-1zM487 239h1v1h-1zM481 256h1v1h-1zM476 279h1v1h-1zM496 225h1v1h-1zM481 265h1v1h-1zM500 222h1v1h-1zM469 247h1v1h-1zM500 238h1v1h-1zM482 224h1v1h-1zM483 240h1v1h-1zM495 215h1v1h-1zM486 242h1v1h-1zM494 229h1v1h-1zM478 255h1v1h-1zM488 246h1v1h-1zM501 218h1v1h-1zM485 247h1v1h-1zM487 258h1v1h-1zM478 273h1v1h-1zM488 261h1v1h-1zM485 249h1v1h-1zM495 220h1v1h-1zM489 241h1v1h-1zM480 265h1v1h-1zM490 253h1v1h-1zM488 229h1v1h-1zM503 224h1v1h-1zM484 276h1v1h-1zM477 247h1v1h-1zM496 213h1v1h-1zM484 273h1v1h-1zM496 232h1v1h-1zM491 269h1v1h-1zM490 252h1v1h-1zM488 217h1v1h-1zM494 224h1v1h-1zM488 247h1v1h-1zM492 231h1v1h-1zM484 277h1v1h-1zM486 224h1v1h-1zM483 258h1v1h-1zM488 262h1v1h-1zM477 251h1v1h-1zM484 235h1v1h-1zM479 270h1v1h-1zM492 222h1v1h-1zM490 238h1v1h-1zM496 237h1v1h-1zM495 217h1v1h-1zM484 215h1v1h-1zM486 230h1v1h-1zM489 260h1v1h-1zM483 251h1v1h-1zM484 258h1v1h-1zM481 255h1v1h-1zM478 274h1v1h-1zM491 228h1v1h-1zM488 246h1v1h-1zM486 240h1v1h-1zM477 274h1v1h-1zM492 268h1v1h-1zM487 225h1v1h-1zM477 259h1v1h-1zM489 247h1v1h-1zM476 275h1v1h-1zM482 277h1v1h-1zM491 280h1v1h-1zM483 269h1v1h-1zM495 223h1v1h-1zM487 252h1v1h-1zM492 224h1v1h-1zM489 217h1v1h-1zM492 215h1v1h-1zM492 255h1v1h-1zM486 261h1v1h-1zM486 250h1v1h-1zM487 269h1v1h-1zM486 258h1v1h-1zM485 245h1v1h-1zM489 230h1v1h-1zM499 209h1v1h-1zM489 236h1v1h-1zM489 252h1v1h-1zM490 236h1v1h-1zM483 265h1v1h-1zM492 233h1v1h-1zM490 249h1v1h-1zM490 253h1v1h-1zM483 231h1v1h-1zM482 267h1v1h-1zM490 222h1v1h-1zM483 272h1v1h-1zM494 281h1v1h-1zM495 237h1v1h-1zM485 253h1v1h-1zM500 241h1v1h-1zM493 235h1v1h-1zM497 249h1v1h-1zM493 243h1v1h-1zM475 242h1v1h-1zM491 260h1v1h-1zM493 205h1v1h-1zM494 249h1v1h-1zM479 263h1v1h-1zM483 206h1v1h-1zM467 270h1v1h-1zM488 243h1v1h-1zM482 224h1v1h-1zM501 234h1v1h-1zM489 232h1v1h-1zM492 225h1v1h-1zM490 231h1v1h-1zM494 229h1v1h-1zM492 213h1v1h-1zM489 243h1v1h-1zM495 221h1v1h-1zM488 223h1v1h-1zM476 233h1v1h-1zM486 269h1v1h-1zM480 262h1v1h-1zM487 239h1v1h-1zM473 276h1v1h-1zM486 270h1v1h-1zM490 273h1v1h-1zM482 251h1v1h-1zM486 229h1v1h-1zM479 252h1v1h-1zM492 233h1v1h-1zM482 243h1v1h-1zM488 255h1v1h-1zM479 220h1v1h-1zM478 218h1v1h-1zM489 217h1v1h-1zM491 242h1v1h-1zM477 262h1v1h-1zM496 235h1v1h-1zM495 221h1v1h-1zM480 275h1v1h-1zM492 248h1v1h-1zM485 275h1v1h-1zM488 267h1v1h-1zM476 240h1v1h-1zM485 261h1v1h-1zM494 214h1v1h-1zM495 239h1v1h-1zM493 258h1v1h-1zM497 220h1v1h-1zM482 258h1v1h-1zM477 257h1v1h-1zM481 237h1v1h-1zM487 262h1v1h-1zM481 247h1v1h-1zM483 264h1v1h-1zM500 220h1v1h-1zM485 248h1v1h-1zM479 250h1v1h-1zM490 278h1v1h-1zM492 250h1v1h-1zM479 264h1v1h-1zM491 232h1v1h-1zM481 249h1v1h-1zM482 257h1v1h-1zM480 260h1v1h-1zM500 218h1v1h-1zM483 271h1v1h-1zM475 275h1v1h-1zM489 227h1v1h-1zM479 240h1v1h-1zM496 220h1v1h-1zM477 231h1v1h-1zM488 253h1v1h-1zM486 242h1v1h-1zM487 224h1v1h-1zM487 207h1v1h-1zM489 220h1v1h-1zM477 273h1v1h-1zM479 254h1v1h-1zM498 220h1v1h-1zM489 251h1v1h-1zM497 209h1v1h-1zM486 275h1v1h-1zM487 253h1v1h-1zM486 259h1v1h-1zM487 244h1v1h-1zM485 260h1v1h-1zM488 213h1v1h-1zM489 229h1v1h-1zM484 253h1v1h-1zM482 216h1v1h-1zM486 251h1v1h-1zM481 214h1v1h-1zM499 219h1v1h-1zM486 212h1v1h-1zM494 266h1v1h-1zM484 271h1v1h-1zM506 210h1v1h-1zM495 224h1v1h-1zM484 253h1v1h-1zM489 215h1v1h-1zM486 212h1v1h-1zM487 241h1v1h-1zM482 246h1v1h-1zM493 260h1v1h-1zM490 228h1v1h-1zM492 211h1v1h-1zM490 265h1v1h-1zM487 263h1v1h-1zM487 257h1v1h-1zM489 224h1v1h-1zM498 215h1v1h-1zM490 223h1v1h-1zM486 230h1v1h-1zM501 217h1v1h-1zM493 233h1v1h-1zM494 261h1v1h-1zM485 241h1v1h-1zM484 252h1v1h-1zM485 247h1v1h-1zM500 210h1v1h-1zM487 235h1v1h-1zM496 255h1v1h-1zM490 246h1v1h-1zM478 213h1v1h-1zM491 252h1v1h-1zM489 227h1v1h-1zM496 226h1v1h-1zM491 213h1v1h-1zM486 222h1v1h-1zM492 225h1v1h-1zM493 224h1v1h-1zM496 216h1v1h-1zM477 224h1v1h-1zM493 218h1v1h-1zM488 248h1v1h-1zM484 241h1v1h-1zM487 261h1v1h-1zM494 265h1v1h-1zM484 259h1v1h-1zM492 239h1v1h-1zM481 230h1v1h-1zM479 235h1v1h-1zM484 259h1v1h-1zM485 223h1v1h-1zM492 241h1v1h-1zM477 273h1v1h-1zM500 272h1v1h-1zM488 222h1v1h-1zM491 228h1v1h-1zM492 273h1v1h-1zM488 215h1v1h-1zM495 244h1v1h-1zM486 245h1v1h-1zM486 240h1v1h-1zM485 250h1v1h-1zM482 258h1v1h-1zM480 238h1v1h-1zM481 263h1v1h-1zM494 230h1v1h-1zM470 251h1v1h-1zM498 244h1v1h-1zM489 223h1v1h-1zM485 217h1v1h-1zM485 252h1v1h-1zM480 241h1v1h-1zM489 249h1v1h-1zM476 237h1v1h-1zM493 249h1v1h-1zM486 226h1v1h-1zM492 220h1v1h-1zM491 232h1v1h-1zM483 244h1v1h-1zM493 212h1v1h-1zM485 228h1v1h-1zM484 229h1v1h-1zM497 214h1v1h-1zM494 214h1v1h-1zM480 260h1v1h-1zM488 244h1v1h-1zM486 224h1v1h-1zM487 235h1v1h-1zM485 227h1v1h-1zM493 220h1v1h-1zM487 212h1v1h-1zM497 236h1v1h-1zM483 267h1v1h-1zM494 220h1v1h-1zM484 223h1v1h-1zM485 243h1v1h-1zM482 262h1v1h-1zM481 271h1v1h-1zM479 275h1v1h-1zM484 241h1v1h-1zM486 248h1v1h-1zM478 276h1v1h-1zM490 257h1v1h-1zM480 210h1v1h-1zM492 214h1v1h-1zM484 244h1v1h-1zM483 260h1v1h-1zM485 266h1v1h-1zM487 251h1v1h-1zM491 253h1v1h-1zM484 222h1v1h-1zM490 234h1v1h-1zM491 219h1v1h-1zM486 273h1v1h-1zM488 264h1v1h-1zM485 245h1v1h-1zM502 259h1v1h-1zM483 230h1v1h-1zM496 262h1v1h-1zM484 239h1v1h-1zM497 229h1v1h-1zM498 221h1v1h-1zM491 236h1v1h-1zM486 215h1v1h-1zM487 255h1v1h-1zM483 234h1v1h-1zM483 235h1v1h-1zM495 238h1v1h-1zM481 264h1v1h-1zM490 236h1v1h-1zM474 252h1v1h-1zM496 234h1v1h-1zM496 207h1v1h-1zM493 229h1v1h-1zM486 214h1v1h-1zM490 238h1v1h-1zM486 210h1v1h-1zM495 226h1v1h-1zM488 209h1v1h-1zM484 274h1v1h-1zM493 217h1v1h-1zM491 270h1v1h-1zM488 250h1v1h-1zM493 220h1v1h-1zM480 263h1v1h-1zM492 206h1v1h-1zM497 243h1v1h-1zM484 262h1v1h-1zM482 266h1v1h-1zM488 217h1v1h-1zM492 218h1v1h-1zM498 216h1v1h-1zM483 266h1v1h-1zM506 219h1v1h-1zM478 261h1v1h-1zM488 263h1v1h-1zM474 220h1v1h-1zM488 259h1v1h-1zM498 250h1v1h-1zM486 215h1v1h-1zM496 220h1v1h-1zM492 210h1v1h-1zM488 249h1v1h-1zM486 270h1v1h-1zM482 263h1v1h-1zM489 257h1v1h-1zM479 244h1v1h-1zM492 268h1v1h-1zM496 262h1v1h-1zM485 215h1v1h-1zM472 259h1v1h-1zM486 247h1v1h-1zM481 237h1v1h-1zM485 246h1v1h-1zM497 226h1v1h-1zM486 254h1v1h-1zM496 260h1v1h-1zM500 211h1v1h-1zM490 229h1v1h-1zM494 225h1v1h-1zM484 237h1v1h-1zM496 250h1v1h-1zM487 249h1v1h-1zM500 267h1v1h-1zM494 262h1v1h-1zM481 248h1v1h-1zM493 211h1v1h-1zM487 235h1v1h-1zM486 230h1v1h-1zM479 275h1v1h-1zM480 210h1v1h-1zM481 234h1v1h-1zM482 226h1v1h-1zM495 222h1v1h-1zM497 237h1v1h-1zM495 208h1v1h-1zM495 225h1v1h-1zM494 238h1v1h-1zM493 264h1v1h-1zM491 225h1v1h-1zM492 257h1v1h-1zM476 276h1v1h-1zM479 263h1v1h-1zM489 264h1v1h-1zM475 266h1v1h-1zM491 214h1v1h-1zM491 267h1v1h-1zM488 268h1v1h-1zM490 272h1v1h-1zM502 204h1v1h-1zM482 232h1v1h-1zM501 227h1v1h-1zM492 215h1v1h-1zM494 266h1v1h-1zM495 237h1v1h-1zM498 218h1v1h-1zM486 207h1v1h-1zM488 246h1v1h-1zM482 228h1v1h-1zM490 214h1v1h-1zM490 273h1v1h-1zM487 260h1v1h-1zM480 241h1v1h-1zM498 227h1v1h-1zM482 210h1v1h-1zM484 256h1v1h-1zM487 225h1v1h-1zM488 273h1v1h-1zM496 261h1v1h-1zM492 254h1v1h-1zM491 267h1v1h-1zM478 257h1v1h-1z" fill="#000" fill-opacity="0.45"/>
<path d="M497 228h1v1h-1zM494 239h1v1h-1zM483 212h1v1h-1zM485 217h1v1h-1zM501 204h1v1h-1zM493 230h1v1h-1zM483 230h1v1h-1zM486 228h1v1h-1zM492 210h1v1h-1zM491 229h1v1h-1zM489 227h1v1h-1zM492 230h1v1h-1zM493 223h1v1h-1zM504 218h1v1h-1zM504 229h1v1h-1zM483 213h1v1h-1zM480 227h1v1h-1zM502 219h1v1h-1zM491 226h1v1h-1zM492 222h1v1h-1zM503 224h1v1h-1zM501 213h1v1h-1zM488 238h1v1h-1zM489 225h1v1h-1zM485 208h1v1h-1zM498 221h1v1h-1zM484 212h1v1h-1zM488 227h1v1h-1zM488 212h1v1h-1zM497 237h1v1h-1zM491 216h1v1h-1zM486 228h1v1h-1zM477 223h1v1h-1zM494 219h1v1h-1zM503 223h1v1h-1zM499 214h1v1h-1zM489 218h1v1h-1zM502 213h1v1h-1zM489 227h1v1h-1zM480 216h1v1h-1zM482 214h1v1h-1zM483 222h1v1h-1zM485 226h1v1h-1zM489 231h1v1h-1zM483 226h1v1h-1zM489 222h1v1h-1zM490 222h1v1h-1zM482 216h1v1h-1zM497 218h1v1h-1zM498 220h1v1h-1zM501 222h1v1h-1zM486 232h1v1h-1zM473 231h1v1h-1zM487 229h1v1h-1zM480 212h1v1h-1zM481 224h1v1h-1zM494 237h1v1h-1zM495 224h1v1h-1zM501 229h1v1h-1zM487 238h1v1h-1zM498 218h1v1h-1zM497 224h1v1h-1zM496 230h1v1h-1zM487 230h1v1h-1zM478 212h1v1h-1zM493 236h1v1h-1zM494 209h1v1h-1zM483 222h1v1h-1zM490 229h1v1h-1zM490 220h1v1h-1zM496 242h1v1h-1zM490 210h1v1h-1zM494 211h1v1h-1zM501 234h1v1h-1zM491 209h1v1h-1zM485 217h1v1h-1zM504 209h1v1h-1zM485 217h1v1h-1zM487 229h1v1h-1zM483 217h1v1h-1zM492 224h1v1h-1zM493 211h1v1h-1zM494 208h1v1h-1zM493 210h1v1h-1zM500 232h1v1h-1zM492 232h1v1h-1zM495 220h1v1h-1zM496 223h1v1h-1zM490 216h1v1h-1zM494 217h1v1h-1zM486 225h1v1h-1zM491 231h1v1h-1zM494 255h1v1h-1zM485 216h1v1h-1zM489 238h1v1h-1zM473 215h1v1h-1zM490 220h1v1h-1zM490 221h1v1h-1zM494 236h1v1h-1zM495 213h1v1h-1zM488 212h1v1h-1zM493 204h1v1h-1zM476 219h1v1h-1zM479 232h1v1h-1zM488 219h1v1h-1zM495 224h1v1h-1zM492 234h1v1h-1zM501 235h1v1h-1zM493 224h1v1h-1zM487 236h1v1h-1zM492 222h1v1h-1zM508 216h1v1h-1zM492 226h1v1h-1zM487 217h1v1h-1zM494 215h1v1h-1zM493 212h1v1h-1zM481 209h1v1h-1zM491 241h1v1h-1zM499 224h1v1h-1zM499 214h1v1h-1zM493 232h1v1h-1zM499 223h1v1h-1zM491 221h1v1h-1zM482 229h1v1h-1zM485 227h1v1h-1zM493 217h1v1h-1zM493 222h1v1h-1zM494 209h1v1h-1zM484 236h1v1h-1zM486 218h1v1h-1zM502 221h1v1h-1zM482 218h1v1h-1zM490 228h1v1h-1zM479 237h1v1h-1zM477 216h1v1h-1zM481 225h1v1h-1zM489 217h1v1h-1zM492 218h1v1h-1zM491 217h1v1h-1zM486 231h1v1h-1zM496 220h1v1h-1zM493 237h1v1h-1zM498 221h1v1h-1zM479 226h1v1h-1zM493 229h1v1h-1zM488 234h1v1h-1zM473 209h1v1h-1zM486 238h1v1h-1zM484 212h1v1h-1zM498 227h1v1h-1zM502 223h1v1h-1zM495 204h1v1h-1zM492 217h1v1h-1zM492 213h1v1h-1zM493 224h1v1h-1zM485 231h1v1h-1zM493 216h1v1h-1zM499 235h1v1h-1zM476 224h1v1h-1zM489 232h1v1h-1zM494 222h1v1h-1zM491 228h1v1h-1zM495 216h1v1h-1zM502 225h1v1h-1zM498 219h1v1h-1zM499 220h1v1h-1zM485 219h1v1h-1zM495 232h1v1h-1zM501 228h1v1h-1zM494 226h1v1h-1zM488 227h1v1h-1zM477 215h1v1h-1zM493 227h1v1h-1zM486 225h1v1h-1zM489 218h1v1h-1zM485 232h1v1h-1zM479 227h1v1h-1zM502 236h1v1h-1zM492 220h1v1h-1zM503 207h1v1h-1zM488 227h1v1h-1zM485 215h1v1h-1zM493 226h1v1h-1zM492 218h1v1h-1zM487 217h1v1h-1zM477 230h1v1h-1zM495 225h1v1h-1zM500 222h1v1h-1zM490 231h1v1h-1zM483 221h1v1h-1zM498 214h1v1h-1zM492 216h1v1h-1zM485 238h1v1h-1zM491 222h1v1h-1zM500 221h1v1h-1zM492 215h1v1h-1zM490 233h1v1h-1zM485 222h1v1h-1zM483 214h1v1h-1zM483 212h1v1h-1zM491 218h1v1h-1zM490 227h1v1h-1zM482 215h1v1h-1zM487 230h1v1h-1zM483 227h1v1h-1zM489 222h1v1h-1zM487 219h1v1h-1zM483 231h1v1h-1zM491 230h1v1h-1zM489 234h1v1h-1zM483 224h1v1h-1zM486 232h1v1h-1zM488 228h1v1h-1zM488 226h1v1h-1zM507 215h1v1h-1zM506 227h1v1h-1zM483 221h1v1h-1zM496 224h1v1h-1zM495 228h1v1h-1zM498 212h1v1h-1zM489 241h1v1h-1zM482 234h1v1h-1zM489 223h1v1h-1zM479 240h1v1h-1zM496 230h1v1h-1zM489 221h1v1h-1zM492 235h1v1h-1zM497 205h1v1h-1zM490 227h1v1h-1zM493 219h1v1h-1zM490 218h1v1h-1zM495 219h1v1h-1zM487 227h1v1h-1zM500 219h1v1h-1zM489 213h1v1h-1zM486 240h1v1h-1zM481 215h1v1h-1zM492 219h1v1h-1zM486 224h1v1h-1zM497 217h1v1h-1zM480 222h1v1h-1zM488 216h1v1h-1zM504 219h1v1h-1zM491 235h1v1h-1zM496 221h1v1h-1zM491 215h1v1h-1zM500 216h1v1h-1zM483 225h1v1h-1zM481 224h1v1h-1zM490 226h1v1h-1zM496 231h1v1h-1zM507 214h1v1h-1zM491 229h1v1h-1zM491 238h1v1h-1zM491 224h1v1h-1zM499 213h1v1h-1zM481 235h1v1h-1zM492 209h1v1h-1zM481 222h1v1h-1zM489 219h1v1h-1zM499 229h1v1h-1zM494 202h1v1h-1zM505 222h1v1h-1zM492 216h1v1h-1zM482 226h1v1h-1zM501 214h1v1h-1zM478 225h1v1h-1zM496 222h1v1h-1zM495 219h1v1h-1zM505 222h1v1h-1zM497 228h1v1h-1zM496 222h1v1h-1zM478 233h1v1h-1zM485 218h1v1h-1zM483 226h1v1h-1zM489 227h1v1h-1zM497 216h1v1h-1zM489 213h1v1h-1zM495 221h1v1h-1zM489 216h1v1h-1zM501 224h1v1h-1zM478 212h1v1h-1zM489 220h1v1h-1zM491 217h1v1h-1zM494 219h1v1h-1zM490 215h1v1h-1zM493 231h1v1h-1zM479 213h1v1h-1zM481 229h1v1h-1zM499 217h1v1h-1zM485 218h1v1h-1zM492 216h1v1h-1zM492 211h1v1h-1zM487 225h1v1h-1zM484 225h1v1h-1zM489 233h1v1h-1zM498 209h1v1h-1zM479 214h1v1h-1zM490 233h1v1h-1zM488 213h1v1h-1z" fill="#000" fill-opacity="0.45"/>
<path d="M473 262h1v1h-1zM477 226h1v1h-1zM477 240h1v1h-1zM464 249h1v1h-1zM455 272h1v1h-1zM463 265h1v1h-1zM477 241h1v1h-1zM478 278h1v1h-1zM467 235h1v1h-1zM473 240h1v1h-1zM466 239h1v1h-1zM463 221h1v1h-1zM469 253h1v1h-1zM462 249h1v1h-1zM457 269h1v1h-1zM473 241h1v1h-1zM465 273h1v1h-1zM471 224h1v1h-1zM459 278h1v1h-1zM460 235h1v1h-1zM478 234h1v1h-1zM470 221h1v1h-1zM477 247h1v1h-1zM475 240h1v1h-1zM458 262h1v1h-1zM478 233h1v1h-1zM461 267h1v1h-1zM477 264h1v1h-1zM487 221h1v1h-1zM470 232h1v1h-1zM485 239h1v1h-1zM461 225h1v1h-1zM464 246h1v1h-1zM464 261h1v1h-1zM469 269h1v1h-1zM469 237h1v1h-1zM472 267h1v1h-1zM465 267h1v1h-1zM468 236h1v1h-1zM467 258h1v1h-1zM465 256h1v1h-1zM464 251h1v1h-1zM463 286h1v1h-1zM466 276h1v1h-1zM462 262h1v1h-1zM464 256h1v1h-1zM484 262h1v1h-1zM460 255h1v1h-1zM470 261h1v1h-1zM469 255h1v1h-1zM453 271h1v1h-1zM456 255h1v1h-1zM465 267h1v1h-1zM466 241h1v1h-1zM467 273h1v1h-1zM463 249h1v1h-1zM480 240h1v1h-1zM464 248h1v1h-1zM455 270h1v1h-1zM456 272h1v1h-1zM480 243h1v1h-1zM490 235h1v1h-1zM475 217h1v1h-1zM485 222h1v1h-1zM464 261h1v1h-1zM466 257h1v1h-1zM468 247h1v1h-1zM458 265h1v1h-1zM475 223h1v1h-1zM472 265h1v1h-1zM489 232h1v1h-1zM468 279h1v1h-1zM476 233h1v1h-1zM462 247h1v1h-1zM469 247h1v1h-1zM468 235h1v1h-1zM471 246h1v1h-1zM473 228h1v1h-1zM452 281h1v1h-1zM472 239h1v1h-1zM451 258h1v1h-1zM479 247h1v1h-1zM482 232h1v1h-1zM456 277h1v1h-1zM476 239h1v1h-1zM470 247h1v1h-1zM456 281h1v1h-1zM466 245h1v1h-1zM469 263h1v1h-1zM467 242h1v1h-1zM475 242h1v1h-1zM463 242h1v1h-1zM476 265h1v1h-1zM460 233h1v1h-1zM479 227h1v1h-1zM477 265h1v1h-1zM461 254h1v1h-1zM484 225h1v1h-1zM485 240h1v1h-1zM471 245h1v1h-1zM470 225h1v1h-1zM468 230h1v1h-1zM457 251h1v1h-1zM464 270h1v1h-1zM461 274h1v1h-1zM462 251h1v1h-1zM465 269h1v1h-1zM466 270h1v1h-1zM473 230h1v1h-1zM465 257h1v1h-1zM473 257h1v1h-1zM478 237h1v1h-1zM481 235h1v1h-1zM477 243h1v1h-1zM476 250h1v1h-1zM470 256h1v1h-1zM468 246h1v1h-1zM480 244h1v1h-1zM461 246h1v1h-1zM479 249h1v1h-1zM460 239h1v1h-1zM471 235h1v1h-1zM473 219h1v1h-1zM471 231h1v1h-1zM467 262h1v1h-1zM477 226h1v1h-1zM473 263h1v1h-1zM466 238h1v1h-1zM472 276h1v1h-1zM471 268h1v1h-1zM462 269h1v1h-1zM450 260h1v1h-1zM478 235h1v1h-1zM474 233h1v1h-1zM466 247h1v1h-1zM467 247h1v1h-1zM467 277h1v1h-1zM471 247h1v1h-1zM481 249h1v1h-1zM466 242h1v1h-1zM458 274h1v1h-1zM462 241h1v1h-1zM466 231h1v1h-1zM469 220h1v1h-1zM473 267h1v1h-1zM467 245h1v1h-1zM463 273h1v1h-1zM474 239h1v1h-1zM468 225h1v1h-1zM475 262h1v1h-1z" fill="#000" fill-opacity="0.35"/>
<path d="M463 276h1v1h-1zM467 221h1v1h-1zM469 234h1v1h-1zM460 263h1v1h-1zM465 214h1v1h-1zM477 253h1v1h-1zM500 237h1v1h-1zM480 215h1v1h-1zM473 257h1v1h-1zM490 232h1v1h-1zM476 240h1v1h-1zM478 214h1v1h-1zM481 240h1v1h-1zM494 241h1v1h-1zM491 233h1v1h-1zM500 231h1v1h-1zM464 257h1v1h-1zM491 249h1v1h-1zM471 255h1v1h-1zM480 239h1v1h-1zM476 220h1v1h-1zM464 269h1v1h-1zM456 256h1v1h-1zM492 242h1v1h-1zM480 216h1v1h-1zM472 232h1v1h-1zM478 206h1v1h-1zM491 239h1v1h-1zM486 237h1v1h-1zM476 248h1v1h-1zM489 234h1v1h-1zM486 234h1v1h-1zM482 251h1v1h-1zM486 245h1v1h-1zM499 244h1v1h-1zM494 284h1v1h-1zM492 239h1v1h-1zM475 241h1v1h-1zM486 223h1v1h-1zM483 244h1v1h-1zM467 270h1v1h-1zM475 259h1v1h-1zM485 243h1v1h-1zM481 264h1v1h-1zM466 218h1v1h-1zM472 215h1v1h-1zM494 235h1v1h-1zM493 233h1v1h-1zM497 266h1v1h-1zM496 241h1v1h-1zM469 211h1v1h-1zM491 248h1v1h-1zM470 227h1v1h-1zM456 227h1v1h-1zM482 201h1v1h-1zM505 254h1v1h-1zM489 234h1v1h-1zM500 220h1v1h-1zM474 262h1v1h-1zM465 276h1v1h-1zM462 248h1v1h-1zM480 225h1v1h-1zM475 248h1v1h-1zM474 242h1v1h-1zM488 256h1v1h-1zM480 247h1v1h-1zM497 224h1v1h-1zM494 258h1v1h-1zM474 282h1v1h-1zM475 238h1v1h-1zM479 229h1v1h-1zM472 206h1v1h-1zM496 256h1v1h-1zM486 222h1v1h-1zM501 235h1v1h-1zM502 282h1v1h-1zM480 230h1v1h-1zM495 264h1v1h-1zM467 259h1v1h-1zM474 235h1v1h-1zM500 218h1v1h-1zM487 251h1v1h-1zM486 214h1v1h-1zM484 247h1v1h-1zM483 240h1v1h-1zM471 232h1v1h-1zM441 255h1v1h-1zM452 219h1v1h-1zM467 260h1v1h-1zM482 231h1v1h-1zM494 239h1v1h-1zM490 288h1v1h-1zM489 268h1v1h-1zM474 222h1v1h-1zM493 238h1v1h-1zM479 226h1v1h-1zM477 258h1v1h-1zM480 267h1v1h-1zM485 250h1v1h-1zM481 248h1v1h-1zM489 273h1v1h-1zM482 244h1v1h-1zM482 223h1v1h-1zM479 274h1v1h-1zM497 286h1v1h-1zM488 275h1v1h-1zM483 211h1v1h-1zM494 245h1v1h-1zM498 210h1v1h-1zM462 219h1v1h-1zM482 233h1v1h-1zM474 287h1v1h-1zM467 240h1v1h-1zM482 267h1v1h-1zM463 256h1v1h-1zM472 250h1v1h-1zM475 251h1v1h-1zM484 254h1v1h-1zM489 239h1v1h-1zM478 248h1v1h-1zM488 289h1v1h-1zM505 241h1v1h-1zM477 226h1v1h-1zM487 236h1v1h-1zM480 225h1v1h-1zM481 247h1v1h-1zM476 231h1v1h-1zM496 217h1v1h-1zM497 251h1v1h-1zM495 247h1v1h-1zM480 240h1v1h-1zM484 212h1v1h-1zM476 263h1v1h-1zM467 227h1v1h-1zM481 239h1v1h-1zM482 242h1v1h-1zM478 233h1v1h-1zM492 278h1v1h-1zM488 216h1v1h-1zM487 243h1v1h-1zM507 214h1v1h-1zM485 238h1v1h-1zM492 266h1v1h-1zM490 253h1v1h-1zM489 235h1v1h-1zM478 208h1v1h-1zM487 219h1v1h-1zM505 244h1v1h-1zM473 222h1v1h-1zM482 204h1v1h-1zM483 229h1v1h-1zM492 232h1v1h-1zM476 210h1v1h-1zM485 245h1v1h-1zM488 232h1v1h-1zM489 240h1v1h-1zM479 240h1v1h-1zM495 214h1v1h-1zM502 226h1v1h-1zM469 240h1v1h-1z" fill="#000" fill-opacity="0.4"/>
<path d="M504 265h1v1h-1zM497 276h1v1h-1zM479 250h1v1h-1zM482 241h1v1h-1zM488 218h1v1h-1zM474 220h1v1h-1zM478 256h1v1h-1zM483 244h1v1h-1zM489 239h1v1h-1zM495 241h1v1h-1zM502 237h1v1h-1zM485 262h1v1h-1zM505 256h1v1h-1zM497 214h1v1h-1zM483 249h1v1h-1zM489 213h1v1h-1zM483 260h1v1h-1zM507 217h1v1h-1zM474 273h1v1h-1zM481 271h1v1h-1zM477 273h1v1h-1zM496 211h1v1h-1zM485 237h1v1h-1zM456 226h1v1h-1zM492 244h1v1h-1zM463 236h1v1h-1zM461 216h1v1h-1zM458 254h1v1h-1zM466 208h1v1h-1zM491 253h1v1h-1zM499 210h1v1h-1zM492 273h1v1h-1zM499 230h1v1h-1zM458 273h1v1h-1zM462 212h1v1h-1zM467 246h1v1h-1zM481 275h1v1h-1zM459 205h1v1h-1zM482 225h1v1h-1zM481 215h1v1h-1zM465 230h1v1h-1zM504 233h1v1h-1zM492 255h1v1h-1zM492 272h1v1h-1zM459 238h1v1h-1zM477 269h1v1h-1zM473 217h1v1h-1zM462 264h1v1h-1zM468 247h1v1h-1zM459 270h1v1h-1zM491 260h1v1h-1zM487 272h1v1h-1zM475 236h1v1h-1zM475 242h1v1h-1zM491 250h1v1h-1zM471 218h1v1h-1zM483 222h1v1h-1zM461 208h1v1h-1zM489 238h1v1h-1zM477 222h1v1h-1zM485 216h1v1h-1zM456 269h1v1h-1zM504 207h1v1h-1zM501 264h1v1h-1zM505 247h1v1h-1zM462 257h1v1h-1zM461 244h1v1h-1zM474 271h1v1h-1zM498 241h1v1h-1zM499 205h1v1h-1z" fill="#000" fill-opacity="0.4"/>
<path d="M467 295h1v1h-1zM456 296h1v1h-1zM486 301h1v1h-1zM496 296h1v1h-1zM501 301h1v1h-1zM494 288h1v1h-1zM494 290h1v1h-1zM463 292h1v1h-1zM493 301h1v1h-1zM469 285h1v1h-1zM485 284h1v1h-1zM487 301h1v1h-1zM472 290h1v1h-1zM502 299h1v1h-1zM479 299h1v1h-1zM477 289h1v1h-1zM486 297h1v1h-1zM478 300h1v1h-1zM496 295h1v1h-1zM476 299h1v1h-1zM482 288h1v1h-1zM495 292h1v1h-1zM479 283h1v1h-1zM470 282h1v1h-1zM468 287h1v1h-1zM474 281h1v1h-1zM471 287h1v1h-1zM493 290h1v1h-1zM487 295h1v1h-1zM501 299h1v1h-1zM465 298h1v1h-1zM473 301h1v1h-1zM467 298h1v1h-1zM462 299h1v1h-1zM480 291h1v1h-1zM465 297h1v1h-1zM501 298h1v1h-1zM496 295h1v1h-1zM456 295h1v1h-1zM485 282h1v1h-1zM484 285h1v1h-1zM470 296h1v1h-1zM477 288h1v1h-1zM466 296h1v1h-1zM475 300h1v1h-1zM472 286h1v1h-1zM482 300h1v1h-1zM496 301h1v1h-1zM466 300h1v1h-1zM461 299h1v1h-1zM484 292h1v1h-1zM460 295h1v1h-1zM459 295h1v1h-1zM480 285h1v1h-1zM477 287h1v1h-1zM460 296h1v1h-1zM461 294h1v1h-1zM470 291h1v1h-1zM485 284h1v1h-1zM485 288h1v1h-1zM495 296h1v1h-1zM497 296h1v1h-1zM489 286h1v1h-1zM499 295h1v1h-1zM494 298h1v1h-1zM455 301h1v1h-1zM494 294h1v1h-1zM467 290h1v1h-1zM460 297h1v1h-1zM457 291h1v1h-1zM487 290h1v1h-1zM469 297h1v1h-1zM482 287h1v1h-1zM483 284h1v1h-1zM485 298h1v1h-1zM468 297h1v1h-1zM469 285h1v1h-1zM502 295h1v1h-1zM484 296h1v1h-1zM481 295h1v1h-1zM488 292h1v1h-1zM465 286h1v1h-1zM463 292h1v1h-1zM480 287h1v1h-1zM484 286h1v1h-1zM484 301h1v1h-1zM497 297h1v1h-1zM502 301h1v1h-1zM490 286h1v1h-1zM460 298h1v1h-1zM497 298h1v1h-1zM481 288h1v1h-1zM486 295h1v1h-1zM487 297h1v1h-1zM491 295h1v1h-1zM477 286h1v1h-1zM481 287h1v1h-1zM487 290h1v1h-1zM487 298h1v1h-1zM474 295h1v1h-1zM483 291h1v1h-1zM496 297h1v1h-1zM479 289h1v1h-1zM478 294h1v1h-1zM460 296h1v1h-1zM470 294h1v1h-1zM490 291h1v1h-1zM470 292h1v1h-1zM462 290h1v1h-1zM468 295h1v1h-1zM470 292h1v1h-1zM478 293h1v1h-1zM488 283h1v1h-1zM474 291h1v1h-1zM488 292h1v1h-1zM489 289h1v1h-1zM501 300h1v1h-1zM486 291h1v1h-1zM469 286h1v1h-1zM487 284h1v1h-1zM488 291h1v1h-1zM493 290h1v1h-1zM482 290h1v1h-1zM462 299h1v1h-1zM464 286h1v1h-1zM476 286h1v1h-1zM478 289h1v1h-1zM483 283h1v1h-1zM467 296h1v1h-1zM484 291h1v1h-1zM493 285h1v1h-1zM482 296h1v1h-1zM479 289h1v1h-1zM479 290h1v1h-1zM471 289h1v1h-1zM471 301h1v1h-1zM490 291h1v1h-1zM475 281h1v1h-1zM483 292h1v1h-1zM480 285h1v1h-1zM478 289h1v1h-1zM499 299h1v1h-1zM483 300h1v1h-1zM466 287h1v1h-1zM468 296h1v1h-1zM468 294h1v1h-1zM480 279h1v1h-1zM490 297h1v1h-1zM465 295h1v1h-1zM479 292h1v1h-1zM474 287h1v1h-1zM464 294h1v1h-1zM472 297h1v1h-1zM498 294h1v1h-1zM465 299h1v1h-1zM464 299h1v1h-1zM491 290h1v1h-1zM476 291h1v1h-1zM458 291h1v1h-1zM461 290h1v1h-1zM469 293h1v1h-1zM460 289h1v1h-1zM473 290h1v1h-1zM482 281h1v1h-1zM466 291h1v1h-1zM458 291h1v1h-1zM481 284h1v1h-1zM492 294h1v1h-1zM488 295h1v1h-1zM462 289h1v1h-1zM462 301h1v1h-1zM471 289h1v1h-1zM470 299h1v1h-1zM458 299h1v1h-1zM473 289h1v1h-1zM467 295h1v1h-1zM466 289h1v1h-1zM474 291h1v1h-1zM473 298h1v1h-1zM462 299h1v1h-1zM477 299h1v1h-1zM463 291h1v1h-1zM466 297h1v1h-1zM468 297h1v1h-1zM474 282h1v1h-1zM481 293h1v1h-1zM462 298h1v1h-1zM465 295h1v1h-1zM484 294h1v1h-1zM466 287h1v1h-1zM474 301h1v1h-1zM492 295h1v1h-1zM479 292h1v1h-1zM487 288h1v1h-1zM482 292h1v1h-1zM475 295h1v1h-1zM493 295h1v1h-1zM482 286h1v1h-1zM498 298h1v1h-1zM490 288h1v1h-1zM469 291h1v1h-1zM491 298h1v1h-1zM474 296h1v1h-1zM471 286h1v1h-1zM466 295h1v1h-1zM481 283h1v1h-1zM475 300h1v1h-1zM488 291h1v1h-1zM470 283h1v1h-1zM466 294h1v1h-1zM477 293h1v1h-1zM470 288h1v1h-1zM470 288h1v1h-1zM466 284h1v1h-1zM475 294h1v1h-1zM490 294h1v1h-1zM469 294h1v1h-1zM487 290h1v1h-1zM498 296h1v1h-1zM488 289h1v1h-1zM481 289h1v1h-1zM491 294h1v1h-1zM483 291h1v1h-1zM480 297h1v1h-1zM476 288h1v1h-1zM469 294h1v1h-1zM470 285h1v1h-1zM500 294h1v1h-1zM493 295h1v1h-1zM468 292h1v1h-1zM476 291h1v1h-1zM466 299h1v1h-1zM477 280h1v1h-1zM490 289h1v1h-1zM479 294h1v1h-1zM477 299h1v1h-1zM498 299h1v1h-1zM457 294h1v1h-1zM488 294h1v1h-1zM479 297h1v1h-1zM465 299h1v1h-1zM462 286h1v1h-1zM501 300h1v1h-1zM487 289h1v1h-1zM485 285h1v1h-1zM465 283h1v1h-1zM486 297h1v1h-1zM478 298h1v1h-1zM484 299h1v1h-1zM494 293h1v1h-1zM481 294h1v1h-1zM485 296h1v1h-1zM463 300h1v1h-1zM482 289h1v1h-1zM475 291h1v1h-1zM470 282h1v1h-1zM457 291h1v1h-1zM459 290h1v1h-1zM485 287h1v1h-1zM462 298h1v1h-1zM489 287h1v1h-1zM482 294h1v1h-1zM461 298h1v1h-1zM497 298h1v1h-1zM484 295h1v1h-1zM498 294h1v1h-1zM457 300h1v1h-1zM483 296h1v1h-1zM491 295h1v1h-1zM462 289h1v1h-1zM474 288h1v1h-1zM469 289h1v1h-1zM468 287h1v1h-1zM458 294h1v1h-1zM468 300h1v1h-1zM481 298h1v1h-1zM467 288h1v1h-1zM496 296h1v1h-1zM492 285h1v1h-1zM482 284h1v1h-1zM466 289h1v1h-1zM494 287h1v1h-1zM468 293h1v1h-1zM478 300h1v1h-1zM499 291h1v1h-1zM466 297h1v1h-1zM462 300h1v1h-1zM476 299h1v1h-1zM474 287h1v1h-1zM495 300h1v1h-1zM489 296h1v1h-1zM475 296h1v1h-1zM468 290h1v1h-1zM483 298h1v1h-1zM482 284h1v1h-1zM470 284h1v1h-1zM499 291h1v1h-1zM465 294h1v1h-1zM495 295h1v1h-1zM459 301h1v1h-1zM473 282h1v1h-1zM500 298h1v1h-1zM486 286h1v1h-1zM456 300h1v1h-1zM483 292h1v1h-1zM478 298h1v1h-1zM475 300h1v1h-1zM476 286h1v1h-1zM483 286h1v1h-1zM497 300h1v1h-1zM505 301h1v1h-1zM477 290h1v1h-1zM478 297h1v1h-1zM471 293h1v1h-1zM490 286h1v1h-1zM482 299h1v1h-1zM475 294h1v1h-1zM496 295h1v1h-1zM501 292h1v1h-1zM474 295h1v1h-1zM463 289h1v1h-1zM467 294h1v1h-1zM502 299h1v1h-1zM481 289h1v1h-1zM473 295h1v1h-1zM472 294h1v1h-1zM500 292h1v1h-1zM466 297h1v1h-1zM496 300h1v1h-1zM494 295h1v1h-1zM482 285h1v1h-1zM482 293h1v1h-1zM474 291h1v1h-1zM484 297h1v1h-1zM491 300h1v1h-1zM495 292h1v1h-1zM478 287h1v1h-1zM499 292h1v1h-1zM489 284h1v1h-1zM478 293h1v1h-1zM489 288h1v1h-1zM465 291h1v1h-1zM480 284h1v1h-1zM477 286h1v1h-1zM465 287h1v1h-1zM478 295h1v1h-1zM493 295h1v1h-1zM491 285h1v1h-1zM466 286h1v1h-1zM489 299h1v1h-1zM478 296h1v1h-1zM484 296h1v1h-1zM484 285h1v1h-1zM459 291h1v1h-1zM490 291h1v1h-1zM503 299h1v1h-1zM468 288h1v1h-1zM476 297h1v1h-1zM471 288h1v1h-1zM460 300h1v1h-1zM482 294h1v1h-1zM459 301h1v1h-1zM457 301h1v1h-1zM487 284h1v1h-1zM486 290h1v1h-1zM464 300h1v1h-1zM481 290h1v1h-1zM489 283h1v1h-1zM487 286h1v1h-1zM488 298h1v1h-1zM470 299h1v1h-1zM455 298h1v1h-1zM490 285h1v1h-1zM467 289h1v1h-1zM486 285h1v1h-1zM478 292h1v1h-1zM472 299h1v1h-1zM459 298h1v1h-1zM478 286h1v1h-1zM498 296h1v1h-1zM473 296h1v1h-1zM501 297h1v1h-1zM475 283h1v1h-1zM461 292h1v1h-1zM491 293h1v1h-1zM500 298h1v1h-1zM478 289h1v1h-1zM476 285h1v1h-1zM480 285h1v1h-1zM473 292h1v1h-1zM481 291h1v1h-1zM470 290h1v1h-1zM467 288h1v1h-1zM489 294h1v1h-1zM461 289h1v1h-1zM460 291h1v1h-1zM483 290h1v1h-1zM481 280h1v1h-1zM489 293h1v1h-1zM491 292h1v1h-1zM488 285h1v1h-1zM464 296h1v1h-1zM467 287h1v1h-1zM490 291h1v1h-1zM477 297h1v1h-1zM461 301h1v1h-1zM483 298h1v1h-1zM497 294h1v1h-1zM469 285h1v1h-1zM460 295h1v1h-1zM491 292h1v1h-1zM476 299h1v1h-1zM490 298h1v1h-1zM472 291h1v1h-1zM457 293h1v1h-1zM483 293h1v1h-1zM483 286h1v1h-1zM493 291h1v1h-1zM470 297h1v1h-1zM483 297h1v1h-1zM460 294h1v1h-1zM491 283h1v1h-1zM489 294h1v1h-1zM472 293h1v1h-1zM464 297h1v1h-1zM480 288h1v1h-1zM471 296h1v1h-1zM499 300h1v1h-1zM463 287h1v1h-1zM460 294h1v1h-1zM483 290h1v1h-1zM472 296h1v1h-1zM459 300h1v1h-1zM468 287h1v1h-1zM490 292h1v1h-1zM471 296h1v1h-1zM470 287h1v1h-1zM452 301h1v1h-1zM481 285h1v1h-1zM492 293h1v1h-1zM488 288h1v1h-1zM466 288h1v1h-1zM479 291h1v1h-1zM467 293h1v1h-1zM484 301h1v1h-1zM484 282h1v1h-1zM470 299h1v1h-1zM478 292h1v1h-1zM481 286h1v1h-1zM486 283h1v1h-1zM488 301h1v1h-1zM485 293h1v1h-1zM502 300h1v1h-1zM473 292h1v1h-1zM474 286h1v1h-1zM498 298h1v1h-1zM471 286h1v1h-1zM487 291h1v1h-1zM497 297h1v1h-1zM479 295h1v1h-1zM488 292h1v1h-1zM474 299h1v1h-1zM475 298h1v1h-1zM472 289h1v1h-1zM478 299h1v1h-1zM490 287h1v1h-1zM481 290h1v1h-1zM458 289h1v1h-1zM461 300h1v1h-1zM458 292h1v1h-1zM488 291h1v1h-1zM480 291h1v1h-1zM471 288h1v1h-1zM487 291h1v1h-1zM481 283h1v1h-1zM493 298h1v1h-1zM479 294h1v1h-1zM458 290h1v1h-1zM466 283h1v1h-1zM502 301h1v1h-1zM495 286h1v1h-1zM458 294h1v1h-1zM471 294h1v1h-1zM476 296h1v1h-1zM479 288h1v1h-1zM488 299h1v1h-1zM465 292h1v1h-1zM466 287h1v1h-1zM495 297h1v1h-1zM457 298h1v1h-1zM494 296h1v1h-1zM476 286h1v1h-1zM475 301h1v1h-1zM500 295h1v1h-1zM484 298h1v1h-1zM462 296h1v1h-1zM498 298h1v1h-1zM460 299h1v1h-1zM478 280h1v1h-1zM478 286h1v1h-1zM469 301h1v1h-1zM493 286h1v1h-1zM467 300h1v1h-1zM479 287h1v1h-1zM479 292h1v1h-1zM472 293h1v1h-1zM466 288h1v1h-1zM466 288h1v1h-1zM483 284h1v1h-1zM487 283h1v1h-1zM471 298h1v1h-1zM488 298h1v1h-1zM492 298h1v1h-1zM467 292h1v1h-1zM479 290h1v1h-1zM463 299h1v1h-1zM491 295h1v1h-1zM503 295h1v1h-1zM470 289h1v1h-1zM485 288h1v1h-1zM458 300h1v1h-1zM460 295h1v1h-1zM489 289h1v1h-1zM501 296h1v1h-1zM468 299h1v1h-1zM488 295h1v1h-1zM485 281h1v1h-1zM491 287h1v1h-1zM500 291h1v1h-1zM473 286h1v1h-1zM481 290h1v1h-1zM487 292h1v1h-1zM482 284h1v1h-1zM489 290h1v1h-1zM471 291h1v1h-1zM461 298h1v1h-1zM473 294h1v1h-1zM473 284h1v1h-1zM471 300h1v1h-1zM461 301h1v1h-1zM459 294h1v1h-1zM482 300h1v1h-1zM498 298h1v1h-1zM477 291h1v1h-1zM481 287h1v1h-1zM474 287h1v1h-1zM496 300h1v1h-1zM475 295h1v1h-1zM496 299h1v1h-1zM494 295h1v1h-1zM468 284h1v1h-1zM478 287h1v1h-1zM470 294h1v1h-1zM486 288h1v1h-1zM479 293h1v1h-1zM467 301h1v1h-1zM476 291h1v1h-1zM477 296h1v1h-1zM477 297h1v1h-1zM493 293h1v1h-1zM473 288h1v1h-1zM462 292h1v1h-1zM479 297h1v1h-1zM481 286h1v1h-1zM486 289h1v1h-1zM471 283h1v1h-1zM462 291h1v1h-1zM464 288h1v1h-1zM493 290h1v1h-1zM493 292h1v1h-1zM479 289h1v1h-1zM494 300h1v1h-1zM480 291h1v1h-1zM466 287h1v1h-1zM466 288h1v1h-1zM499 301h1v1h-1zM498 295h1v1h-1zM455 299h1v1h-1zM464 300h1v1h-1zM475 280h1v1h-1zM490 288h1v1h-1zM481 296h1v1h-1zM485 300h1v1h-1zM476 285h1v1h-1zM493 296h1v1h-1zM492 297h1v1h-1zM486 299h1v1h-1zM461 296h1v1h-1zM467 285h1v1h-1zM458 292h1v1h-1zM471 288h1v1h-1zM465 300h1v1h-1zM478 293h1v1h-1zM497 292h1v1h-1zM494 297h1v1h-1zM485 291h1v1h-1zM491 297h1v1h-1zM479 294h1v1h-1zM472 297h1v1h-1zM467 299h1v1h-1zM458 296h1v1h-1zM496 289h1v1h-1zM475 296h1v1h-1zM471 290h1v1h-1zM477 292h1v1h-1zM478 288h1v1h-1zM458 293h1v1h-1zM469 286h1v1h-1zM463 294h1v1h-1zM473 287h1v1h-1zM483 290h1v1h-1zM478 279h1v1h-1zM476 284h1v1h-1zM487 287h1v1h-1zM464 288h1v1h-1zM467 293h1v1h-1zM479 289h1v1h-1zM487 288h1v1h-1zM484 290h1v1h-1zM477 283h1v1h-1zM464 293h1v1h-1zM476 287h1v1h-1zM486 299h1v1h-1zM478 288h1v1h-1zM494 300h1v1h-1zM481 293h1v1h-1zM469 290h1v1h-1zM499 296h1v1h-1zM474 289h1v1h-1zM493 285h1v1h-1zM470 300h1v1h-1zM459 295h1v1h-1zM475 298h1v1h-1zM469 297h1v1h-1zM479 301h1v1h-1zM470 300h1v1h-1zM457 297h1v1h-1zM460 300h1v1h-1zM476 286h1v1h-1zM480 293h1v1h-1zM471 300h1v1h-1zM469 300h1v1h-1zM494 297h1v1h-1zM484 292h1v1h-1zM490 289h1v1h-1zM480 286h1v1h-1zM485 294h1v1h-1zM502 296h1v1h-1zM468 290h1v1h-1zM467 292h1v1h-1zM501 300h1v1h-1zM483 291h1v1h-1zM475 281h1v1h-1zM494 291h1v1h-1zM461 293h1v1h-1zM497 297h1v1h-1zM494 290h1v1h-1zM486 292h1v1h-1zM478 297h1v1h-1zM495 291h1v1h-1zM463 297h1v1h-1zM462 295h1v1h-1zM497 296h1v1h-1zM487 287h1v1h-1zM487 287h1v1h-1zM474 292h1v1h-1zM482 284h1v1h-1zM471 292h1v1h-1zM469 280h1v1h-1zM488 300h1v1h-1zM500 300h1v1h-1zM494 300h1v1h-1zM469 301h1v1h-1zM495 295h1v1h-1zM474 287h1v1h-1zM485 288h1v1h-1zM486 296h1v1h-1zM487 296h1v1h-1zM473 295h1v1h-1zM471 301h1v1h-1zM465 295h1v1h-1zM485 284h1v1h-1zM470 282h1v1h-1zM469 299h1v1h-1zM476 294h1v1h-1zM488 289h1v1h-1zM471 291h1v1h-1zM471 283h1v1h-1zM495 295h1v1h-1zM471 294h1v1h-1zM489 300h1v1h-1zM465 297h1v1h-1zM475 282h1v1h-1zM467 298h1v1h-1zM492 288h1v1h-1zM479 297h1v1h-1zM479 298h1v1h-1zM465 301h1v1h-1zM463 298h1v1h-1zM500 299h1v1h-1zM465 297h1v1h-1zM498 296h1v1h-1zM496 293h1v1h-1zM469 285h1v1h-1zM497 300h1v1h-1zM482 283h1v1h-1zM472 299h1v1h-1zM493 296h1v1h-1zM466 298h1v1h-1zM484 300h1v1h-1zM464 297h1v1h-1zM471 287h1v1h-1zM465 294h1v1h-1zM486 297h1v1h-1zM464 288h1v1h-1zM478 297h1v1h-1zM473 291h1v1h-1zM461 292h1v1h-1zM477 284h1v1h-1zM471 289h1v1h-1zM473 295h1v1h-1zM465 293h1v1h-1zM488 292h1v1h-1zM468 289h1v1h-1zM483 285h1v1h-1zM480 298h1v1h-1zM485 293h1v1h-1zM463 292h1v1h-1zM468 292h1v1h-1zM458 294h1v1h-1zM478 285h1v1h-1zM494 292h1v1h-1zM495 300h1v1h-1zM498 298h1v1h-1zM482 293h1v1h-1zM477 299h1v1h-1zM495 297h1v1h-1zM487 287h1v1h-1zM467 285h1v1h-1zM480 296h1v1h-1zM485 289h1v1h-1zM462 300h1v1h-1zM458 297h1v1h-1zM477 295h1v1h-1zM473 290h1v1h-1zM479 284h1v1h-1zM465 285h1v1h-1zM466 298h1v1h-1zM484 285h1v1h-1zM464 290h1v1h-1zM481 286h1v1h-1zM481 289h1v1h-1zM477 297h1v1h-1zM462 290h1v1h-1zM486 284h1v1h-1zM467 298h1v1h-1zM491 283h1v1h-1zM491 289h1v1h-1zM459 293h1v1h-1zM457 296h1v1h-1zM487 296h1v1h-1zM465 284h1v1h-1zM479 291h1v1h-1zM493 291h1v1h-1zM477 280h1v1h-1zM500 293h1v1h-1zM485 293h1v1h-1zM459 300h1v1h-1zM459 298h1v1h-1zM475 294h1v1h-1zM468 282h1v1h-1zM466 294h1v1h-1zM497 300h1v1h-1zM488 283h1v1h-1zM462 293h1v1h-1zM468 290h1v1h-1zM468 292h1v1h-1zM463 294h1v1h-1zM469 301h1v1h-1zM499 299h1v1h-1zM481 297h1v1h-1zM482 281h1v1h-1zM479 295h1v1h-1zM472 284h1v1h-1zM484 282h1v1h-1zM475 288h1v1h-1zM475 298h1v1h-1zM473 289h1v1h-1zM497 289h1v1h-1zM460 297h1v1h-1zM483 280h1v1h-1zM457 289h1v1h-1zM504 301h1v1h-1zM480 291h1v1h-1zM496 292h1v1h-1zM473 282h1v1h-1zM459 296h1v1h-1zM481 301h1v1h-1zM454 300h1v1h-1zM468 289h1v1h-1zM495 290h1v1h-1zM481 299h1v1h-1zM466 288h1v1h-1zM501 291h1v1h-1zM483 293h1v1h-1zM484 288h1v1h-1zM493 297h1v1h-1zM468 297h1v1h-1zM467 293h1v1h-1zM483 296h1v1h-1zM492 300h1v1h-1zM463 294h1v1h-1zM475 290h1v1h-1zM488 295h1v1h-1zM459 295h1v1h-1zM457 296h1v1h-1zM479 287h1v1h-1zM478 286h1v1h-1zM468 285h1v1h-1zM486 285h1v1h-1zM491 290h1v1h-1zM486 294h1v1h-1zM489 291h1v1h-1zM483 284h1v1h-1zM466 296h1v1h-1zM487 299h1v1h-1zM488 291h1v1h-1zM486 300h1v1h-1zM476 286h1v1h-1zM475 298h1v1h-1zM462 295h1v1h-1zM498 290h1v1h-1zM477 283h1v1h-1zM458 294h1v1h-1zM496 299h1v1h-1zM478 280h1v1h-1zM481 295h1v1h-1zM496 299h1v1h-1zM481 297h1v1h-1zM475 289h1v1h-1zM499 301h1v1h-1zM484 295h1v1h-1zM489 294h1v1h-1zM487 295h1v1h-1zM476 287h1v1h-1zM472 294h1v1h-1zM491 297h1v1h-1zM466 300h1v1h-1zM499 294h1v1h-1zM484 284h1v1h-1zM488 292h1v1h-1zM492 293h1v1h-1zM475 287h1v1h-1zM482 291h1v1h-1zM489 295h1v1h-1zM490 289h1v1h-1zM481 282h1v1h-1zM480 281h1v1h-1zM500 301h1v1h-1zM466 297h1v1h-1zM491 291h1v1h-1zM491 283h1v1h-1zM467 285h1v1h-1zM464 287h1v1h-1zM472 284h1v1h-1zM489 294h1v1h-1zM500 300h1v1h-1zM479 297h1v1h-1zM487 294h1v1h-1zM494 292h1v1h-1zM476 285h1v1h-1zM484 290h1v1h-1zM465 286h1v1h-1zM471 286h1v1h-1zM481 295h1v1h-1zM484 291h1v1h-1zM466 300h1v1h-1zM497 289h1v1h-1zM466 287h1v1h-1zM499 295h1v1h-1zM499 297h1v1h-1zM479 284h1v1h-1zM484 291h1v1h-1zM495 297h1v1h-1zM487 299h1v1h-1zM479 287h1v1h-1zM484 292h1v1h-1zM476 291h1v1h-1zM459 293h1v1h-1zM462 299h1v1h-1zM499 298h1v1h-1zM487 292h1v1h-1zM472 299h1v1h-1zM463 291h1v1h-1zM471 295h1v1h-1zM464 286h1v1h-1zM466 292h1v1h-1zM485 299h1v1h-1zM473 297h1v1h-1zM463 291h1v1h-1zM466 292h1v1h-1zM498 301h1v1h-1zM484 291h1v1h-1zM497 293h1v1h-1zM483 301h1v1h-1zM492 290h1v1h-1zM499 293h1v1h-1zM488 296h1v1h-1zM466 297h1v1h-1zM466 300h1v1h-1zM484 290h1v1h-1zM472 291h1v1h-1zM485 300h1v1h-1zM479 288h1v1h-1zM475 297h1v1h-1zM481 283h1v1h-1zM460 299h1v1h-1zM480 297h1v1h-1zM476 282h1v1h-1zM488 292h1v1h-1zM463 293h1v1h-1zM491 290h1v1h-1zM463 297h1v1h-1zM495 289h1v1h-1zM502 297h1v1h-1zM480 286h1v1h-1zM479 287h1v1h-1zM483 287h1v1h-1zM480 294h1v1h-1zM472 288h1v1h-1zM476 300h1v1h-1zM488 289h1v1h-1zM483 295h1v1h-1zM471 287h1v1h-1zM460 297h1v1h-1zM468 292h1v1h-1zM464 285h1v1h-1zM479 300h1v1h-1zM460 301h1v1h-1zM491 284h1v1h-1zM469 294h1v1h-1zM469 300h1v1h-1zM462 290h1v1h-1zM483 281h1v1h-1zM474 285h1v1h-1zM459 289h1v1h-1zM499 294h1v1h-1zM491 291h1v1h-1zM485 293h1v1h-1zM494 297h1v1h-1zM466 293h1v1h-1zM485 283h1v1h-1zM465 301h1v1h-1zM495 295h1v1h-1zM494 284h1v1h-1zM462 290h1v1h-1zM485 290h1v1h-1zM496 296h1v1h-1zM467 292h1v1h-1zM494 289h1v1h-1zM473 297h1v1h-1zM467 290h1v1h-1zM488 285h1v1h-1zM484 293h1v1h-1zM485 297h1v1h-1zM462 296h1v1h-1zM484 301h1v1h-1zM500 300h1v1h-1zM497 295h1v1h-1zM492 290h1v1h-1zM499 289h1v1h-1zM463 288h1v1h-1zM492 299h1v1h-1zM471 299h1v1h-1zM488 287h1v1h-1zM460 295h1v1h-1zM484 287h1v1h-1zM453 301h1v1h-1zM479 296h1v1h-1zM480 286h1v1h-1zM493 286h1v1h-1zM455 295h1v1h-1zM499 293h1v1h-1zM497 295h1v1h-1zM486 292h1v1h-1zM470 296h1v1h-1zM478 282h1v1h-1zM488 287h1v1h-1zM468 289h1v1h-1zM454 298h1v1h-1zM498 294h1v1h-1zM476 290h1v1h-1zM484 295h1v1h-1zM471 288h1v1h-1zM461 301h1v1h-1zM479 283h1v1h-1zM486 293h1v1h-1zM479 281h1v1h-1zM496 299h1v1h-1zM499 293h1v1h-1zM485 283h1v1h-1zM487 285h1v1h-1zM481 296h1v1h-1zM455 298h1v1h-1zM464 297h1v1h-1zM470 293h1v1h-1zM469 288h1v1h-1zM475 292h1v1h-1zM484 280h1v1h-1zM491 300h1v1h-1zM469 286h1v1h-1zM477 281h1v1h-1zM481 291h1v1h-1zM460 299h1v1h-1zM465 297h1v1h-1zM474 282h1v1h-1zM486 297h1v1h-1zM487 296h1v1h-1zM478 293h1v1h-1zM478 289h1v1h-1zM464 297h1v1h-1zM480 290h1v1h-1zM457 299h1v1h-1zM476 296h1v1h-1zM477 283h1v1h-1zM458 300h1v1h-1zM475 299h1v1h-1zM481 289h1v1h-1zM485 297h1v1h-1zM477 287h1v1h-1zM479 280h1v1h-1zM496 294h1v1h-1zM466 284h1v1h-1zM488 288h1v1h-1zM492 290h1v1h-1zM486 284h1v1h-1zM470 281h1v1h-1zM470 285h1v1h-1zM457 300h1v1h-1zM469 294h1v1h-1zM463 284h1v1h-1zM487 288h1v1h-1zM481 295h1v1h-1zM486 288h1v1h-1zM477 291h1v1h-1zM473 298h1v1h-1zM473 285h1v1h-1zM471 286h1v1h-1zM493 300h1v1h-1zM467 289h1v1h-1zM490 301h1v1h-1zM493 301h1v1h-1zM499 300h1v1h-1zM488 290h1v1h-1zM471 293h1v1h-1zM474 294h1v1h-1zM498 301h1v1h-1zM483 291h1v1h-1zM477 301h1v1h-1zM480 296h1v1h-1zM474 294h1v1h-1zM469 288h1v1h-1zM477 291h1v1h-1zM488 294h1v1h-1zM497 299h1v1h-1zM481 283h1v1h-1zM484 295h1v1h-1zM497 288h1v1h-1zM495 289h1v1h-1zM490 293h1v1h-1zM466 298h1v1h-1zM482 287h1v1h-1zM488 282h1v1h-1zM472 300h1v1h-1zM475 280h1v1h-1zM497 290h1v1h-1zM475 290h1v1h-1zM476 287h1v1h-1zM455 300h1v1h-1zM471 301h1v1h-1zM492 290h1v1h-1zM460 301h1v1h-1zM493 297h1v1h-1zM485 294h1v1h-1zM486 284h1v1h-1zM467 298h1v1h-1zM480 292h1v1h-1zM464 285h1v1h-1zM469 289h1v1h-1zM468 288h1v1h-1zM481 299h1v1h-1zM465 294h1v1h-1zM457 290h1v1h-1zM494 299h1v1h-1zM487 288h1v1h-1zM469 281h1v1h-1zM479 288h1v1h-1zM469 285h1v1h-1zM484 282h1v1h-1zM469 298h1v1h-1z" fill="#000" fill-opacity="0.38"/>
<path d="M492 289h1v1h-1zM472 295h1v1h-1zM482 292h1v1h-1zM487 301h1v1h-1zM471 285h1v1h-1zM476 288h1v1h-1zM467 299h1v1h-1zM484 283h1v1h-1zM470 291h1v1h-1zM481 298h1v1h-1zM487 294h1v1h-1zM492 290h1v1h-1zM476 299h1v1h-1zM467 295h1v1h-1zM465 290h1v1h-1zM486 291h1v1h-1zM501 297h1v1h-1zM484 287h1v1h-1zM475 294h1v1h-1zM490 301h1v1h-1zM471 298h1v1h-1zM463 294h1v1h-1zM469 301h1v1h-1zM484 289h1v1h-1zM489 296h1v1h-1zM481 287h1v1h-1zM469 297h1v1h-1zM487 294h1v1h-1zM472 288h1v1h-1zM496 289h1v1h-1zM473 289h1v1h-1zM467 300h1v1h-1zM463 294h1v1h-1zM491 290h1v1h-1zM475 294h1v1h-1zM492 295h1v1h-1zM496 291h1v1h-1zM461 301h1v1h-1zM466 290h1v1h-1zM494 297h1v1h-1zM465 290h1v1h-1zM473 287h1v1h-1zM496 296h1v1h-1zM485 287h1v1h-1zM488 284h1v1h-1zM499 295h1v1h-1zM490 290h1v1h-1zM476 288h1v1h-1zM482 287h1v1h-1zM497 300h1v1h-1zM495 292h1v1h-1zM475 290h1v1h-1zM463 292h1v1h-1zM473 289h1v1h-1zM474 298h1v1h-1zM464 293h1v1h-1zM458 300h1v1h-1zM484 295h1v1h-1zM479 287h1v1h-1zM489 300h1v1h-1zM475 283h1v1h-1zM475 294h1v1h-1zM483 299h1v1h-1zM483 287h1v1h-1zM467 297h1v1h-1zM493 296h1v1h-1zM486 298h1v1h-1zM483 293h1v1h-1zM488 295h1v1h-1zM480 301h1v1h-1zM466 295h1v1h-1zM487 287h1v1h-1zM494 293h1v1h-1zM479 293h1v1h-1zM465 295h1v1h-1zM497 293h1v1h-1zM484 286h1v1h-1zM484 291h1v1h-1zM473 292h1v1h-1zM473 295h1v1h-1z" fill="#000" fill-opacity="0.7"/>
<path d="M445 297h1v1h-1zM430 297h1v1h-1zM432 296h1v1h-1zM437 297h1v1h-1zM446 294h1v1h-1zM450 300h1v1h-1zM429 290h1v1h-1zM439 298h1v1h-1zM446 294h1v1h-1zM438 297h1v1h-1zM425 299h1v1h-1zM429 293h1v1h-1zM451 295h1v1h-1zM437 292h1v1h-1zM435 301h1v1h-1zM440 292h1v1h-1zM429 297h1v1h-1zM428 294h1v1h-1zM448 301h1v1h-1zM441 286h1v1h-1zM438 294h1v1h-1zM427 297h1v1h-1zM429 296h1v1h-1zM426 297h1v1h-1zM432 296h1v1h-1zM428 298h1v1h-1zM440 288h1v1h-1zM443 298h1v1h-1zM428 298h1v1h-1zM428 296h1v1h-1zM440 292h1v1h-1zM441 299h1v1h-1zM434 299h1v1h-1zM443 295h1v1h-1zM424 299h1v1h-1zM441 296h1v1h-1zM426 297h1v1h-1zM443 296h1v1h-1zM442 289h1v1h-1zM445 301h1v1h-1zM431 290h1v1h-1zM437 287h1v1h-1zM428 296h1v1h-1zM443 298h1v1h-1zM435 294h1v1h-1zM436 297h1v1h-1zM445 294h1v1h-1zM431 298h1v1h-1zM428 298h1v1h-1zM443 298h1v1h-1zM440 291h1v1h-1zM429 290h1v1h-1zM438 299h1v1h-1zM437 299h1v1h-1zM452 298h1v1h-1zM424 298h1v1h-1zM429 299h1v1h-1zM433 293h1v1h-1zM424 297h1v1h-1zM430 291h1v1h-1zM431 289h1v1h-1zM450 295h1v1h-1zM426 291h1v1h-1zM449 301h1v1h-1zM437 289h1v1h-1zM449 290h1v1h-1zM436 298h1v1h-1zM440 288h1v1h-1zM441 298h1v1h-1zM444 290h1v1h-1zM430 290h1v1h-1zM451 297h1v1h-1zM424 297h1v1h-1zM439 300h1v1h-1zM448 297h1v1h-1zM426 299h1v1h-1zM447 295h1v1h-1zM439 290h1v1h-1zM439 288h1v1h-1zM445 296h1v1h-1zM447 295h1v1h-1zM447 295h1v1h-1zM444 298h1v1h-1zM430 293h1v1h-1zM430 297h1v1h-1zM442 290h1v1h-1zM426 301h1v1h-1zM442 289h1v1h-1zM428 292h1v1h-1zM448 297h1v1h-1zM427 300h1v1h-1zM434 299h1v1h-1zM436 298h1v1h-1zM433 293h1v1h-1zM451 294h1v1h-1zM429 293h1v1h-1zM452 295h1v1h-1zM425 300h1v1h-1zM432 298h1v1h-1zM436 289h1v1h-1zM428 297h1v1h-1zM445 294h1v1h-1zM450 295h1v1h-1zM444 290h1v1h-1zM428 299h1v1h-1zM440 296h1v1h-1zM440 287h1v1h-1zM445 299h1v1h-1zM450 298h1v1h-1zM432 293h1v1h-1zM452 299h1v1h-1zM444 293h1v1h-1zM444 292h1v1h-1zM425 293h1v1h-1zM445 291h1v1h-1zM437 297h1v1h-1zM441 293h1v1h-1zM433 291h1v1h-1zM445 300h1v1h-1zM446 291h1v1h-1zM432 293h1v1h-1zM443 291h1v1h-1zM432 299h1v1h-1zM426 298h1v1h-1zM449 295h1v1h-1zM425 293h1v1h-1zM445 301h1v1h-1zM443 291h1v1h-1zM438 287h1v1h-1zM436 301h1v1h-1zM442 301h1v1h-1zM440 293h1v1h-1zM438 296h1v1h-1zM438 293h1v1h-1zM437 292h1v1h-1zM446 297h1v1h-1zM428 294h1v1h-1zM425 299h1v1h-1zM424 300h1v1h-1zM444 291h1v1h-1zM437 292h1v1h-1zM442 299h1v1h-1zM443 301h1v1h-1zM433 292h1v1h-1zM440 289h1v1h-1zM445 300h1v1h-1zM450 294h1v1h-1zM437 295h1v1h-1zM429 300h1v1h-1zM441 298h1v1h-1zM441 294h1v1h-1zM440 293h1v1h-1zM431 299h1v1h-1zM425 299h1v1h-1zM422 297h1v1h-1zM432 295h1v1h-1zM425 293h1v1h-1zM441 293h1v1h-1zM433 291h1v1h-1zM428 293h1v1h-1zM431 291h1v1h-1zM443 299h1v1h-1zM449 300h1v1h-1zM431 294h1v1h-1zM431 299h1v1h-1zM447 291h1v1h-1zM435 294h1v1h-1zM427 296h1v1h-1zM443 296h1v1h-1zM427 294h1v1h-1zM442 296h1v1h-1zM449 294h1v1h-1zM444 294h1v1h-1zM428 295h1v1h-1zM442 300h1v1h-1zM441 292h1v1h-1zM448 294h1v1h-1zM432 291h1v1h-1zM434 295h1v1h-1zM440 292h1v1h-1zM445 293h1v1h-1zM443 301h1v1h-1zM424 298h1v1h-1zM444 299h1v1h-1zM430 300h1v1h-1zM427 297h1v1h-1zM428 290h1v1h-1zM435 291h1v1h-1zM447 297h1v1h-1zM450 295h1v1h-1zM436 295h1v1h-1zM424 300h1v1h-1zM431 298h1v1h-1zM430 298h1v1h-1zM442 292h1v1h-1zM450 300h1v1h-1zM434 290h1v1h-1zM447 297h1v1h-1zM438 295h1v1h-1zM434 297h1v1h-1zM444 300h1v1h-1zM438 297h1v1h-1zM450 295h1v1h-1zM452 296h1v1h-1zM440 297h1v1h-1zM444 296h1v1h-1zM423 297h1v1h-1zM431 299h1v1h-1zM444 300h1v1h-1zM438 297h1v1h-1zM423 300h1v1h-1zM447 298h1v1h-1zM444 288h1v1h-1zM432 291h1v1h-1zM430 293h1v1h-1zM429 295h1v1h-1zM429 294h1v1h-1zM451 299h1v1h-1zM447 299h1v1h-1zM424 300h1v1h-1zM437 297h1v1h-1zM431 298h1v1h-1zM445 291h1v1h-1zM427 294h1v1h-1zM428 292h1v1h-1zM443 296h1v1h-1zM425 299h1v1h-1zM428 294h1v1h-1zM425 293h1v1h-1zM437 291h1v1h-1zM448 296h1v1h-1zM422 299h1v1h-1zM424 293h1v1h-1zM445 301h1v1h-1zM449 291h1v1h-1zM444 296h1v1h-1zM441 291h1v1h-1zM432 294h1v1h-1zM431 298h1v1h-1zM443 291h1v1h-1zM445 297h1v1h-1zM446 296h1v1h-1zM448 299h1v1h-1zM430 296h1v1h-1zM444 291h1v1h-1zM442 288h1v1h-1zM450 298h1v1h-1zM443 289h1v1h-1zM443 297h1v1h-1zM427 296h1v1h-1zM446 293h1v1h-1zM436 299h1v1h-1zM433 291h1v1h-1zM439 299h1v1h-1zM432 297h1v1h-1zM440 301h1v1h-1zM443 298h1v1h-1zM429 298h1v1h-1zM431 292h1v1h-1zM444 297h1v1h-1zM431 297h1v1h-1zM452 296h1v1h-1zM439 297h1v1h-1zM440 291h1v1h-1zM449 298h1v1h-1zM442 292h1v1h-1zM440 301h1v1h-1zM426 298h1v1h-1zM426 297h1v1h-1zM426 298h1v1h-1zM444 294h1v1h-1zM449 301h1v1h-1zM437 297h1v1h-1zM437 293h1v1h-1zM439 292h1v1h-1zM425 299h1v1h-1zM444 301h1v1h-1zM438 294h1v1h-1zM440 294h1v1h-1zM445 298h1v1h-1zM444 301h1v1h-1zM448 297h1v1h-1zM423 298h1v1h-1zM433 296h1v1h-1zM425 295h1v1h-1zM448 295h1v1h-1zM425 300h1v1h-1zM451 298h1v1h-1zM441 290h1v1h-1zM439 300h1v1h-1zM437 298h1v1h-1zM442 292h1v1h-1zM442 289h1v1h-1zM434 292h1v1h-1zM449 298h1v1h-1zM445 292h1v1h-1zM429 289h1v1h-1zM428 291h1v1h-1zM423 295h1v1h-1zM440 291h1v1h-1zM427 293h1v1h-1zM447 300h1v1h-1zM425 300h1v1h-1zM434 300h1v1h-1zM445 301h1v1h-1zM441 298h1v1h-1zM434 293h1v1h-1zM432 287h1v1h-1zM449 295h1v1h-1zM447 294h1v1h-1zM448 299h1v1h-1zM426 299h1v1h-1zM434 296h1v1h-1zM428 296h1v1h-1zM427 293h1v1h-1zM441 300h1v1h-1zM438 292h1v1h-1zM453 301h1v1h-1zM431 291h1v1h-1zM432 299h1v1h-1zM439 290h1v1h-1zM446 297h1v1h-1zM446 296h1v1h-1zM437 293h1v1h-1zM437 294h1v1h-1zM444 289h1v1h-1zM433 295h1v1h-1zM444 299h1v1h-1zM438 300h1v1h-1zM434 299h1v1h-1zM433 288h1v1h-1zM434 299h1v1h-1zM451 295h1v1h-1zM442 295h1v1h-1zM448 299h1v1h-1zM430 291h1v1h-1zM431 290h1v1h-1zM451 293h1v1h-1zM439 298h1v1h-1zM422 296h1v1h-1zM445 299h1v1h-1zM446 298h1v1h-1zM424 297h1v1h-1zM439 293h1v1h-1zM434 290h1v1h-1zM452 300h1v1h-1zM440 287h1v1h-1zM441 296h1v1h-1zM430 293h1v1h-1zM426 296h1v1h-1zM439 290h1v1h-1zM431 290h1v1h-1zM450 297h1v1h-1zM443 299h1v1h-1zM443 298h1v1h-1zM439 301h1v1h-1zM431 296h1v1h-1zM438 290h1v1h-1zM428 293h1v1h-1zM434 293h1v1h-1zM448 295h1v1h-1zM426 293h1v1h-1zM436 290h1v1h-1zM431 300h1v1h-1zM429 295h1v1h-1zM441 299h1v1h-1zM436 294h1v1h-1zM448 292h1v1h-1zM439 298h1v1h-1zM433 301h1v1h-1zM450 298h1v1h-1zM440 287h1v1h-1zM449 295h1v1h-1zM445 293h1v1h-1zM441 292h1v1h-1zM442 295h1v1h-1zM432 293h1v1h-1zM442 296h1v1h-1zM440 289h1v1h-1zM434 292h1v1h-1z" fill="#000" fill-opacity="0.36"/>
<path d="M442 224h1v1h-1zM426 260h1v1h-1zM406 221h1v1h-1zM415 236h1v1h-1zM412 269h1v1h-1zM420 236h1v1h-1zM407 253h1v1h-1zM405 240h1v1h-1zM415 270h1v1h-1zM425 205h1v1h-1zM415 270h1v1h-1zM416 229h1v1h-1zM439 258h1v1h-1zM435 239h1v1h-1zM418 273h1v1h-1zM444 206h1v1h-1zM419 218h1v1h-1zM418 236h1v1h-1zM437 274h1v1h-1zM447 271h1v1h-1zM415 268h1v1h-1zM438 245h1v1h-1zM446 206h1v1h-1zM421 217h1v1h-1zM412 220h1v1h-1zM440 223h1v1h-1zM449 260h1v1h-1zM428 269h1v1h-1zM451 263h1v1h-1zM442 246h1v1h-1z" fill="#000" fill-opacity="0.4"/>
<rect x="402.60" y="199.60" width="107.60" height="103.60" fill="none" stroke="#111" stroke-width="1.2"/>
<line x1="453.60" y1="199.60" x2="453.60" y2="303.20" stroke-width="1.0" style="stroke:#222"/>
<line x1="402.60" y1="278.00" x2="510.20" y2="278.00" stroke-width="1.0" style="stroke:#222"/>
<path d="M402.60 303.20v3.2M402.60 303.20h-3.2M410.70 303.20v2.0M402.60 295.40h-2.0M415.43 303.20v2.0M402.60 290.84h-2.0M418.80 303.20v2.0M402.60 287.61h-2.0M421.40 303.20v2.0M402.60 285.10h-2.0M423.53 303.20v2.0M402.60 283.05h-2.0M425.33 303.20v2.0M402.60 281.31h-2.0M426.89 303.20v2.0M402.60 279.81h-2.0M428.27 303.20v2.0M402.60 278.49h-2.0M429.50 303.20v3.2M402.60 277.30h-3.2M437.60 303.20v2.0M402.60 269.50h-2.0M442.33 303.20v2.0M402.60 264.94h-2.0M445.70 303.20v2.0M402.60 261.71h-2.0M448.30 303.20v2.0M402.60 259.20h-2.0M450.43 303.20v2.0M402.60 257.15h-2.0M452.23 303.20v2.0M402.60 255.41h-2.0M453.79 303.20v2.0M402.60 253.91h-2.0M455.17 303.20v2.0M402.60 252.59h-2.0M456.40 303.20v3.2M402.60 251.40h-3.2M464.50 303.20v2.0M402.60 243.60h-2.0M469.23 303.20v2.0M402.60 239.04h-2.0M472.60 303.20v2.0M402.60 235.81h-2.0M475.20 303.20v2.0M402.60 233.30h-2.0M477.33 303.20v2.0M402.60 231.25h-2.0M479.13 303.20v2.0M402.60 229.51h-2.0M480.69 303.20v2.0M402.60 228.01h-2.0M482.07 303.20v2.0M402.60 226.69h-2.0M483.30 303.20v3.2M402.60 225.50h-3.2M491.40 303.20v2.0M402.60 217.70h-2.0M496.13 303.20v2.0M402.60 213.14h-2.0M499.50 303.20v2.0M402.60 209.91h-2.0M502.10 303.20v2.0M402.60 207.40h-2.0M504.23 303.20v2.0M402.60 205.35h-2.0M506.03 303.20v2.0M402.60 203.61h-2.0M507.59 303.20v2.0M402.60 202.11h-2.0M508.97 303.20v2.0M402.60 200.79h-2.0M510.20 303.20v3.2M402.60 199.60h-3.2" stroke="#000" stroke-width="0.8" fill="none"/>
<text transform="translate(403.60 316.60) scale(0.85 1)" font-size="9.5" text-anchor="middle" style="stroke-width:0.15px">10<tspan font-size="7" dx="0.8" dy="-4.6">0</tspan></text>
<text transform="translate(396.10 303.50) rotate(-90)" font-size="9.5" text-anchor="middle" style="stroke-width:0.15px">10<tspan font-size="7" dx="1" dy="-4.5">0</tspan></text>
<text transform="translate(430.50 316.60) scale(0.85 1)" font-size="9.5" text-anchor="middle" style="stroke-width:0.15px">10<tspan font-size="7" dx="0.8" dy="-4.6">1</tspan></text>
<text transform="translate(396.10 277.60) rotate(-90)" font-size="9.5" text-anchor="middle" style="stroke-width:0.15px">10<tspan font-size="7" dx="1" dy="-4.5">1</tspan></text>
<text transform="translate(457.40 316.60) scale(0.85 1)" font-size="9.5" text-anchor="middle" style="stroke-width:0.15px">10<tspan font-size="7" dx="0.8" dy="-4.6">2</tspan></text>
<text transform="translate(396.10 251.70) rotate(-90)" font-size="9.5" text-anchor="middle" style="stroke-width:0.15px">10<tspan font-size="7" dx="1" dy="-4.5">2</tspan></text>
<text transform="translate(484.30 316.60) scale(0.85 1)" font-size="9.5" text-anchor="middle" style="stroke-width:0.15px">10<tspan font-size="7" dx="0.8" dy="-4.6">3</tspan></text>
<text transform="translate(396.10 225.80) rotate(-90)" font-size="9.5" text-anchor="middle" style="stroke-width:0.15px">10<tspan font-size="7" dx="1" dy="-4.5">3</tspan></text>
<text transform="translate(511.20 316.60) scale(0.85 1)" font-size="9.5" text-anchor="middle" style="stroke-width:0.15px">10<tspan font-size="7" dx="0.8" dy="-4.6">4</tspan></text>
<text transform="translate(396.10 199.90) rotate(-90)" font-size="9.5" text-anchor="middle" style="stroke-width:0.15px">10<tspan font-size="7" dx="1" dy="-4.5">4</tspan></text>
<text transform="translate(406.40 214.90) rotate(0) scale(0.950 1)" font-size="17.00">1</text>
<text transform="translate(489.50 213.60) rotate(0) scale(0.950 1)" font-size="17.00">22</text>
<text transform="translate(405.10 301.70) rotate(0) scale(0.950 1)" font-size="17.00">11</text>
<text transform="translate(489.90 301.70) rotate(0) scale(0.950 1)" font-size="17.00">66</text>
<text transform="translate(272.65 457.62) rotate(0) scale(0.910 1)" font-size="25.60" font-weight="bold">D</text>
<path d="M320.00 465.30V619.60H516.50" fill="none" stroke="#000" stroke-width="1.9"/>
<line x1="313.50" y1="619.60" x2="320.00" y2="619.60" stroke-width="1.3"/>
<text x="311.80" y="623.90" font-size="13.5" text-anchor="end">0</text>
<line x1="313.50" y1="593.88" x2="320.00" y2="593.88" stroke-width="1.3"/>
<text x="311.80" y="598.18" font-size="13.5" text-anchor="end">0.5</text>
<line x1="313.50" y1="568.17" x2="320.00" y2="568.17" stroke-width="1.3"/>
<text x="311.80" y="572.47" font-size="13.5" text-anchor="end">1</text>
<line x1="313.50" y1="542.45" x2="320.00" y2="542.45" stroke-width="1.3"/>
<text x="311.80" y="546.75" font-size="13.5" text-anchor="end">1.5</text>
<line x1="313.50" y1="516.73" x2="320.00" y2="516.73" stroke-width="1.3"/>
<text x="311.80" y="521.03" font-size="13.5" text-anchor="end">2</text>
<line x1="313.50" y1="491.02" x2="320.00" y2="491.02" stroke-width="1.3"/>
<text x="311.80" y="495.32" font-size="13.5" text-anchor="end">2.5</text>
<line x1="313.50" y1="465.30" x2="320.00" y2="465.30" stroke-width="1.3"/>
<text x="311.80" y="469.60" font-size="13.5" text-anchor="end">3</text>
<line x1="320.00" y1="619.60" x2="320.00" y2="625.60" stroke-width="1.3"/>
<line x1="352.75" y1="619.60" x2="352.75" y2="625.60" stroke-width="1.3"/>
<line x1="385.50" y1="619.60" x2="385.50" y2="625.60" stroke-width="1.3"/>
<line x1="418.25" y1="619.60" x2="418.25" y2="625.60" stroke-width="1.3"/>
<line x1="451.00" y1="619.60" x2="451.00" y2="625.60" stroke-width="1.3"/>
<line x1="483.75" y1="619.60" x2="483.75" y2="625.60" stroke-width="1.3"/>
<line x1="516.50" y1="619.60" x2="516.50" y2="625.60" stroke-width="1.3"/>
<text transform="translate(284.77 611.02) rotate(-90) scale(0.947 1)" font-size="19.26" style="stroke-width:0.15px">Copy number/cell</text>
<rect x="355.25" y="595.07" width="9.00" height="24.53" fill="#fff" stroke="#000" stroke-width="1"/>
<line x1="359.55" y1="595.07" x2="359.55" y2="589.77" stroke-width="1.3"/>
<line x1="357.05" y1="589.77" x2="362.05" y2="589.77" stroke-width="1.5"/>
<rect x="364.35" y="593.37" width="9.60" height="26.23" fill="#000"/>
<line x1="369.15" y1="593.37" x2="369.15" y2="583.60" stroke-width="1.3"/>
<line x1="366.65" y1="583.60" x2="371.65" y2="583.60" stroke-width="1.5"/>
<rect x="373.95" y="547.08" width="9.00" height="72.52" fill="url(#hatchd)" stroke="#000" stroke-width="1"/>
<line x1="378.75" y1="547.08" x2="378.75" y2="530.62" stroke-width="1.3"/>
<line x1="376.25" y1="530.62" x2="381.25" y2="530.62" stroke-width="1.5"/>
<rect x="388.00" y="597.79" width="9.00" height="21.81" fill="#fff" stroke="#000" stroke-width="1"/>
<line x1="392.30" y1="597.79" x2="392.30" y2="592.85" stroke-width="1.3"/>
<line x1="389.80" y1="592.85" x2="394.80" y2="592.85" stroke-width="1.5"/>
<rect x="397.10" y="599.03" width="9.60" height="20.57" fill="#000"/>
<line x1="401.90" y1="599.03" x2="401.90" y2="594.91" stroke-width="1.3"/>
<line x1="399.40" y1="594.91" x2="404.40" y2="594.91" stroke-width="1.5"/>
<rect x="406.70" y="538.85" width="9.00" height="80.75" fill="url(#hatchd)" stroke="#000" stroke-width="1"/>
<line x1="411.50" y1="538.85" x2="411.50" y2="530.11" stroke-width="1.3"/>
<line x1="409.00" y1="530.11" x2="414.00" y2="530.11" stroke-width="1.5"/>
<rect x="453.50" y="582.05" width="9.00" height="37.55" fill="#fff" stroke="#000" stroke-width="1"/>
<line x1="457.80" y1="582.05" x2="457.80" y2="578.97" stroke-width="1.3"/>
<line x1="455.30" y1="578.97" x2="460.30" y2="578.97" stroke-width="1.5"/>
<rect x="462.60" y="575.88" width="9.60" height="43.72" fill="#000"/>
<line x1="467.40" y1="575.88" x2="467.40" y2="573.31" stroke-width="1.3"/>
<line x1="464.90" y1="573.31" x2="469.90" y2="573.31" stroke-width="1.5"/>
<rect x="472.20" y="498.73" width="9.00" height="120.87" fill="url(#hatchd)" stroke="#000" stroke-width="1"/>
<line x1="477.00" y1="498.73" x2="477.00" y2="479.19" stroke-width="1.3"/>
<line x1="474.50" y1="479.19" x2="479.50" y2="479.19" stroke-width="1.5"/>
<rect x="486.25" y="577.94" width="9.00" height="41.66" fill="#fff" stroke="#000" stroke-width="1"/>
<line x1="490.55" y1="577.94" x2="490.55" y2="573.31" stroke-width="1.3"/>
<line x1="488.05" y1="573.31" x2="493.05" y2="573.31" stroke-width="1.5"/>
<rect x="495.35" y="572.28" width="9.60" height="47.32" fill="#000"/>
<line x1="500.15" y1="572.28" x2="500.15" y2="559.94" stroke-width="1.3"/>
<line x1="497.65" y1="559.94" x2="502.65" y2="559.94" stroke-width="1.5"/>
<rect x="504.95" y="518.79" width="9.00" height="100.81" fill="url(#hatchd)" stroke="#000" stroke-width="1"/>
<line x1="509.75" y1="518.79" x2="509.75" y2="512.62" stroke-width="1.3"/>
<line x1="507.25" y1="512.62" x2="512.25" y2="512.62" stroke-width="1.5"/>
<text transform="translate(345.80 658.00) rotate(-90) scale(1.015 1)" font-size="13.80">mock</text>
<text transform="translate(376.20 661.50) rotate(-90) scale(1.015 1)" font-size="13.80">ECD2</text>
<text transform="translate(409.80 673.60) rotate(-90) scale(1.015 1)" font-size="13.80">e1a2Mz</text>
<text transform="translate(443.20 658.00) rotate(-90) scale(1.015 1)" font-size="13.80">mock</text>
<text transform="translate(473.90 661.50) rotate(-90) scale(1.015 1)" font-size="13.80">ECD2</text>
<text transform="translate(507.60 673.60) rotate(-90) scale(1.015 1)" font-size="13.80">e1a2Mz</text>
<line x1="328.00" y1="677.50" x2="416.20" y2="677.50" stroke-width="2"/>
<line x1="424.00" y1="677.50" x2="516.00" y2="677.50" stroke-width="2"/>
<text transform="translate(341.89 696.52) rotate(0) scale(1.098 1)" font-size="16.31">OM9;22</text>
<text transform="translate(431.88 695.73) rotate(0) scale(1.059 1)" font-size="16.76">KOPN-30</text>
</svg>
</body></html>
